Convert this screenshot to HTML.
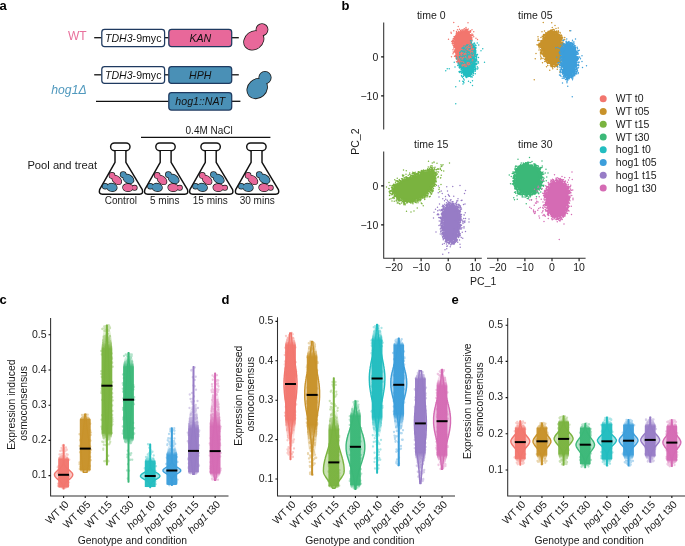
<!DOCTYPE html>
<html><head><meta charset="utf-8"><title>Figure</title>
<style>html,body{margin:0;padding:0;background:#fff;}svg{display:block;}stop{stop-color:currentColor;}text{font-family:"Liberation Sans",sans-serif;}</style>
</head><body>
<svg style="will-change:transform" width="685" height="546" viewBox="0 0 685 546" font-family='"Liberation Sans", sans-serif'>
<rect width="685" height="546" fill="#fff"/>
<text x="-0.60" y="9.60" font-size="13" font-weight="bold" fill="#000">a</text><text x="68.00" y="39.80" font-size="12" fill="#e8709c">WT</text><text x="51.30" y="93.70" font-size="12.2" font-style="italic" fill="#4f98bd">hog1Δ</text><line x1="94.2" y1="37.7" x2="101.5" y2="37.7" stroke="#111" stroke-width="1.3"/><line x1="164.5" y1="37.7" x2="168.6" y2="37.7" stroke="#111" stroke-width="1.3"/><line x1="231.8" y1="37.7" x2="238.8" y2="37.7" stroke="#111" stroke-width="1.3"/><line x1="94.2" y1="74.8" x2="101.5" y2="74.8" stroke="#111" stroke-width="1.3"/><line x1="164.5" y1="74.8" x2="168.6" y2="74.8" stroke="#111" stroke-width="1.3"/><line x1="231.8" y1="74.8" x2="238.8" y2="74.8" stroke="#111" stroke-width="1.3"/><line x1="96" y1="101.3" x2="168.6" y2="101.3" stroke="#111" stroke-width="1.3"/><line x1="231.8" y1="101.3" x2="240.4" y2="101.3" stroke="#111" stroke-width="1.3"/><rect x="101.8" y="29.4" width="62.8" height="17.200000000000003" rx="2.8" fill="#fff" stroke="#1f3a60" stroke-width="1.25"/><rect x="168.8" y="29.4" width="62.89999999999998" height="17.200000000000003" rx="2.8" fill="#e8689a" stroke="#1f3a60" stroke-width="1.25"/><rect x="101.8" y="66.5" width="62.8" height="16.900000000000006" rx="2.8" fill="#fff" stroke="#1f3a60" stroke-width="1.25"/><rect x="168.8" y="66.5" width="62.89999999999998" height="16.900000000000006" rx="2.8" fill="#4a90b6" stroke="#1f3a60" stroke-width="1.25"/><rect x="168.8" y="92.6" width="62.89999999999998" height="17.400000000000006" rx="2.8" fill="#4a90b6" stroke="#1f3a60" stroke-width="1.25"/><text x="133.2" y="41.8" font-size="10.6" text-anchor="middle" fill="#111"><tspan font-style="italic">TDH3</tspan>-9myc</text><text x="133.2" y="78.8" font-size="10.6" text-anchor="middle" fill="#111"><tspan font-style="italic">TDH3</tspan>-9myc</text><text x="200.3" y="41.8" font-size="10.6" text-anchor="middle" font-style="italic" fill="#111">KAN</text><text x="200.3" y="78.8" font-size="10.6" text-anchor="middle" font-style="italic" fill="#111">HPH</text><text x="200.3" y="104.9" font-size="10.6" text-anchor="middle" font-style="italic" fill="#111">hog1::NAT</text><ellipse cx="0" cy="0" rx="10.4" ry="8.6" transform="translate(253.8 40.4) rotate(-38)" fill="#e8689a" stroke="#1a1a1a" stroke-width="1.6"/><circle cx="262.0" cy="29.6" r="5.6" fill="#e8689a" stroke="#1a1a1a" stroke-width="1.6"/><ellipse cx="0" cy="0" rx="10.4" ry="8.6" transform="translate(253.8 40.4) rotate(-38)" fill="#e8689a"/><circle cx="262.0" cy="29.6" r="5.6" fill="#e8689a"/><ellipse cx="0" cy="0" rx="10.6" ry="9.0" transform="translate(257.2 88.6) rotate(-42)" fill="#4a90b6" stroke="#1a1a1a" stroke-width="1.6"/><circle cx="265.0" cy="77.6" r="5.8" fill="#4a90b6" stroke="#1a1a1a" stroke-width="1.6"/><ellipse cx="0" cy="0" rx="10.6" ry="9.0" transform="translate(257.2 88.6) rotate(-42)" fill="#4a90b6"/><circle cx="265.0" cy="77.6" r="5.8" fill="#4a90b6"/><line x1="141" y1="137.4" x2="270.4" y2="137.4" stroke="#111" stroke-width="1.1"/><text x="209.20" y="133.90" font-size="10" text-anchor="middle" fill="#1a1a1a">0.4M NaCl</text><text x="27.40" y="169.40" font-size="11.2" fill="#1a1a1a">Pool and treat</text><g id="flask"><rect x="110.6" y="142.9" width="19.4" height="7.8" rx="3.9" fill="#fff" stroke="#111" stroke-width="1.45"/><path d="M115.0 150.9 V162.3 L99.6 189.6 Q98.4 194.2 102.5 194.2 H139.5 Q143.6 194.2 142.3 189.6 L125.9 162.3 V150.9" fill="#fff" stroke="#111" stroke-width="1.45" stroke-linejoin="round"/><ellipse cx="0" cy="0" rx="5.3" ry="3.5" transform="translate(116.8 180.0) rotate(42)" fill="#e8689a" stroke="#1a1a1a" stroke-width="1.4"/><circle cx="112.0" cy="175.4" r="2.6" fill="#e8689a" stroke="#1a1a1a" stroke-width="1.4"/><ellipse cx="0" cy="0" rx="5.3" ry="3.5" transform="translate(116.8 180.0) rotate(42)" fill="#e8689a"/><circle cx="112.0" cy="175.4" r="2.6" fill="#e8689a"/><ellipse cx="0" cy="0" rx="5.6" ry="3.9" transform="translate(128.4 179.0) rotate(32)" fill="#4a90b6" stroke="#1a1a1a" stroke-width="1.4"/><circle cx="123.2" cy="174.6" r="2.7" fill="#4a90b6" stroke="#1a1a1a" stroke-width="1.4"/><ellipse cx="0" cy="0" rx="5.6" ry="3.9" transform="translate(128.4 179.0) rotate(32)" fill="#4a90b6"/><circle cx="123.2" cy="174.6" r="2.7" fill="#4a90b6"/><ellipse cx="0" cy="0" rx="5.0" ry="3.8" transform="translate(111.9 187.4) rotate(8)" fill="#4a90b6" stroke="#1a1a1a" stroke-width="1.4"/><circle cx="105.2" cy="186.2" r="2.5" fill="#4a90b6" stroke="#1a1a1a" stroke-width="1.4"/><ellipse cx="0" cy="0" rx="5.0" ry="3.8" transform="translate(111.9 187.4) rotate(8)" fill="#4a90b6"/><circle cx="105.2" cy="186.2" r="2.5" fill="#4a90b6"/><ellipse cx="0" cy="0" rx="5.0" ry="3.7" transform="translate(127.9 187.6) rotate(5)" fill="#e8689a" stroke="#1a1a1a" stroke-width="1.4"/><circle cx="134.6" cy="187.8" r="2.3" fill="#e8689a" stroke="#1a1a1a" stroke-width="1.4"/><ellipse cx="0" cy="0" rx="5.0" ry="3.7" transform="translate(127.9 187.6) rotate(5)" fill="#e8689a"/><circle cx="134.6" cy="187.8" r="2.3" fill="#e8689a"/></g><use href="#flask" transform="translate(45.2,0)"/><use href="#flask" transform="translate(90.3,0)"/><use href="#flask" transform="translate(136.1,0)"/><text x="120.90" y="204.40" font-size="10" text-anchor="middle" fill="#1a1a1a">Control</text><text x="164.70" y="204.40" font-size="10" text-anchor="middle" fill="#1a1a1a">5 mins</text><text x="210.30" y="204.40" font-size="10" text-anchor="middle" fill="#1a1a1a">15 mins</text><text x="257.20" y="204.40" font-size="10" text-anchor="middle" fill="#1a1a1a">30 mins</text><text x="341.40" y="9.60" font-size="13" font-weight="bold" fill="#000">b</text><text x="431.20" y="18.70" font-size="10.5" text-anchor="middle" fill="#1a1a1a">time 0</text><text x="535.30" y="18.70" font-size="10.5" text-anchor="middle" fill="#1a1a1a">time 05</text><text x="431.20" y="147.60" font-size="10.5" text-anchor="middle" fill="#1a1a1a">time 15</text><text x="535.30" y="147.60" font-size="10.5" text-anchor="middle" fill="#1a1a1a">time 30</text><path d="M383.7 22.6V129.6M383.7 151.4V258.3H481.8M487.0 258.3H585.6" fill="none" stroke="#303030" stroke-width="1.05"/><path d="M381.1 56.90H383.8M381.1 95.90H383.8M381.1 185.90H383.8M381.1 224.90H383.8M394.00 258.3V261.2M421.10 258.3V261.2M448.20 258.3V261.2M475.30 258.3V261.2M497.80 258.3V261.2M524.90 258.3V261.2M552.00 258.3V261.2M579.10 258.3V261.2" stroke="#111" stroke-width="1.1"/><text x="378.30" y="60.70" font-size="10.5" text-anchor="end" fill="#1a1a1a">0</text><text x="378.30" y="99.70" font-size="10.5" text-anchor="end" fill="#1a1a1a">−10</text><text x="378.30" y="189.70" font-size="10.5" text-anchor="end" fill="#1a1a1a">0</text><text x="378.30" y="228.70" font-size="10.5" text-anchor="end" fill="#1a1a1a">−10</text><text x="394.00" y="270.80" font-size="10.5" text-anchor="middle" fill="#1a1a1a">−20</text><text x="421.10" y="270.80" font-size="10.5" text-anchor="middle" fill="#1a1a1a">−10</text><text x="448.20" y="270.80" font-size="10.5" text-anchor="middle" fill="#1a1a1a">0</text><text x="475.30" y="270.80" font-size="10.5" text-anchor="middle" fill="#1a1a1a">10</text><text x="497.80" y="270.80" font-size="10.5" text-anchor="middle" fill="#1a1a1a">−20</text><text x="524.90" y="270.80" font-size="10.5" text-anchor="middle" fill="#1a1a1a">−10</text><text x="552.00" y="270.80" font-size="10.5" text-anchor="middle" fill="#1a1a1a">0</text><text x="579.10" y="270.80" font-size="10.5" text-anchor="middle" fill="#1a1a1a">10</text><text x="483.20" y="284.80" font-size="10.5" text-anchor="middle" fill="#1a1a1a">PC_1</text><text transform="translate(358.6 141.6) rotate(-90)" font-size="10.5" text-anchor="middle" fill="#1a1a1a">PC_2</text><circle cx="603.2" cy="98.70" r="3.5" fill="#f2766e"/><text x="615.80" y="102.40" font-size="10.5" fill="#1a1a1a">WT t0</text><circle cx="603.2" cy="111.47" r="3.5" fill="#c8922a"/><text x="615.80" y="115.17" font-size="10.5" fill="#1a1a1a">WT t05</text><circle cx="603.2" cy="124.24" r="3.5" fill="#7ab33f"/><text x="615.80" y="127.94" font-size="10.5" fill="#1a1a1a">WT t15</text><circle cx="603.2" cy="137.01" r="3.5" fill="#3bb878"/><text x="615.80" y="140.71" font-size="10.5" fill="#1a1a1a">WT t30</text><circle cx="603.2" cy="149.78" r="3.5" fill="#22bdc0"/><text x="615.80" y="153.48" font-size="10.5" fill="#1a1a1a">hog1 t0</text><circle cx="603.2" cy="162.55" r="3.5" fill="#3c9edb"/><text x="615.80" y="166.25" font-size="10.5" fill="#1a1a1a">hog1 t05</text><circle cx="603.2" cy="175.32" r="3.5" fill="#977cc6"/><text x="615.80" y="179.02" font-size="10.5" fill="#1a1a1a">hog1 t15</text><circle cx="603.2" cy="188.09" r="3.5" fill="#d56bb4"/><text x="615.80" y="191.79" font-size="10.5" fill="#1a1a1a">hog1 t30</text><path d="M461.5 31.6L459.6 32.4L458.1 33.5L456.9 34.8L456.1 36.4L455.5 38.2L455.2 40.0L454.9 42.0L454.9 44.1L455.0 46.3L455.2 48.4L455.4 50.4L455.8 52.4L456.2 54.3L456.7 56.0L457.2 57.3L457.8 58.4L458.6 59.1L459.3 59.2L460.1 58.7L460.9 57.6L461.7 55.8L462.7 54.0L463.9 52.2L465.2 50.3L466.7 48.4L468.0 46.5L469.0 44.6L469.7 42.8L470.1 41.1L470.4 39.4L470.4 37.7L470.2 36.1L469.7 34.5L469.1 33.2L468.3 32.2L467.3 31.5L466.1 31.0L464.7 30.9L463.2 31.1Z" fill="#f2766e"/><path transform="scale(.25)" d="M1815 90h0m57 1h0m-39 15h0m31 4h0m-6 5h0m15 1h0m-17 0h0m10 1h0m-28 0h0m27 0h0m-3 0h0m8 2h0m-22 0h0m0 0h0m40 0h0m-58 0h0m33 1h0m-8 0h0m-5 0h0m-1 1h0m19 0h0m-12 1h0m0 0h0m-7 0h0m-7 0h0m26 0h0m-53 1h0m67 0h0m-1 0h0m-14 0h0m-6 0h0m2 1h0m8 0h0m12 0h0m-24 0h0m-14 1h0m18 0h0m3 0h0m-15 0h0m24 0h0m-7 0h0m-17 0h0m7 0h0m2 0h0m9 1h0m-27 0h0m31 0h0m-47 0h0m8 0h0m40 0h0m-39 0h0m24 0h0m13 0h0m-4 0h0m9 1h0m18 0h0m-33 0h0m-5 0h0m25 0h0m-37 1h0m35 0h0m-34 0h0m-6 0h0m30 0h0m2 1h0m10 0h0m-48 0h0m18 0h0m23 0h0m-71 0h0m73 1h0m0 0h0m-39 0h0m18 0h0m-22 0h0m19 0h0m-25 0h0m9 1h0m8 0h0m31 1h0m-10 0h0m-37 0h0m13 0h0m-13 0h0m48 0h0m-39 1h0m-33 0h0m30 0h0m-10 0h0m52 0h0m-41 1h0m35 1h0m-34 0h0m-1 0h0m2 0h0m0 1h0m-12 0h0m50 0h0m-4 0h0m-41 0h0m57 0h0m-57 0h0m47 1h0m-53 1h0m51 0h0m-45 0h0m51 1h0m-57 0h0m58 0h0m-57 0h0m5 0h0m0 0h0m51 0h0m10 1h0m-13 1h0m13 0h0m-7 0h0m-58 1h0m-3 0h0m-1 0h0m55 1h0m7 0h0m-5 0h0m8 0h0m-65 0h0m5 1h0m-3 1h0m4 0h0m49 0h0m3 0h0m-1 0h0m0 1h0m-61 0h0m58 0h0m18 1h0m-13 0h0m-64 0h0m5 0h0m-7 0h0m9 0h0m-3 1h0m0 0h0m-3 1h0m64 0h0m1 1h0m-3 0h0m-54 0h0m60 0h0m-6 0h0m4 1h0m-66 0h0m63 0h0m-61 1h0m61 0h0m4 0h0m2 0h0m-66 0h0m1 1h0m-3 0h0m61 0h0m-1 0h0m-63 0h0m63 0h0m24 0h0m-23 0h0m-63 0h0m65 1h0m-61 1h0m-9 0h0m72 1h0m-66 0h0m-2 0h0m6 1h0m-29 0h0m86 1h0m30 0h0m-92 0h0m4 1h0m66 0h0m-71 0h0m63 0h0m8 2h0m-7 0h0m-70 0h0m71 0h0m-60 1h0m57 0h0m-63 0h0m61 0h0m-55 0h0m62 0h0m-3 1h0m-69 0h0m63 0h0m-66 1h0m71 0h0m4 1h0m-64 0h0m60 0h0m-63 1h0m5 0h0m-2 0h0m1 0h0m64 0h0m-73 0h0m3 0h0m69 0h0m-77 0h0m75 0h0m-2 0h0m2 0h0m-60 0h0m57 1h0m-61 1h0m-8 0h0m11 1h0m56 0h0m-67 0h0m74 1h0m-4 0h0m-1 0h0m-58 0h0m58 1h0m-59 0h0m-4 0h0m7 1h0m-3 0h0m60 0h0m-61 1h0m-1 0h0m0 0h0m59 1h0m-63 0h0m-5 0h0m71 1h0m-57 0h0m55 0h0m6 0h0m-64 0h0m58 1h0m-58 0h0m-9 0h0m65 1h0m5 0h0m2 0h0m-3 0h0m9 0h0m-71 1h0m58 0h0m-57 0h0m61 0h0m-9 0h0m-51 2h0m-3 1h0m61 0h0m-2 0h0m-56 1h0m-7 0h0m3 0h0m59 0h0m-52 0h0m-9 1h0m65 1h0m-7 1h0m-49 0h0m1 1h0m-8 0h0m6 0h0m-1 1h0m55 1h0m-55 0h0m-2 1h0m7 0h0m43 0h0m-2 0h0m5 0h0m5 0h0m-61 1h0m7 0h0m46 0h0m6 0h0m-11 0h0m2 1h0m-40 0h0m40 0h0m7 0h0m-51 1h0m43 0h0m8 0h0m-58 0h0m50 1h0m-1 0h0m3 1h0m-6 0h0m3 1h0m-2 0h0m16 1h0m12 1h0m-22 0h0m-1 1h0m-5 0h0m-42 0h0m43 0h0m-51 1h0m9 0h0m53 0h0m-54 0h0m3 0h0m45 0h0m-2 0h0m1 1h0m-4 0h0m-41 1h0m40 0h0m1 1h0m-43 0h0m7 0h0m-4 0h0m43 1h0m-47 0h0m53 0h0m21 0h0m-72 0h0m-3 1h0m36 0h0m9 0h0m1 0h0m-6 1h0m10 1h0m-50 0h0m39 0h0m-35 0h0m-1 0h0m0 0h0m56 1h0m-64 1h0m47 0h0m2 0h0m-40 0h0m31 0h0m-29 1h0m31 0h0m4 0h0m-3 0h0m-42 0h0m6 0h0m29 1h0m-28 0h0m32 0h0m-26 0h0m27 0h0m5 0h0m-1 2h0m-35 1h0m28 0h0m0 0h0m-1 1h0m1 0h0m6 0h0m-6 1h0m-39 0h0m38 0h0m-25 0h0m0 1h0m2 0h0m29 0h0m-4 1h0m1 0h0m-2 0h0m1 1h0m-1 0h0m0 0h0m-27 1h0m0 0h0m26 1h0m-5 0h0m14 0h0m-32 0h0m-2 0h0m0 0h0m30 0h0m-30 1h0m23 0h0m-25 0h0m1 0h0m-2 1h0m39 0h0m-10 0h0m-7 0h0m-21 0h0m23 1h0m-20 0h0m23 0h0m-26 1h0m4 0h0m0 1h0m-9 0h0m12 0h0m20 0h0m-4 0h0m2 0h0m-3 1h0m-16 0h0m-7 0h0m12 1h0m-7 0h0m-21 0h0m40 1h0m4 0h0m-1 0h0m-20 1h0m15 0h0m-17 0h0m-1 1h0m12 0h0m-6 0h0m-2 0h0m14 0h0m1 0h0m0 1h0m-5 0h0m3 0h0m-2 0h0m9 1h0m-3 0h0m-23 0h0m19 0h0m-5 1h0m-3 1h0m-2 1h0m-8 0h0m12 2h0m5 0h0m-3 0h0m-9 1h0m21 0h0m-16 0h0m0 0h0m5 3h0m-7 0h0m0 0h0m21 0h0m-14 1h0m22 2h0m-31 0h0m6 1h0m-9 1h0m-2 1h0m14 2h0m-9 0h0" stroke="#f2766e" stroke-width="5.8" stroke-linecap="round" fill="none"/><path d="M466.0 45.0L464.7 46.1L463.6 47.5L462.7 49.3L461.9 51.5L461.2 53.9L460.8 56.4L460.7 59.0L460.8 61.5L461.1 64.1L461.6 66.6L462.3 68.8L463.1 70.9L464.2 72.8L465.3 74.1L466.6 74.9L468.0 75.1L469.6 74.8L470.9 73.6L472.1 71.5L473.1 68.4L473.9 64.5L474.4 60.7L474.6 57.2L474.6 54.0L474.2 50.9L473.6 48.4L472.7 46.5L471.5 45.2L470.1 44.4L468.7 44.1L467.4 44.3Z" fill="#22bdc0"/><path transform="scale(.25)" d="M1882 163h0m6 1h0m-2 6h0m-1 2h0m0 0h0m24 0h0m-12 0h0m-12 1h0m-3 1h0m4 1h0m-5 1h0m1 0h0m5 0h0m6 0h0m6 0h0m-17 0h0m0 1h0m-1 1h0m1 0h0m1 0h0m-2 0h0m6 1h0m6 1h0m22 0h0m-23 0h0m9 0h0m-11 0h0m-5 1h0m4 0h0m5 0h0m-3 0h0m-1 0h0m1 1h0m-8 0h0m21 0h0m-18 0h0m4 0h0m-3 0h0m8 1h0m0 0h0m-2 1h0m1 0h0m-9 0h0m1 0h0m8 0h0m-5 0h0m9 1h0m-9 0h0m2 1h0m-5 1h0m2 2h0m6 0h0m9 0h0m-5 0h0m-5 1h0m5 0h0m-8 0h0m6 0h0m1 1h0m4 1h0m3 0h0m-14 0h0m5 0h0m-1 1h0m-1 1h0m3 0h0m-2 0h0m37 1h0m-40 0h0m9 1h0m2 0h0m-3 0h0m-3 1h0m-2 0h0m3 0h0m-2 0h0m0 1h0m5 0h0m-4 0h0m-2 0h0m-2 0h0m7 1h0m-3 0h0m6 2h0m-6 0h0m3 0h0m-4 1h0m5 0h0m24 1h0m-27 0h0m7 1h0m-9 0h0m6 0h0m-5 1h0m6 0h0m1 0h0m-9 0h0m9 0h0m-9 1h0m4 1h0m-2 0h0m2 0h0m-2 1h0m2 1h0m-2 0h0m5 0h0m-6 0h0m-2 0h0m1 1h0m9 0h0m-10 0h0m5 2h0m1 0h0m1 0h0m-1 2h0m-2 1h0m-2 1h0m8 0h0m-1 1h0m-4 0h0m12 1h0m-15 0h0m13 0h0m-12 1h0m5 0h0m-5 0h0m-1 2h0m3 1h0m9 0h0m-10 0h0m1 0h0m-1 1h0m2 1h0m3 0h0m-4 0h0m0 1h0m2 0h0m-57 1h0m-5 0h0m64 0h0m-4 0h0m0 0h0m-71 1h0m9 1h0m4 0h0m3 0h0m63 0h0m-68 0h0m0 0h0m68 0h0m1 0h0m-70 1h0m-4 0h0m10 1h0m71 0h0m-72 1h0m-1 0h0m58 0h0m7 1h0m-8 1h0m-53 0h0m53 0h0m-69 0h0m-2 1h0m1 0h0m7 0h0m61 0h0m5 1h0m-65 0h0m11 1h0m-5 0h0m53 0h0m4 0h0m-57 0h0m64 0h0m-9 1h0m-57 0h0m61 0h0m-61 0h0m-2 1h0m4 0h0m53 0h0m-52 0h0m-6 0h0m-9 0h0m11 0h0m2 1h0m61 0h0m-3 0h0m-53 0h0m-8 1h0m2 0h0m67 0h0m-71 0h0m62 0h0m-59 0h0m59 0h0m-3 1h0m-62 0h0m66 0h0m8 1h0m-9 0h0m7 0h0m-65 0h0m7 0h0m50 0h0m-59 1h0m59 0h0m-1 0h0m8 0h0m-68 0h0m58 0h0m-54 0h0m1 1h0m-6 1h0m61 0h0m-48 1h0m53 0h0m-57 0h0m-2 0h0m60 0h0m-59 1h0m-10 0h0m67 0h0m-56 0h0m69 0h0m-80 1h0m9 0h0m66 0h0m-68 0h0m2 1h0m1 0h0m55 0h0m40 0h0m-38 0h0m-83 0h0m19 1h0m58 0h0m5 0h0m-1 0h0m-58 1h0m54 0h0m-55 0h0m6 1h0m69 0h0m-76 1h0m-4 0h0m68 0h0m-67 0h0m63 0h0m-1 1h0m2 0h0m-6 0h0m7 0h0m3 1h0m5 0h0m-68 0h0m-7 0h0m72 0h0m1 0h0m-69 0h0m58 0h0m-63 0h0m68 1h0m-59 0h0m53 0h0m-51 0h0m-7 0h0m64 0h0m1 1h0m-8 0h0m-55 0h0m3 0h0m-4 1h0m2 0h0m67 0h0m-63 0h0m-1 0h0m61 0h0m-63 1h0m-4 0h0m4 0h0m56 0h0m-6 1h0m-54 0h0m64 0h0m-61 0h0m62 0h0m-6 1h0m5 0h0m-3 0h0m1 0h0m-2 0h0m-55 0h0m4 0h0m-6 1h0m55 0h0m-2 0h0m-61 0h0m10 1h0m50 0h0m-45 1h0m49 0h0m-49 0h0m-7 0h0m56 0h0m-50 0h0m-1 1h0m0 0h0m1 0h0m56 0h0m-4 1h0m-2 0h0m-51 0h0m55 1h0m10 0h0m-68 0h0m59 1h0m-80 0h0m16 0h0m55 0h0m-44 0h0m0 1h0m2 0h0m43 0h0m2 0h0m-52 0h0m54 1h0m-55 0h0m53 0h0m7 1h0m-54 0h0m-9 0h0m9 0h0m49 1h0m-47 0h0m43 0h0m20 0h0m-74 0h0m57 1h0m8 0h0m-9 0h0m-43 0h0m42 0h0m0 1h0m-48 0h0m56 1h0m-51 0h0m45 0h0m-1 0h0m-1 0h0m2 0h0m-98 0h0m107 1h0m-14 0h0m20 0h0m-19 1h0m5 0h0m-52 0h0m55 1h0m-51 0h0m46 1h0m2 0h0m-6 0h0m2 1h0m10 0h0m-12 0h0m2 0h0m-37 1h0m36 0h0m-42 0h0m45 0h0m-46 0h0m2 1h0m5 0h0m37 0h0m-36 1h0m32 0h0m-35 0h0m34 1h0m-36 0h0m42 0h0m-40 0h0m43 0h0m-41 1h0m-1 0h0m-14 0h0m55 0h0m-5 0h0m11 0h0m-11 0h0m-46 0h0m46 1h0m-34 0h0m-2 0h0m-18 1h0m10 0h0m44 0h0m1 0h0m-35 0h0m34 0h0m-39 0h0m-10 1h0m10 0h0m43 1h0m-2 0h0m-6 0h0m-1 1h0m-29 0h0m-4 0h0m-13 0h0m19 0h0m-8 0h0m34 1h0m-4 0h0m7 0h0m3 0h0m-32 0h0m0 0h0m31 0h0m-35 1h0m29 0h0m-25 1h0m-4 0h0m0 0h0m2 0h0m-10 0h0m47 0h0m-37 0h0m29 1h0m-26 0h0m24 0h0m11 0h0m-32 1h0m24 0h0m0 0h0m15 0h0m-42 0h0m-6 0h0m16 1h0m10 0h0m3 0h0m2 0h0m-16 1h0m-3 0h0m0 0h0m-11 1h0m22 0h0m9 0h0m-24 0h0m4 0h0m2 0h0m-7 0h0m8 0h0m20 1h0m-22 0h0m6 0h0m8 0h0m-24 0h0m17 0h0m-12 0h0m-5 0h0m2 0h0m14 0h0m6 1h0m-16 0h0m-1 0h0m-4 0h0m13 0h0m10 0h0m-17 1h0m7 0h0m8 0h0m-1 0h0m16 0h0m-21 0h0m1 0h0m-14 0h0m9 1h0m14 0h0m-5 0h0m-31 0h0m19 1h0m0 0h0m10 0h0m-2 1h0m-19 0h0m23 0h0m-4 0h0m-3 0h0m-6 0h0m0 1h0m-10 0h0m24 0h0m-2 0h0m-29 0h0m27 1h0m-9 0h0m21 1h0m-24 0h0m20 0h0m-14 1h0m21 0h0m-21 1h0m-18 0h0m16 1h0m-12 5h0m3 5h0m33 3h0m-16 2h0m-23 0h0m3 2h0m28 3h0m-26 1h0m34 11h0m-107-59h0m6-8h0m34 72h0m0 68h0m15-91h0m14 12h0" stroke="#22bdc0" stroke-width="5.8" stroke-linecap="round" fill="none"/><path transform="scale(.25)" d="M1858 166h0m7 0h0m-3 1h0m2 1h0m-15 2h0m13 1h0m5 1h0m4 0h0m-11 0h0m-13 1h0m18 1h0m-8 1h0m-2 0h0m17 0h0m-19 0h0m6 1h0m18 0h0m6 0h0m-18 1h0m18 0h0m-25 0h0m6 0h0m-5 0h0m26 0h0m-33 1h0m-10 1h0m9 0h0m6 0h0m-9 0h0m-5 1h0m38 0h0m-41 1h0m9 0h0m0 1h0m1 0h0m31 1h0m-44 0h0m4 0h0m33 0h0m-10 1h0m-13 0h0m-3 0h0m10 0h0m31 0h0m-4 1h0m-37 0h0m-6 1h0m16 0h0m-20 0h0m31 1h0m13 0h0m5 0h0m-34 1h0m27 0h0m-21 1h0m6 0h0m-14 1h0m24 0h0m1 0h0m-33 0h0m2 0h0m30 1h0m-24 0h0m-8 0h0m44 1h0m-24 0h0m-18 0h0m-10 0h0m37 1h0m14 0h0m-33 1h0m23 0h0m-13 0h0m-26 0h0m58 1h0m-33 0h0m27 0h0m-57 0h0m9 1h0m30 1h0m-22 1h0m36 0h0m-50 0h0m17 0h0m18 0h0m-35 0h0m48 1h0m9 0h0m-30 0h0m-28 0h0m41 0h0m-29 0h0m10 1h0m26 0h0m-15 0h0m14 0h0m-36 1h0m-12 1h0m44 0h0m-15 1h0m14 0h0m1 0h0m-30 0h0m20 1h0m8 0h0m8 0h0m-19 2h0m27 0h0m2 1h0m-4 0h0m-53 0h0m48 0h0m-29 1h0m-18 0h0m4 0h0m-13 0h0m65 0h0m-50 1h0m-16 0h0m56 1h0m-7 0h0m-30 1h0m40 0h0m-1 0h0m-23 1h0m-12 0h0m-14 0h0m34 1h0m4 1h0m-31 0h0m44 0h0m-37 0h0m20 0h0m22 1h0m-51 0h0m18 0h0m-26 0h0m-5 0h0m51 1h0m-12 0h0m-20 0h0m38 1h0m-59 0h0m70 0h0m-46 0h0m6 0h0m5 0h0m28 0h0m0 1h0m-6 0h0m1 0h0m-46 0h0m59 1h0m-11 0h0m-53 0h0m13 1h0m34 0h0m-20 0h0m34 0h0m-48 0h0m41 0h0m-39 0h0m5 1h0m-10 0h0m16 0h0m2 1h0m26 0h0m-36 0h0m11 1h0m31 0h0m-48 1h0m-2 0h0m0 0h0m-14 0h0m45 0h0m1 0h0m20 0h0m-29 1h0m-4 0h0m28 1h0m-22 0h0m23 0h0m-59 1h0m45 0h0m5 0h0m-50 0h0m30 1h0m14 1h0m8 0h0m2 0h0m-18 0h0m5 1h0m-30 0h0m10 0h0m-21 0h0m43 0h0m-20 0h0m24 1h0m-4 0h0m-30 0h0m29 1h0m-12 0h0m8 0h0m-7 0h0m-12 0h0m18 0h0m-34 1h0m14 0h0m22 1h0m14 0h0m-43 0h0m33 1h0m-45 2h0m22 1h0m36 1h0m-49 0h0m52 1h0m-22 0h0m-23 0h0m16 1h0m24 0h0m-53 0h0m45 1h0m-37 0h0m-6 1h0m0 1h0m49 0h0m1 0h0m-46 2h0m8 0h0m-14 0h0m7 1h0m29 0h0m15 1h0m-28 0h0m-5 0h0m-6 1h0m45 0h0m-18 0h0m-2 1h0m3 0h0m15 0h0m-33 2h0m-12 0h0m37 0h0m-43 0h0m42 0h0m4 0h0m-28 1h0m13 0h0m2 1h0m-3 0h0m-22 1h0m25 0h0m0 1h0m7 0h0m-9 0h0m-17 1h0m13 0h0m17 0h0m-2 0h0m-15 0h0m12 0h0m1 0h0m-35 0h0m14 0h0m-11 1h0m20 0h0m9 1h0m7 0h0m-22 0h0m-10 0h0m15 1h0m-15 1h0m6 1h0m-6 2h0m22 1h0m-5 0h0m-9 1h0m6 0h0" stroke="#f2766e" stroke-width="5.8" stroke-linecap="round" fill="none"/><path transform="scale(.25)" d="M1867 180h0m-11 4h0m24 1h0m-17 1h0m-11 4h0m8 2h0m0 0h0m-4 0h0m-8 1h0m30 2h0m-3 1h0m-22 0h0m10 3h0m1 1h0m-17 3h0m0 0h0m18 0h0m-17 0h0m-3 1h0m26 1h0m24 0h0m-40 1h0m-14 2h0m17 0h0m1 0h0m15 1h0m-35 1h0m38 0h0m10 1h0m-18 2h0m24 0h0m-7 2h0m-10 1h0m-37 1h0m59 0h0m-19 0h0m11 1h0m-20 1h0m-19 0h0m12 3h0m-7 0h0m42 0h0m-27 0h0m-28 2h0m44 1h0m5 1h0m-43 0h0m18 1h0m3 1h0m19 3h0m-17 2h0m-11 0h0m-3 2h0m26 0h0m-41 1h0m41 1h0m2 0h0m-30 1h0m4 1h0m22 0h0m-12 2h0m-25 1h0m37 0h0m-5 1h0m-13 0h0m22 1h0m-25 0h0m-3 0h0m22 0h0m-9 2h0m-8 1h0m-5 0h0m28 2h0m-37 1h0m33 0h0m8 1h0m-47 0h0m1 2h0m38 0h0m-28 1h0m-7 2h0m18 0h0m-22 1h0m39 3h0m-11 5h0m16 0h0m-32 2h0m21 4h0m-3 0h0m2 2h0" stroke="#22bdc0" stroke-width="5.8" stroke-linecap="round" fill="none"/><path d="M549.4 32.9L547.5 33.6L545.8 34.9L544.4 36.7L543.2 38.9L542.4 41.6L542.0 44.4L542.2 47.3L542.9 50.3L544.0 53.3L545.3 56.0L546.8 58.5L548.3 60.7L549.9 62.6L551.5 63.8L553.1 64.5L554.7 64.4L556.2 63.8L557.6 62.4L558.7 60.3L559.8 57.4L560.6 53.7L561.2 50.2L561.4 46.8L561.3 43.6L560.9 40.6L560.1 38.1L558.9 36.0L557.4 34.4L555.4 33.3L553.4 32.7L551.4 32.6Z" fill="#c8922a"/><path transform="scale(.25)" d="M2173 90h0m34 1h0m13 11h0m-11 8h0m24 2h0m-9 2h0m-8 4h0m-2 0h0m-5 1h0m-5 1h0m5 0h0m-2 0h0m2 1h0m8 0h0m-15 0h0m4 0h0m0 1h0m73 1h0m-46 0h0m-24 1h0m17 0h0m-21 0h0m-6 0h0m-21 0h0m47 1h0m-9 0h0m-11 0h0m-12 0h0m16 1h0m25 0h0m-16 0h0m8 0h0m-6 0h0m-22 0h0m7 0h0m19 0h0m-56 1h0m25 0h0m12 0h0m14 0h0m-7 0h0m-3 1h0m-18 0h0m38 0h0m-13 0h0m-2 0h0m15 0h0m-36 0h0m9 0h0m21 1h0m-10 0h0m-13 0h0m2 0h0m4 0h0m-15 0h0m28 1h0m-23 0h0m10 0h0m7 0h0m-21 0h0m32 0h0m-6 0h0m-10 0h0m32 0h0m-40 0h0m7 0h0m11 0h0m-26 0h0m30 0h0m11 0h0m-36 0h0m18 1h0m-30 0h0m16 0h0m31 0h0m-30 0h0m-19 0h0m34 0h0m0 1h0m-5 0h0m20 0h0m-46 0h0m39 0h0m-41 0h0m57 0h0m-51 0h0m18 1h0m24 1h0m-5 0h0m-39 0h0m28 0h0m-28 1h0m31 0h0m-33 0h0m5 0h0m34 0h0m0 0h0m-32 0h0m0 0h0m26 0h0m-33 0h0m30 0h0m15 0h0m-45 0h0m33 1h0m4 0h0m3 0h0m-44 0h0m47 0h0m-35 0h0m30 0h0m-39 0h0m-1 1h0m29 0h0m1 0h0m21 0h0m-47 0h0m-6 0h0m-3 1h0m-5 0h0m55 0h0m-10 0h0m18 0h0m-9 0h0m5 0h0m-49 1h0m-1 0h0m56 0h0m-4 0h0m-60 0h0m9 1h0m61 0h0m-61 0h0m49 0h0m-50 0h0m53 1h0m-62 0h0m13 0h0m-12 0h0m64 0h0m4 0h0m-11 1h0m-51 0h0m49 0h0m9 0h0m-59 0h0m53 0h0m14 1h0m-71 0h0m-2 1h0m66 0h0m-4 0h0m12 1h0m-11 0h0m-68 0h0m6 0h0m-3 0h0m67 1h0m-66 0h0m2 0h0m64 1h0m-3 0h0m-84 0h0m85 0h0m3 0h0m2 0h0m3 1h0m-73 0h0m1 0h0m6 1h0m61 0h0m-68 0h0m68 0h0m-3 1h0m-73 0h0m95 0h0m-79 0h0m-3 0h0m66 1h0m5 0h0m-72 0h0m-2 0h0m1 0h0m76 0h0m-11 0h0m0 0h0m-67 0h0m70 1h0m4 1h0m-71 0h0m69 0h0m-5 0h0m-62 2h0m-7 0h0m72 0h0m5 0h0m-70 1h0m-7 0h0m-18 0h0m89 0h0m-70 0h0m70 1h0m-2 1h0m19 0h0m-87 0h0m74 0h0m-73 0h0m66 1h0m7 0h0m-2 0h0m-3 1h0m-2 0h0m14 0h0m-80 0h0m71 1h0m-2 0h0m3 1h0m7 0h0m-96 0h0m-5 0h0m91 0h0m-72 0h0m-4 0h0m75 0h0m-73 1h0m8 0h0m-10 0h0m79 0h0m-78 0h0m-5 1h0m81 1h0m-74 0h0m3 0h0m-4 1h0m-1 0h0m85 0h0m-9 1h0m-4 1h0m-72 1h0m4 1h0m80 0h0m-87 0h0m82 0h0m-79 0h0m2 0h0m1 0h0m78 1h0m-78 0h0m-7 0h0m83 1h0m2 0h0m-77 0h0m75 1h0m-90 0h0m92 0h0m4 0h0m-92 0h0m9 0h0m-3 0h0m82 0h0m1 1h0m-4 0h0m7 1h0m-95 0h0m96 0h0m-5 0h0m-80 1h0m90 0h0m-15 0h0m12 0h0m-94 0h0m8 0h0m-3 1h0m-2 0h0m0 0h0m85 0h0m-4 0h0m-78 0h0m-12 1h0m4 0h0m3 0h0m84 0h0m-98 1h0m99 0h0m2 0h0m0 0h0m-6 0h0m11 0h0m-7 1h0m-95 0h0m94 0h0m12 1h0m-89 0h0m1 0h0m-12 0h0m91 0h0m-85 0h0m-3 1h0m84 0h0m3 1h0m-2 0h0m-91 0h0m16 1h0m75 0h0m-79 0h0m-1 1h0m-9 0h0m10 0h0m0 0h0m-3 1h0m82 0h0m-75 0h0m80 1h0m-7 0h0m4 0h0m-93 0h0m11 1h0m79 1h0m-76 0h0m-2 0h0m-4 0h0m81 0h0m-83 0h0m12 0h0m81 1h0m-8 0h0m-83 0h0m2 0h0m3 0h0m114 0h0m-32 1h0m-85 0h0m-8 1h0m0 0h0m110 0h0m-96 0h0m73 0h0m16 0h0m-92 0h0m-2 1h0m77 0h0m-70 0h0m83 0h0m2 0h0m-15 0h0m9 0h0m-9 1h0m-76 0h0m87 0h0m-8 0h0m-3 0h0m2 0h0m-73 1h0m75 0h0m-2 0h0m19 0h0m-20 0h0m14 1h0m-84 0h0m-4 0h0m4 0h0m67 2h0m10 0h0m1 0h0m-85 0h0m2 1h0m-7 0h0m81 0h0m0 0h0m-74 0h0m-13 1h0m11 0h0m80 0h0m6 1h0m-80 0h0m-6 0h0m80 0h0m-1 1h0m-76 0h0m80 0h0m0 1h0m-2 0h0m-1 0h0m-83 0h0m10 1h0m-1 0h0m69 0h0m-71 0h0m72 0h0m10 1h0m-85 0h0m6 0h0m80 0h0m-12 1h0m29 0h0m-105 0h0m2 0h0m76 0h0m12 0h0m-6 1h0m-1 1h0m5 0h0m-92 0h0m107 0h0m-94 0h0m-10 1h0m78 0h0m7 0h0m-10 0h0m11 0h0m-4 1h0m-67 0h0m74 0h0m-77 0h0m72 0h0m-87 0h0m74 0h0m4 0h0m-72 0h0m-4 1h0m10 0h0m4 0h0m64 0h0m2 0h0m18 0h0m-82 0h0m67 1h0m5 0h0m-78 0h0m70 0h0m5 0h0m-12 0h0m6 1h0m-67 0h0m-14 0h0m9 0h0m72 0h0m20 0h0m-93 1h0m5 0h0m-31 0h0m105 0h0m2 1h0m-79 0h0m-6 0h0m13 0h0m80 1h0m-85 0h0m67 0h0m12 0h0m-5 0h0m-5 0h0m-69 0h0m65 0h0m7 0h0m12 0h0m-7 1h0m-71 0h0m-10 0h0m8 1h0m62 0h0m-59 0h0m69 0h0m4 1h0m-77 0h0m67 0h0m0 1h0m1 0h0m-3 0h0m1 0h0m-2 0h0m-79 0h0m80 0h0m9 1h0m-12 1h0m-62 0h0m-4 0h0m71 0h0m0 0h0m-60 1h0m-10 0h0m68 1h0m-66 0h0m6 0h0m59 1h0m-2 0h0m0 0h0m-64 1h0m68 0h0m-59 0h0m57 0h0m33 0h0m-90 0h0m-7 0h0m3 1h0m62 0h0m-79 0h0m19 1h0m6 0h0m-4 0h0m80 1h0m-23 0h0m4 0h0m-8 0h0m20 0h0m-73 0h0m59 0h0m8 0h0m-12 1h0m2 0h0m2 0h0m-2 0h0m-56 1h0m52 0h0m-71 1h0m81 0h0m3 0h0m-9 0h0m-55 0h0m54 0h0m-57 1h0m52 0h0m3 0h0m-56 1h0m55 0h0m-50 0h0m-15 0h0m-31 1h0m97 0h0m-1 0h0m-49 0h0m1 0h0m45 1h0m-71 0h0m27 1h0m61 0h0m-13 0h0m2 0h0m-61 0h0m7 0h0m66 1h0m-73 0h0m54 0h0m5 0h0m3 0h0m-9 0h0m-3 0h0m9 0h0m-2 1h0m3 0h0m-4 0h0m-2 1h0m-44 0h0m1 0h0m-4 0h0m-3 0h0m6 0h0m48 1h0m-49 0h0m46 0h0m-43 0h0m-3 0h0m44 1h0m-43 0h0m-3 0h0m1 0h0m62 0h0m-55 0h0m36 0h0m5 1h0m-45 0h0m-1 0h0m56 0h0m-59 1h0m10 0h0m39 0h0m2 0h0m-2 0h0m9 0h0m-7 0h0m4 1h0m-4 0h0m-1 0h0m-5 0h0m-50 0h0m54 0h0m-41 1h0m-15 0h0m19 0h0m41 1h0m-5 0h0m1 0h0m-41 0h0m1 0h0m40 0h0m4 0h0m-42 0h0m34 1h0m-37 0h0m3 0h0m35 0h0m-28 0h0m-18 0h0m46 0h0m-4 0h0m9 0h0m-44 0h0m46 0h0m-42 1h0m38 0h0m-6 0h0m-30 0h0m30 1h0m9 0h0m4 0h0m-48 0h0m-5 0h0m5 1h0m6 0h0m-30 0h0m29 0h0m27 0h0m14 1h0m-18 0h0m-27 0h0m11 0h0m-4 1h0m-7 0h0m4 0h0m24 0h0m-16 0h0m6 0h0m-23 1h0m24 0h0m-13 0h0m1 0h0m32 1h0m-4 1h0m-18 0h0m7 0h0m-17 0h0m0 0h0m8 0h0m-7 0h0m31 0h0m-4 0h0m-2 1h0m-3 0h0m6 1h0m-7 0h0m-14 0h0m15 0h0m-19 0h0m2 0h0m-5 0h0m15 0h0m19 0h0m-24 0h0m9 0h0m3 1h0m3 0h0m-3 0h0m-6 0h0m0 0h0m-7 0h0m-1 0h0m13 1h0m-6 0h0m-6 0h0m-11 1h0m29 0h0m-8 0h0m-16 0h0m-15 1h0m37 0h0m17 0h0m-38 0h0m-1 0h0m24 1h0m-7 0h0m-11 1h0m11 0h0m-2 1h0m-8 0h0m16 0h0m-25 1h0m4 0h0m3 0h0m17 0h0m21 1h0m-32 0h0m3 0h0m-34 0h0m32 1h0m13 0h0m-21 1h0m1 6h0m18 2h0m-30 4h0m40 7h0m-102 31h0" stroke="#c8922a" stroke-width="5.8" stroke-linecap="round" fill="none"/><path d="M566.0 45.3L564.9 46.3L564.0 47.7L563.4 49.5L562.9 51.8L562.6 54.5L562.5 57.3L562.4 60.2L562.5 63.1L562.7 66.1L563.2 68.8L564.0 71.4L565.1 73.6L566.5 75.7L567.9 76.8L569.3 77.0L570.8 76.3L572.3 74.7L573.5 72.6L574.4 69.9L575.0 66.7L575.3 63.0L575.4 59.5L575.2 56.2L574.8 53.2L574.2 50.4L573.4 48.2L572.4 46.5L571.2 45.3L569.7 44.7L568.4 44.5L567.1 44.7Z" fill="#3c9edb"/><path transform="scale(.25)" d="M2283 123h0m19 33h0m-35 0h0m23 5h0m-35 0h0m-3 0h0m13 4h0m11 1h0m-11 1h0m11 0h0m-12 1h0m28 0h0m4 0h0m-24 0h0m4 1h0m9 1h0m-20 0h0m3 1h0m10 0h0m3 1h0m-9 0h0m12 0h0m-19 0h0m17 0h0m-1 1h0m-29 0h0m13 1h0m17 0h0m-3 0h0m8 0h0m3 0h0m-11 1h0m17 0h0m-7 0h0m-22 1h0m15 0h0m-19 0h0m-8 0h0m13 0h0m7 0h0m8 0h0m5 0h0m-6 0h0m2 0h0m12 1h0m-6 0h0m-16 0h0m-16 0h0m14 0h0m22 0h0m-12 0h0m-19 1h0m29 0h0m-33 0h0m-1 0h0m3 0h0m12 0h0m-29 0h0m38 0h0m-22 0h0m22 0h0m-20 0h0m14 1h0m-15 0h0m6 0h0m3 0h0m-12 0h0m20 1h0m-9 0h0m-4 0h0m12 0h0m13 0h0m-18 0h0m-4 0h0m11 0h0m3 0h0m-12 1h0m-18 0h0m3 0h0m-3 0h0m36 0h0m-12 0h0m12 0h0m-12 1h0m-21 0h0m-2 0h0m-3 0h0m14 0h0m34 1h0m-15 0h0m11 0h0m6 0h0m-8 0h0m-40 0h0m2 1h0m41 0h0m3 0h0m-32 0h0m36 0h0m-13 1h0m-4 0h0m-23 0h0m-2 0h0m-1 0h0m29 0h0m8 0h0m-5 1h0m-4 0h0m-29 0h0m33 0h0m-4 0h0m-32 1h0m36 0h0m-36 0h0m6 0h0m-14 0h0m46 2h0m-47 0h0m63 0h0m-50 0h0m38 0h0m-66 1h0m26 0h0m46 1h0m-52 0h0m-28 0h0m32 0h0m40 0h0m-3 0h0m10 0h0m-50 0h0m41 0h0m-35 1h0m-12 0h0m-2 0h0m53 0h0m-49 0h0m52 0h0m-51 0h0m51 1h0m-9 1h0m-30 0h0m-13 0h0m-11 0h0m9 0h0m12 1h0m39 0h0m-3 0h0m2 0h0m-46 0h0m46 0h0m14 0h0m-67 0h0m15 0h0m36 1h0m8 0h0m-52 0h0m41 0h0m-36 1h0m40 0h0m2 0h0m-49 0h0m6 0h0m41 1h0m1 0h0m-53 0h0m57 0h0m-45 0h0m-3 0h0m0 0h0m-4 1h0m-5 0h0m59 0h0m-1 1h0m-9 0h0m-37 0h0m-12 1h0m60 0h0m-50 0h0m64 0h0m-64 0h0m-8 0h0m58 0h0m-50 1h0m1 0h0m38 0h0m5 0h0m-50 0h0m-3 0h0m50 1h0m8 0h0m-4 0h0m-48 0h0m64 0h0m-72 0h0m61 0h0m-7 0h0m0 1h0m6 0h0m-49 0h0m43 0h0m6 0h0m8 0h0m-58 0h0m47 0h0m-52 0h0m51 0h0m10 1h0m-12 0h0m-47 0h0m51 1h0m-46 0h0m-6 1h0m3 0h0m1 0h0m-3 0h0m47 0h0m-58 1h0m12 0h0m-9 0h0m4 0h0m59 0h0m-1 0h0m-2 1h0m7 0h0m-8 0h0m-1 0h0m1 0h0m-49 0h0m48 1h0m4 0h0m-55 0h0m2 0h0m3 0h0m-16 1h0m61 0h0m13 0h0m-9 0h0m-55 0h0m2 1h0m53 0h0m3 0h0m-9 0h0m-42 1h0m-3 0h0m48 0h0m-46 0h0m-2 0h0m61 0h0m-9 1h0m-59 0h0m54 0h0m-44 0h0m-7 0h0m7 0h0m-6 0h0m51 1h0m0 0h0m12 0h0m-63 0h0m4 0h0m47 1h0m-52 0h0m57 0h0m3 0h0m-55 0h0m-12 0h0m5 0h0m68 0h0m-4 1h0m-10 0h0m9 0h0m-58 0h0m-9 1h0m62 0h0m-54 0h0m53 0h0m-4 0h0m2 0h0m-47 1h0m-1 0h0m-6 0h0m55 1h0m-49 0h0m0 0h0m52 0h0m-7 0h0m2 1h0m-48 0h0m3 0h0m49 0h0m-3 1h0m-1 1h0m-47 0h0m-4 0h0m80 0h0m-77 1h0m3 0h0m44 1h0m7 0h0m-3 0h0m-61 1h0m9 0h0m60 1h0m-63 0h0m-2 0h0m57 0h0m-50 0h0m-6 1h0m-2 0h0m13 0h0m45 0h0m-52 0h0m63 0h0m5 0h0m-69 0h0m57 1h0m-5 0h0m3 0h0m-55 0h0m-22 0h0m92 0h0m-70 0h0m4 0h0m43 1h0m-53 0h0m58 0h0m2 0h0m-3 0h0m-51 0h0m55 0h0m4 1h0m-6 0h0m4 0h0m-62 0h0m65 0h0m-7 1h0m3 0h0m-7 0h0m11 1h0m-59 0h0m-6 0h0m7 0h0m51 1h0m12 0h0m-6 0h0m-67 0h0m9 0h0m60 1h0m-10 0h0m4 0h0m-1 0h0m19 0h0m-83 0h0m9 1h0m4 0h0m50 1h0m-3 0h0m-49 0h0m49 0h0m1 0h0m-51 0h0m54 1h0m9 0h0m-67 1h0m62 0h0m-60 0h0m61 1h0m-7 0h0m-53 1h0m3 0h0m-10 0h0m9 0h0m49 1h0m-1 0h0m5 0h0m0 0h0m6 0h0m-58 1h0m-3 0h0m5 1h0m-11 0h0m62 1h0m0 0h0m-2 0h0m26 1h0m-24 0h0m3 1h0m-59 0h0m1 0h0m56 1h0m-4 0h0m15 0h0m-14 1h0m0 0h0m2 0h0m-60 0h0m70 0h0m-6 1h0m-60 0h0m-1 0h0m69 0h0m-71 0h0m9 0h0m-18 0h0m69 0h0m-1 1h0m-55 1h0m58 0h0m-7 0h0m1 0h0m-69 0h0m10 1h0m9 0h0m48 0h0m-54 2h0m57 1h0m-53 0h0m54 0h0m-3 0h0m2 0h0m3 1h0m8 0h0m-65 0h0m-8 1h0m57 0h0m6 0h0m4 1h0m-57 0h0m-2 0h0m50 0h0m-53 0h0m62 0h0m-11 1h0m-45 0h0m-13 0h0m71 0h0m-62 0h0m51 0h0m1 0h0m9 0h0m-7 0h0m-54 1h0m58 0h0m-61 0h0m0 0h0m67 0h0m-59 0h0m60 0h0m3 0h0m-10 1h0m-58 0h0m3 0h0m-6 0h0m55 0h0m47 1h0m-31 0h0m-16 0h0m-60 0h0m58 1h0m-52 0h0m61 0h0m-2 0h0m-53 0h0m-1 1h0m-5 0h0m57 0h0m2 0h0m-5 0h0m-52 0h0m59 0h0m-54 1h0m54 0h0m-4 1h0m-2 0h0m-70 0h0m69 0h0m-48 0h0m53 0h0m-6 0h0m-1 1h0m7 0h0m-7 0h0m5 1h0m5 0h0m-52 0h0m75 1h0m-90 0h0m60 0h0m14 1h0m-14 0h0m-54 0h0m62 0h0m-55 0h0m-6 1h0m60 1h0m-52 1h0m43 0h0m-53 1h0m51 0h0m13 0h0m-2 1h0m-4 0h0m-3 0h0m-56 0h0m55 0h0m-1 1h0m-52 0h0m51 0h0m-43 0h0m43 0h0m-42 0h0m46 1h0m-47 0h0m-7 0h0m59 0h0m-55 1h0m5 0h0m39 1h0m-43 0h0m43 0h0m-55 0h0m3 1h0m67 0h0m-11 0h0m10 1h0m-55 0h0m3 0h0m-4 0h0m2 0h0m-2 0h0m-2 0h0m48 1h0m1 0h0m-49 1h0m52 0h0m-53 0h0m44 0h0m-36 1h0m-5 0h0m56 0h0m-4 1h0m-44 0h0m-2 0h0m-17 0h0m10 0h0m7 1h0m38 0h0m-1 0h0m1 0h0m-1 0h0m-40 0h0m40 0h0m-39 0h0m37 0h0m-37 1h0m-3 0h0m43 0h0m-44 0h0m41 0h0m-38 1h0m3 0h0m-11 0h0m-1 0h0m10 0h0m43 0h0m-2 0h0m8 0h0m-51 1h0m-6 0h0m5 0h0m59 0h0m-56 0h0m1 1h0m-9 0h0m45 0h0m-53 0h0m19 0h0m32 0h0m-30 1h0m36 0h0m-48 0h0m46 0h0m-42 0h0m48 1h0m-49 0h0m4 0h0m4 0h0m-1 1h0m53 0h0m-9 0h0m0 0h0m-6 0h0m-37 1h0m4 0h0m28 0h0m-30 0h0m-4 1h0m48 0h0m-57 0h0m43 0h0m-28 0h0m31 1h0m-31 0h0m28 0h0m-30 0h0m37 1h0m-6 0h0m-33 0h0m1 1h0m8 0h0m25 0h0m-10 0h0m3 0h0m-26 0h0m36 0h0m-13 1h0m-30 0h0m9 0h0m-10 0h0m34 0h0m-50 0h0m28 1h0m-24 0h0m26 1h0m-10 0h0m-3 0h0m38 0h0m-34 0h0m25 0h0m15 1h0m-29 0h0m2 0h0m-11 0h0m32 0h0m-10 0h0m-14 0h0m15 1h0m-13 0h0m-7 1h0m-2 0h0m11 0h0m-29 0h0m45 0h0m-4 0h0m5 1h0m-16 0h0m4 0h0m-25 0h0m19 1h0m-16 0h0m37 0h0m-22 0h0m15 0h0m4 0h0m-5 0h0m-24 0h0m22 0h0m6 1h0m-27 0h0m20 0h0m3 1h0m-6 0h0m-3 0h0m-10 0h0m13 0h0m8 1h0m-8 0h0m-6 0h0m5 0h0m-9 0h0m7 0h0m11 1h0m-1 0h0m-1 0h0m-12 0h0m-8 0h0m-7 1h0m14 0h0m-3 0h0m18 0h0m-19 1h0m23 0h0m-42 0h0m6 0h0m13 0h0m2 1h0m3 0h0m4 1h0m-7 1h0m-4 0h0m-4 2h0m28 1h0m-22 1h0m4 0h0m-4 6h0m0 5h0m-18 1h0m21 13h0m18 42h0" stroke="#3c9edb" stroke-width="5.8" stroke-linecap="round" fill="none"/><path d="M394.4 187.0L395.7 185.4L397.4 184.0L399.3 182.7L401.5 181.6L403.9 180.5L406.4 179.5L408.7 178.6L411.1 177.6L413.4 176.7L415.7 175.7L418.1 174.7L420.5 173.7L422.9 172.7L425.1 171.8L427.1 171.2L428.9 170.7L430.5 170.4L431.8 170.6L432.9 171.2L433.8 172.2L434.4 173.7L434.6 175.4L434.5 177.5L433.9 179.8L433.0 182.5L432.0 185.0L430.7 187.4L429.3 189.6L427.8 191.8L426.0 193.7L424.0 195.4L421.9 196.9L419.5 198.2L417.1 199.3L414.6 200.0L412.0 200.4L409.4 200.6L406.9 200.5L404.5 200.1L402.3 199.4L400.3 198.5L398.4 197.3L396.8 195.9L395.3 194.2L394.1 192.2L393.5 190.4L393.6 188.7Z" fill="#7ab33f"/><path transform="scale(.25)" d="M1714 645h0m22 3h0m62 4h0m-30 12h0m-55 4h0m13 2h0m6 1h0m-4 1h0m10 1h0m-8 0h0m8 0h0m-20 1h0m-7 1h0m9 1h0m6 0h0m-15 0h0m51 1h0m-7 0h0m-37 0h0m20 0h0m11 0h0m-29 1h0m8 0h0m-12 0h0m0 0h0m3 0h0m0 0h0m11 0h0m-7 0h0m-1 0h0m3 0h0m-11 1h0m30 0h0m-32 0h0m34 0h0m-23 1h0m-12 0h0m23 0h0m-26 0h0m4 0h0m-18 0h0m-80 0h0m105 1h0m5 0h0m-23 0h0m16 0h0m-30 1h0m12 0h0m32 0h0m0 0h0m-21 1h0m3 0h0m-88 0h0m64 0h0m4 0h0m7 0h0m-15 0h0m16 0h0m-16 0h0m46 0h0m-25 0h0m2 0h0m-1 0h0m20 1h0m10 0h0m-25 0h0m17 0h0m-14 1h0m-8 0h0m0 0h0m29 0h0m-2 0h0m-47 0h0m48 0h0m-41 1h0m5 1h0m36 0h0m13 0h0m-17 0h0m-57 0h0m-1 0h0m27 0h0m-6 1h0m-3 0h0m10 0h0m53 0h0m-71 0h0m53 0h0m-52 0h0m7 0h0m38 1h0m8 0h0m-58 0h0m11 0h0m-12 0h0m16 0h0m-33 0h0m28 0h0m3 0h0m-12 0h0m61 0h0m-90 0h0m48 0h0m-6 0h0m-16 1h0m63 0h0m-53 0h0m-34 0h0m82 1h0m-55 0h0m54 0h0m-49 0h0m-29 0h0m34 0h0m20 0h0m35 1h0m-106 0h0m34 0h0m62 0h0m-40 0h0m-4 0h0m48 0h0m-1 1h0m-55 0h0m-30 0h0m16 0h0m14 1h0m59 0h0m-93 0h0m87 0h0m-82 0h0m36 0h0m-5 0h0m-4 0h0m-20 1h0m13 0h0m-19 0h0m5 0h0m6 0h0m75 0h0m-68 1h0m-7 0h0m21 0h0m63 0h0m-126 1h0m122 0h0m-4 0h0m-2 1h0m-66 0h0m-15 0h0m14 0h0m1 0h0m1 0h0m-36 0h0m101 1h0m-78 0h0m8 0h0m-30 0h0m25 0h0m0 1h0m-55 0h0m52 0h0m79 0h0m-2 0h0m-83 0h0m9 1h0m-21 0h0m4 0h0m2 0h0m-40 0h0m23 0h0m23 0h0m-41 0h0m49 0h0m12 0h0m-21 1h0m87 0h0m3 0h0m-89 0h0m82 0h0m-125 0h0m129 0h0m-1 0h0m-79 1h0m-11 0h0m91 1h0m-1 0h0m-84 0h0m-11 0h0m16 0h0m80 0h0m-6 1h0m1 0h0m-3 0h0m-91 0h0m8 0h0m12 0h0m-2 0h0m-49 1h0m38 0h0m-26 1h0m34 0h0m-4 0h0m84 0h0m3 0h0m-80 0h0m-3 0h0m-31 1h0m109 0h0m-80 0h0m85 1h0m11 0h0m-114 0h0m14 0h0m-3 0h0m-9 0h0m-17 1h0m3 0h0m25 0h0m101 0h0m-111 0h0m-24 0h0m146 1h0m-25 0h0m1 0h0m-3 0h0m-106 0h0m13 0h0m1 0h0m99 0h0m-9 0h0m-101 1h0m1 0h0m-1 1h0m2 0h0m-46 0h0m146 0h0m-101 0h0m-9 0h0m9 0h0m10 1h0m98 0h0m-103 0h0m-33 1h0m18 0h0m7 0h0m-3 0h0m14 0h0m-25 0h0m-7 0h0m17 1h0m112 0h0m-123 0h0m10 0h0m-9 0h0m10 1h0m16 0h0m100 0h0m-7 0h0m-118 0h0m3 1h0m11 0h0m-35 0h0m21 0h0m114 0h0m-109 1h0m113 0h0m-121 0h0m1 0h0m-37 0h0m158 0h0m-123 0h0m-4 1h0m10 0h0m116 0h0m-123 0h0m123 1h0m-118 0h0m-3 0h0m-17 0h0m146 0h0m-126 1h0m118 0h0m3 0h0m-1 0h0m-4 0h0m-147 1h0m17 0h0m133 0h0m-141 0h0m17 0h0m9 0h0m-21 0h0m-12 0h0m145 1h0m-146 0h0m23 0h0m2 0h0m-30 0h0m29 0h0m123 0h0m-130 0h0m135 1h0m-4 0h0m-1 0h0m-146 1h0m3 0h0m139 0h0m-122 0h0m136 0h0m-9 0h0m-128 0h0m1 0h0m131 1h0m5 0h0m-141 0h0m3 0h0m131 0h0m-136 0h0m136 0h0m-2 1h0m-141 0h0m144 0h0m5 0h0m-6 0h0m-7 1h0m3 0h0m-137 0h0m4 0h0m-45 1h0m47 0h0m130 0h0m-127 0h0m-24 1h0m156 1h0m-141 0h0m135 0h0m-133 0h0m-4 0h0m-4 1h0m11 0h0m126 0h0m-5 0h0m-134 1h0m0 0h0m144 1h0m-3 0h0m-1 0h0m-141 0h0m3 0h0m143 0h0m-144 0h0m142 0h0m-2 1h0m-143 0h0m153 0h0m-154 0h0m142 1h0m-137 0h0m-2 0h0m-14 0h0m1 0h0m166 0h0m-165 1h0m6 0h0m-7 0h0m188 0h0m-37 0h0m9 0h0m3 0h0m-9 0h0m8 1h0m-164 0h0m155 0h0m-143 0h0m-7 0h0m0 1h0m15 0h0m-17 0h0m8 0h0m161 1h0m-161 0h0m-8 0h0m158 0h0m1 1h0m-157 0h0m-9 0h0m9 0h0m-4 0h0m12 0h0m-13 0h0m-14 0h0m22 1h0m154 0h0m-162 0h0m163 0h0m-169 0h0m160 0h0m3 0h0m-4 0h0m1 1h0m7 0h0m-157 0h0m157 0h0m-12 1h0m17 0h0m-11 0h0m-5 0h0m10 0h0m-154 0h0m141 1h0m10 0h0m-148 0h0m-8 0h0m153 0h0m-151 1h0m149 0h0m-2 1h0m-178 0h0m38 0h0m-5 0h0m-10 0h0m158 1h0m4 0h0m-3 1h0m2 0h0m-10 0h0m-153 0h0m157 0h0m-158 0h0m4 1h0m2 0h0m155 0h0m30 0h0m-182 1h0m3 0h0m-4 1h0m-6 0h0m154 0h0m6 0h0m-158 1h0m-15 0h0m21 0h0m158 0h0m-161 0h0m144 1h0m-160 0h0m164 0h0m-3 0h0m5 1h0m-151 0h0m152 0h0m-150 0h0m147 1h0m35 1h0m-35 0h0m-147 0h0m0 1h0m153 0h0m-155 0h0m156 0h0m-154 0h0m0 0h0m154 0h0m-8 0h0m-150 0h0m155 0h0m-152 1h0m158 0h0m-20 0h0m4 0h0m12 0h0m-3 0h0m-157 0h0m0 0h0m166 1h0m-21 0h0m9 0h0m-149 0h0m142 0h0m-141 0h0m3 1h0m139 0h0m5 1h0m-158 0h0m4 1h0m8 0h0m-15 0h0m166 0h0m-150 0h0m-3 0h0m139 1h0m-143 0h0m5 0h0m145 0h0m-143 0h0m-12 0h0m165 0h0m-15 0h0m19 0h0m-13 1h0m-162 0h0m202 1h0m-41 0h0m-148 0h0m4 1h0m8 0h0m147 0h0m-26 1h0m-124 0h0m126 0h0m7 0h0m-132 0h0m143 1h0m-151 0h0m137 1h0m-128 0h0m-23 0h0m15 0h0m148 0h0m-14 0h0m-131 1h0m-1 0h0m-5 0h0m-11 0h0m151 0h0m-132 1h0m2 0h0m0 0h0m-18 1h0m8 0h0m137 0h0m-143 0h0m16 0h0m-9 0h0m2 0h0m7 1h0m147 0h0m-14 0h0m-128 0h0m120 0h0m-4 1h0m3 0h0m1 0h0m19 0h0m-146 1h0m147 0h0m-13 0h0m-11 1h0m-3 0h0m-127 0h0m125 1h0m-129 0h0m14 1h0m118 0h0m4 0h0m-119 0h0m-6 0h0m118 0h0m9 1h0m-127 0h0m116 0h0m-102 0h0m100 0h0m12 0h0m7 0h0m-15 0h0m-137 0h0m149 1h0m-120 0h0m119 0h0m-3 0h0m-118 0h0m-28 0h0m19 0h0m116 0h0m-107 1h0m9 0h0m-10 0h0m0 0h0m-3 1h0m-4 0h0m3 0h0m5 0h0m4 0h0m131 1h0m-12 0h0m-9 0h0m1 1h0m-15 0h0m6 0h0m-5 0h0m-107 0h0m-3 1h0m12 0h0m91 0h0m17 0h0m20 0h0m-26 0h0m28 0h0m-134 0h0m4 0h0m4 1h0m115 0h0m-120 0h0m111 1h0m-126 0h0m13 0h0m0 0h0m92 0h0m11 0h0m-11 0h0m5 0h0m4 0h0m1 1h0m-91 0h0m83 0h0m-86 0h0m-6 0h0m92 1h0m1 0h0m12 0h0m7 0h0m-102 0h0m97 0h0m-3 0h0m-105 0h0m103 0h0m-96 1h0m103 0h0m-23 0h0m17 0h0m6 0h0m-87 0h0m-11 0h0m-29 0h0m118 1h0m-111 0h0m16 0h0m76 1h0m-93 0h0m14 0h0m9 0h0m7 1h0m-11 0h0m87 0h0m-17 0h0m8 0h0m6 0h0m-115 0h0m45 0h0m63 0h0m-75 1h0m24 0h0m-15 0h0m-10 0h0m76 0h0m-79 0h0m-2 0h0m72 0h0m12 0h0m-64 0h0m13 0h0m-31 0h0m-6 0h0m11 0h0m7 0h0m74 1h0m-69 0h0m74 0h0m-126 0h0m119 1h0m-22 0h0m-38 0h0m35 0h0m4 0h0m-18 0h0m61 0h0m-76 1h0m27 0h0m-50 0h0m75 0h0m-40 0h0m41 0h0m8 0h0m-36 0h0m-28 0h0m49 0h0m-35 0h0m-39 0h0m62 0h0m-32 1h0m37 0h0m-70 0h0m12 0h0m20 0h0m-5 0h0m-7 0h0m15 0h0m-13 0h0m38 0h0m27 0h0m-10 0h0m-8 1h0m-76 0h0m48 0h0m20 0h0m8 0h0m0 0h0m13 0h0m-31 0h0m-39 1h0m43 0h0m34 0h0m-66 0h0m41 0h0m-42 0h0m39 0h0m-3 0h0m-27 0h0m21 1h0m-44 0h0m13 0h0m-6 0h0m-11 0h0m39 0h0m-14 0h0m46 0h0m-34 0h0m4 0h0m18 0h0m-16 0h0m-7 0h0m35 1h0m-75 0h0m79 0h0m-14 0h0m23 0h0m-112 0h0m17 0h0m60 0h0m-17 0h0m3 0h0m-33 0h0m21 0h0m51 0h0m-18 0h0m-43 1h0m54 0h0m-27 0h0m-12 0h0m-5 0h0m28 0h0m24 0h0m-94 0h0m57 0h0m0 1h0m-22 0h0m29 0h0m16 0h0m-37 0h0m23 0h0m14 0h0m-21 1h0m-20 0h0m56 0h0m-35 1h0m-11 0h0m5 0h0m20 0h0m2 0h0m-14 1h0m22 0h0m-44 1h0m32 0h0m-1 1h0m-18 0h0m13 0h0m-30 0h0m59 0h0m-7 0h0m-73 0h0m14 1h0m79 0h0m-42 0h0m-54 0h0m35 1h0m-6 1h0m-21 0h0m55 1h0m36 0h0m-88 1h0m15 0h0m6 3h0m-5 0h0m77 4h0m-24 9h0m-13 12h0m-30 1h0m18 3h0m128-189h0m-51 9h0m44-2h0m-4 7h0m-9 2h0m-23-11h0m2 29h0m41-34h0m-30 54h0m20-1h0m13-28h0m-42 17h0m-9-38h0m-2 6h0m22 44h0m22-31h0m-1 19h0m-12 5h0m-33-7h0m14-18h0m-6-6h0m1-23h0m-2 58h0m-5-12h0m26-45h0m-9 55h0m1-39h0m-5 40h0m29-50h0m-28-9h0" stroke="#7ab33f" stroke-width="5.8" stroke-linecap="round" fill="none"/><path d="M449.0 206.0L447.3 207.1L446.0 208.7L444.9 210.8L444.1 213.5L443.6 216.6L443.3 219.8L443.3 223.0L443.5 226.2L443.9 229.5L444.6 232.4L445.6 235.1L446.8 237.4L448.2 239.5L449.8 240.8L451.3 241.2L453.0 240.7L454.7 239.3L456.1 237.3L457.2 234.6L458.1 231.3L458.8 227.3L459.1 223.6L459.3 220.0L459.1 216.6L458.7 213.5L458.0 210.8L457.0 208.7L455.6 207.1L454.0 206.0L452.3 205.4L450.7 205.4Z" fill="#977cc6"/><path transform="scale(.25)" d="M1840 742h0m-53 5h0m8 35h0m3 3h0m-16 1h0m50 9h0m-28 4h0m-3 2h0m30 2h0m-4 1h0m-35 2h0m20 1h0m-2 0h0m-6 1h0m-7 1h0m29 1h0m-32 1h0m-8 0h0m23 2h0m-9 0h0m-8 0h0m24 1h0m-2 0h0m-6 0h0m15 0h0m-30 1h0m21 0h0m10 0h0m-17 1h0m5 0h0m-22 0h0m22 0h0m-5 1h0m-10 0h0m35 0h0m-17 1h0m-28 0h0m49 0h0m-10 0h0m-16 0h0m3 0h0m-4 1h0m-6 0h0m12 0h0m-17 0h0m-3 0h0m15 0h0m10 1h0m-31 0h0m1 0h0m7 0h0m6 0h0m9 0h0m-6 0h0m32 1h0m-18 0h0m-20 0h0m-1 0h0m9 0h0m-24 0h0m-9 1h0m12 0h0m-2 0h0m27 0h0m-27 0h0m17 1h0m-19 0h0m53 0h0m-44 0h0m-20 0h0m34 0h0m21 0h0m-19 0h0m-21 0h0m11 0h0m41 1h0m-55 0h0m42 0h0m16 0h0m-27 0h0m-19 1h0m10 0h0m18 0h0m-8 0h0m-31 0h0m48 0h0m-1 0h0m-4 0h0m-12 1h0m-4 0h0m-35 0h0m34 0h0m15 0h0m-57 0h0m52 1h0m-45 0h0m33 1h0m-23 0h0m4 0h0m25 0h0m26 0h0m-9 0h0m-58 1h0m9 1h0m50 0h0m-41 0h0m36 0h0m6 0h0m-51 0h0m45 0h0m-48 1h0m11 0h0m49 0h0m-17 0h0m18 0h0m-57 0h0m6 0h0m54 0h0m-19 1h0m-38 0h0m36 0h0m16 0h0m-49 1h0m35 0h0m-41 0h0m0 0h0m46 0h0m-43 0h0m-5 0h0m-8 1h0m-2 0h0m1 0h0m58 1h0m-59 0h0m57 0h0m-45 0h0m41 0h0m-40 0h0m-7 0h0m3 1h0m51 0h0m-51 0h0m65 0h0m-74 0h0m59 1h0m-1 0h0m-88 0h0m41 0h0m43 0h0m-46 0h0m-3 0h0m54 0h0m-50 0h0m47 0h0m-57 1h0m-6 0h0m11 0h0m67 0h0m-63 0h0m52 0h0m-48 1h0m1 0h0m43 0h0m5 1h0m3 0h0m-79 0h0m73 0h0m6 0h0m-3 0h0m-53 0h0m54 1h0m-66 0h0m10 0h0m52 0h0m8 0h0m-54 1h0m55 0h0m-1 0h0m-3 0h0m-5 0h0m2 0h0m7 1h0m-76 0h0m64 0h0m-51 0h0m-7 0h0m-18 0h0m81 0h0m-2 0h0m3 0h0m5 0h0m-6 1h0m-62 0h0m7 0h0m65 1h0m-7 0h0m-56 0h0m48 0h0m-54 0h0m64 2h0m-7 0h0m12 0h0m-1 1h0m-66 1h0m65 0h0m-66 0h0m62 1h0m3 0h0m-70 0h0m4 0h0m5 0h0m57 0h0m-53 0h0m-8 1h0m87 0h0m-23 0h0m-64 0h0m5 1h0m56 0h0m4 0h0m-8 0h0m7 1h0m-70 0h0m71 0h0m-1 0h0m-70 1h0m12 0h0m-4 0h0m-5 0h0m2 0h0m2 0h0m61 0h0m0 0h0m4 1h0m-88 0h0m20 0h0m-1 0h0m62 0h0m-58 0h0m2 1h0m-6 0h0m-3 0h0m-3 0h0m69 0h0m-62 0h0m64 0h0m-70 1h0m72 0h0m0 0h0m2 0h0m-65 1h0m65 0h0m2 0h0m4 0h0m-11 0h0m-61 0h0m3 0h0m-22 1h0m-6 0h0m25 0h0m1 0h0m82 1h0m-15 0h0m14 0h0m-75 0h0m53 0h0m-65 0h0m69 0h0m1 1h0m-65 0h0m60 0h0m5 1h0m-62 1h0m66 0h0m-10 0h0m-65 0h0m6 0h0m62 0h0m5 1h0m-68 0h0m69 0h0m-6 1h0m-64 0h0m63 0h0m-57 0h0m-9 1h0m67 0h0m-64 0h0m64 0h0m9 1h0m-7 0h0m-6 0h0m-55 0h0m-8 0h0m7 1h0m60 0h0m-61 0h0m-3 0h0m69 1h0m-78 0h0m9 1h0m-17 0h0m5 0h0m82 1h0m-63 0h0m-16 0h0m72 0h0m-60 0h0m-8 0h0m9 0h0m-8 1h0m68 0h0m3 0h0m-1 0h0m-104 0h0m100 0h0m-71 0h0m9 0h0m67 1h0m-6 0h0m10 0h0m1 0h0m-5 0h0m5 1h0m18 0h0m-92 0h0m-9 0h0m10 0h0m3 0h0m81 0h0m-14 1h0m-3 0h0m1 0h0m-71 0h0m10 0h0m-13 1h0m111 0h0m-34 1h0m-71 0h0m67 0h0m-69 1h0m72 0h0m-75 0h0m74 0h0m5 1h0m-4 0h0m-5 0h0m1 1h0m4 0h0m-71 0h0m78 0h0m-8 0h0m-73 1h0m7 0h0m62 1h0m7 1h0m17 1h0m-24 0h0m-67 0h0m-6 0h0m5 0h0m2 0h0m-13 0h0m99 1h0m-5 0h0m-11 0h0m-76 0h0m77 0h0m-77 2h0m1 0h0m5 1h0m71 0h0m35 0h0m-104 1h0m4 0h0m2 0h0m-7 0h0m0 0h0m-3 1h0m68 0h0m6 0h0m17 0h0m-92 1h0m4 0h0m81 0h0m-18 0h0m-63 0h0m67 0h0m-67 1h0m-5 0h0m2 0h0m1 1h0m-6 0h0m4 0h0m65 0h0m-58 0h0m61 0h0m-66 1h0m68 0h0m15 0h0m-16 1h0m-69 1h0m71 0h0m0 0h0m-71 0h0m7 1h0m66 0h0m-4 1h0m4 0h0m-79 1h0m8 0h0m74 0h0m-74 0h0m72 1h0m-4 1h0m-65 0h0m65 0h0m-68 0h0m77 0h0m-7 0h0m-67 1h0m72 0h0m-80 0h0m5 0h0m74 0h0m-76 0h0m-11 0h0m22 1h0m65 0h0m-3 0h0m-76 0h0m72 0h0m-66 1h0m66 0h0m-2 0h0m-62 1h0m66 0h0m-62 0h0m59 0h0m-1 1h0m-57 0h0m-8 0h0m67 1h0m3 0h0m-74 0h0m76 0h0m15 0h0m-19 1h0m-70 0h0m2 0h0m66 1h0m-60 0h0m-5 0h0m2 0h0m62 1h0m-62 0h0m1 0h0m75 1h0m-13 0h0m-61 1h0m-4 0h0m-4 0h0m70 0h0m-64 0h0m69 0h0m15 0h0m-21 0h0m11 0h0m-71 0h0m2 1h0m0 0h0m-6 0h0m-8 0h0m77 1h0m-2 0h0m-7 1h0m7 0h0m-77 1h0m15 0h0m62 0h0m6 1h0m-68 0h0m-8 0h0m4 0h0m5 0h0m1 1h0m-8 0h0m64 0h0m-57 1h0m-1 0h0m6 1h0m-13 0h0m66 0h0m-62 0h0m59 0h0m-56 1h0m4 0h0m55 1h0m-67 0h0m12 0h0m52 1h0m-55 0h0m-14 1h0m73 0h0m-63 0h0m10 0h0m54 1h0m-2 1h0m-71 0h0m98 0h0m-30 1h0m-69 0h0m70 0h0m2 0h0m1 1h0m-3 0h0m-70 0h0m67 1h0m3 0h0m-62 0h0m7 0h0m71 0h0m-21 0h0m7 1h0m-2 0h0m-57 0h0m56 0h0m-62 0h0m67 0h0m-63 0h0m6 1h0m54 0h0m0 0h0m-61 0h0m64 1h0m-68 0h0m11 0h0m-11 1h0m13 0h0m54 0h0m-9 0h0m7 0h0m-57 0h0m58 1h0m-62 0h0m2 0h0m62 1h0m-62 0h0m-8 0h0m67 0h0m7 0h0m-8 1h0m2 0h0m-74 0h0m18 0h0m-4 1h0m58 0h0m-54 0h0m52 0h0m8 1h0m-67 0h0m61 0h0m-52 0h0m-1 1h0m56 0h0m-59 0h0m2 0h0m-2 0h0m53 0h0m-62 1h0m7 1h0m59 0h0m-5 0h0m-48 0h0m47 0h0m12 0h0m-56 0h0m-7 1h0m47 0h0m7 0h0m1 0h0m-6 0h0m-45 0h0m54 0h0m-4 0h0m-46 1h0m56 0h0m-6 0h0m-51 0h0m44 0h0m4 0h0m-8 1h0m-42 0h0m-8 0h0m55 1h0m1 0h0m-51 0h0m2 0h0m-7 0h0m14 1h0m36 0h0m2 0h0m9 1h0m-51 0h0m52 0h0m-12 0h0m-50 0h0m-4 0h0m54 2h0m11 0h0m-51 0h0m-6 0h0m56 1h0m-63 0h0m74 0h0m-18 0h0m-46 0h0m44 0h0m1 0h0m-7 1h0m-31 0h0m-3 0h0m37 0h0m1 0h0m-40 1h0m4 0h0m-7 0h0m2 0h0m40 0h0m-35 1h0m64 0h0m-64 0h0m39 0h0m-48 0h0m3 1h0m43 0h0m-33 0h0m0 0h0m-14 0h0m15 0h0m-3 0h0m35 0h0m-47 0h0m9 0h0m-12 1h0m24 0h0m-25 0h0m46 1h0m5 0h0m-29 0h0m22 1h0m-27 0h0m-4 0h0m31 0h0m-4 1h0m-20 0h0m36 0h0m-12 0h0m-33 0h0m35 0h0m-3 0h0m-20 1h0m-23 0h0m42 0h0m-32 0h0m9 1h0m46 0h0m-15 0h0m-3 0h0m-11 1h0m-3 0h0m-15 0h0m25 0h0m8 0h0m5 0h0m-13 1h0m-30 0h0m38 0h0m-41 0h0m35 0h0m-21 1h0m-9 0h0m13 0h0m27 0h0m-11 0h0m-35 1h0m40 0h0m-38 0h0m35 0h0m-10 0h0m-9 0h0m6 1h0m-20 0h0m30 0h0m1 0h0m-13 0h0m13 1h0m-32 0h0m40 0h0m-14 0h0m5 0h0m-35 1h0m16 0h0m1 1h0m-13 0h0m4 0h0m-1 0h0m10 0h0m18 0h0m-21 1h0m36 0h0m-31 0h0m-8 0h0m14 0h0m-18 0h0m23 0h0m-21 1h0m9 0h0m22 0h0m-4 1h0m-21 0h0m4 0h0m7 0h0m3 0h0m-2 0h0m5 1h0m-7 0h0m8 1h0m-15 0h0m18 1h0m-40 0h0m31 0h0m-13 0h0m13 1h0m9 0h0m-21 0h0m16 1h0m-26 0h0m21 0h0m9 0h0m1 0h0m-21 0h0m-26 1h0m70 0h0m-37 3h0m-13 4h0m11 3h0m40 2h0m-46 22h0m-24 6h0m-6-253h0m-7 52h0m32-52h0m21-18h0m51 16h0m-91 33h0m-21 34h0m33-32h0m19 16h0m13-28h0m-28 40h0m67-7h0m-81 13h0m6-14h0m-1-14h0m82 13h0m-57 6h0m-14-21h0m-35-57h0m39 34h0m48 51h0m4-27h0m13-28h0m-87 47h0m-18-50h0m16 3h0m-13 14h0m92 13h0m-53 161h0m-51-34h0m80-46h0m-88-33h0m56 102h0m-7-78h0m2 112h0m16-6h0m25-120h0m-48 140h0m7-4h0m35-150h0m-6 73h0m6-37h0m-10 57h0m-16 35h0" stroke="#977cc6" stroke-width="5.8" stroke-linecap="round" fill="none"/><path d="M524.2 165.6L521.8 166.3L519.7 167.6L518.1 169.5L516.8 172.0L516.0 175.2L515.5 178.2L515.4 181.1L515.7 183.8L516.4 186.4L517.5 188.6L519.0 190.5L520.8 191.9L523.1 192.9L525.4 193.5L527.7 193.7L530.1 193.5L532.6 192.8L534.7 191.5L536.5 189.7L538.0 187.3L539.2 184.3L540.0 181.4L540.3 178.5L540.3 175.7L539.8 172.9L538.7 170.6L537.1 168.7L534.8 167.2L532.1 166.2L529.4 165.5L526.7 165.4Z" fill="#3bb878"/><path transform="scale(.25)" d="M2118 630h0m-46 7h0m96 7h0m-40 2h0m-14 3h0m-4 0h0m13 1h0m-6 0h0m-13 1h0m-2 0h0m6 0h0m-15 1h0m9 0h0m-17 0h0m20 2h0m7 0h0m1 0h0m-1 0h0m-12 1h0m-5 0h0m41 0h0m-39 0h0m-4 1h0m47 0h0m-30 0h0m-6 0h0m0 0h0m6 1h0m4 0h0m-14 1h0m-17 0h0m9 0h0m3 0h0m21 1h0m-25 0h0m33 0h0m-34 0h0m52 0h0m-26 0h0m-23 0h0m12 0h0m18 1h0m14 0h0m-42 0h0m7 0h0m27 0h0m7 0h0m-18 0h0m-14 1h0m-23 0h0m4 0h0m7 0h0m31 0h0m-30 0h0m7 0h0m-12 0h0m28 0h0m-33 1h0m22 0h0m-14 0h0m48 0h0m6 0h0m-55 0h0m19 0h0m37 0h0m-20 0h0m-10 0h0m9 0h0m-19 0h0m20 0h0m-13 1h0m-25 0h0m-6 0h0m13 0h0m56 0h0m-48 0h0m1 0h0m26 0h0m-10 0h0m7 1h0m-19 0h0m7 0h0m-37 0h0m45 0h0m20 0h0m-57 0h0m83 0h0m-39 0h0m-24 0h0m23 0h0m-66 0h0m22 0h0m8 0h0m-2 0h0m31 1h0m15 0h0m-52 0h0m69 0h0m-87 0h0m14 0h0m38 0h0m-46 0h0m17 0h0m-9 1h0m48 0h0m-33 0h0m1 0h0m29 0h0m-6 0h0m-32 0h0m18 0h0m-29 0h0m58 1h0m-60 0h0m70 0h0m-58 1h0m-1 0h0m55 0h0m-65 0h0m-15 0h0m25 0h0m54 0h0m-2 0h0m9 1h0m-75 0h0m26 0h0m34 0h0m15 0h0m21 1h0m-34 0h0m29 0h0m-11 0h0m-71 0h0m69 0h0m-14 0h0m4 0h0m-65 1h0m64 0h0m-2 0h0m6 0h0m3 0h0m-75 0h0m86 1h0m-25 0h0m-59 0h0m87 0h0m-16 0h0m0 1h0m-1 0h0m-63 0h0m2 0h0m80 1h0m-85 0h0m-9 0h0m95 0h0m-93 0h0m83 0h0m-89 0h0m84 1h0m8 0h0m-85 0h0m71 0h0m-60 0h0m72 1h0m-95 0h0m83 0h0m-71 0h0m79 0h0m7 0h0m-85 1h0m89 0h0m-92 0h0m80 0h0m-71 0h0m106 0h0m-111 0h0m86 1h0m2 0h0m-8 0h0m-89 1h0m95 0h0m-5 0h0m-82 0h0m86 0h0m-87 0h0m87 0h0m-8 1h0m-88 0h0m12 0h0m-4 0h0m81 0h0m-77 0h0m79 0h0m5 0h0m-95 1h0m97 0h0m-7 1h0m-86 0h0m5 0h0m80 0h0m5 0h0m-2 1h0m-7 0h0m-85 0h0m96 0h0m-96 1h0m8 0h0m-8 0h0m6 0h0m-3 1h0m3 0h0m94 1h0m-1 1h0m-4 0h0m1 0h0m-100 1h0m104 0h0m9 0h0m-108 0h0m94 0h0m3 0h0m-6 0h0m0 0h0m-103 0h0m105 1h0m1 0h0m-88 0h0m94 0h0m-109 0h0m4 0h0m0 0h0m105 0h0m-6 0h0m-4 1h0m-91 0h0m1 0h0m106 0h0m-5 0h0m-101 0h0m8 0h0m86 0h0m-99 0h0m10 0h0m-4 0h0m92 1h0m10 0h0m-101 0h0m91 0h0m3 0h0m3 0h0m7 1h0m-103 0h0m1 0h0m113 0h0m-18 0h0m-102 0h0m100 0h0m31 0h0m-125 1h0m93 0h0m-94 0h0m102 0h0m-6 0h0m3 0h0m-11 0h0m13 1h0m-118 0h0m5 0h0m103 1h0m1 0h0m-91 0h0m94 0h0m-93 0h0m99 0h0m8 1h0m-11 1h0m-2 0h0m-104 0h0m107 0h0m6 1h0m-6 0h0m0 0h0m-1 0h0m-2 1h0m5 0h0m-4 0h0m-1 0h0m-95 1h0m-30 0h0m26 0h0m-2 0h0m98 0h0m-95 0h0m-3 1h0m-3 0h0m102 1h0m-1 0h0m-99 0h0m-5 0h0m103 0h0m-95 1h0m95 0h0m-93 0h0m96 0h0m-106 1h0m8 0h0m101 0h0m-109 0h0m111 0h0m-109 1h0m100 0h0m-112 1h0m121 0h0m-103 1h0m98 0h0m2 0h0m24 1h0m-22 0h0m-2 0h0m2 0h0m-111 0h0m116 0h0m-111 0h0m5 0h0m-11 0h0m107 1h0m6 0h0m-6 0h0m12 0h0m-15 1h0m13 0h0m-8 0h0m-106 0h0m105 0h0m8 1h0m-1 0h0m-4 0h0m-106 0h0m106 1h0m-100 0h0m96 0h0m6 1h0m10 0h0m-124 0h0m105 0h0m4 1h0m6 0h0m-110 1h0m4 0h0m-1 0h0m2 0h0m100 0h0m-5 0h0m7 3h0m9 0h0m-8 0h0m-108 0h0m2 2h0m2 0h0m-6 2h0m1 0h0m9 0h0m120 1h0m-133 0h0m118 0h0m-115 0h0m106 0h0m4 1h0m-2 0h0m10 0h0m-107 1h0m94 0h0m10 0h0m-12 0h0m-5 0h0m-93 0h0m116 0h0m-20 1h0m-104 0h0m106 1h0m10 0h0m-3 1h0m-4 0h0m-99 0h0m102 0h0m-106 0h0m105 0h0m-1 0h0m-101 1h0m-6 1h0m115 0h0m-10 0h0m-3 1h0m-100 0h0m3 0h0m105 0h0m-2 1h0m-99 0h0m101 0h0m-6 0h0m-97 0h0m-7 0h0m104 1h0m-97 0h0m94 0h0m5 0h0m-106 0h0m8 1h0m-4 0h0m-5 1h0m105 0h0m-107 0h0m-10 0h0m120 0h0m-103 0h0m98 1h0m-108 0h0m10 0h0m108 0h0m-2 0h0m-3 0h0m-3 0h0m-93 1h0m-13 0h0m101 0h0m-89 1h0m96 0h0m-98 0h0m2 1h0m86 0h0m3 1h0m2 0h0m-97 0h0m107 0h0m-4 0h0m-6 1h0m7 0h0m0 0h0m12 0h0m-108 0h0m-11 0h0m110 0h0m-4 1h0m-105 0h0m99 0h0m1 0h0m5 0h0m8 0h0m-15 0h0m-91 1h0m-5 0h0m106 1h0m-8 0h0m1 1h0m-92 0h0m-5 0h0m113 0h0m-108 1h0m95 0h0m-96 0h0m2 0h0m-9 0h0m104 0h0m-10 0h0m-88 0h0m-4 0h0m92 1h0m6 0h0m-92 0h0m95 0h0m-9 2h0m-1 0h0m-92 0h0m8 1h0m84 0h0m10 0h0m-95 0h0m89 0h0m8 1h0m-99 0h0m13 0h0m86 1h0m-12 0h0m-86 0h0m87 0h0m-92 1h0m0 0h0m87 0h0m16 0h0m-97 1h0m94 0h0m-12 0h0m4 0h0m-3 0h0m1 1h0m6 0h0m-97 0h0m5 0h0m-3 1h0m88 0h0m4 0h0m-84 0h0m-5 0h0m10 1h0m73 0h0m-82 0h0m101 0h0m-100 0h0m88 0h0m-13 0h0m15 0h0m-90 0h0m82 1h0m-71 0h0m-5 0h0m2 0h0m68 1h0m-73 0h0m71 1h0m-73 0h0m91 0h0m-16 1h0m5 0h0m-76 0h0m71 1h0m4 0h0m-64 0h0m3 1h0m52 0h0m14 1h0m-80 0h0m13 0h0m56 0h0m-56 0h0m56 0h0m-5 0h0m-62 1h0m15 0h0m-16 0h0m16 0h0m-16 0h0m72 1h0m-74 0h0m67 0h0m-53 0h0m60 0h0m6 0h0m-9 0h0m-61 0h0m4 1h0m-3 0h0m-18 0h0m29 0h0m-8 0h0m-13 1h0m92 0h0m-84 0h0m7 0h0m53 0h0m-7 0h0m-48 0h0m-3 0h0m60 0h0m-6 1h0m-77 0h0m76 0h0m-53 0h0m64 0h0m-7 0h0m6 0h0m-36 1h0m-36 0h0m9 0h0m39 0h0m13 0h0m-63 0h0m32 0h0m36 0h0m-53 0h0m34 0h0m-40 0h0m7 1h0m9 0h0m2 0h0m54 0h0m-50 0h0m-15 0h0m1 0h0m24 0h0m27 0h0m-51 0h0m49 0h0m19 1h0m-46 0h0m15 0h0m-3 0h0m-29 0h0m-4 0h0m-9 0h0m37 0h0m-42 0h0m60 0h0m-3 0h0m4 0h0m10 0h0m-58 0h0m33 1h0m-4 0h0m4 0h0m12 0h0m-29 0h0m-21 0h0m-5 0h0m-14 0h0m12 0h0m68 0h0m-80 0h0m75 0h0m-64 0h0m14 1h0m34 0h0m-45 0h0m61 0h0m-47 0h0m11 0h0m11 0h0m-24 0h0m5 0h0m7 0h0m-31 0h0m85 1h0m-79 0h0m16 0h0m17 0h0m-33 0h0m59 0h0m-32 0h0m35 0h0m-59 1h0m-7 0h0m56 0h0m-9 0h0m-13 0h0m31 0h0m-15 0h0m10 0h0m4 0h0m-33 0h0m-16 1h0m24 0h0m-15 0h0m-4 0h0m17 0h0m-25 0h0m2 0h0m-9 0h0m12 0h0m10 0h0m25 0h0m-15 0h0m31 0h0m-53 1h0m29 0h0m9 0h0m-48 0h0m34 0h0m11 1h0m0 0h0m8 0h0m-3 0h0m-44 0h0m2 0h0m41 0h0m-6 1h0m-21 0h0m-9 1h0m13 0h0m20 0h0m-4 1h0m-13 0h0m-38 1h0m36 0h0m6 0h0m1 1h0m-22 2h0m18 0h0m39 1h0m-24 0h0m-6 1h0m-27 0h0m7 0h0m6 0h0m13 1h0m-60 2h0m54 3h0m5 1h0m-45 2h0m57 2h0m-68 0h0m47 16h0" stroke="#3bb878" stroke-width="5.8" stroke-linecap="round" fill="none"/><path d="M555.0 181.9L552.5 183.1L550.5 184.8L549.0 187.0L547.9 189.7L547.2 192.9L546.9 196.1L546.9 199.4L547.2 202.8L547.9 206.3L548.8 209.4L550.0 212.0L551.4 214.2L553.2 216.0L555.0 217.1L556.9 217.4L558.9 217.1L561.0 216.0L562.8 214.2L564.4 211.8L565.6 208.6L566.6 204.8L567.2 201.0L567.5 197.3L567.4 193.7L567.0 190.2L566.1 187.3L564.9 184.9L563.4 183.1L561.5 181.9L559.5 181.2L557.3 181.2Z" fill="#d56bb4"/><path transform="scale(.25)" d="M2288 688h0m-70 11h0m30 7h0m11 4h0m-30 1h0m49 0h0m-54 2h0m17 1h0m-6 0h0m-1 0h0m-24 3h0m33 0h0m-7 0h0m-11 0h0m64 1h0m-50 0h0m9 0h0m-1 1h0m7 0h0m-14 0h0m-26 0h0m27 0h0m-17 0h0m25 0h0m-23 0h0m0 1h0m48 0h0m-34 0h0m-36 0h0m36 0h0m-10 0h0m-1 1h0m-6 0h0m18 0h0m-27 0h0m24 0h0m-13 0h0m-54 0h0m71 1h0m7 0h0m-13 0h0m-15 0h0m-14 1h0m19 0h0m0 0h0m15 0h0m-21 0h0m-6 0h0m21 1h0m15 0h0m1 0h0m-19 0h0m17 0h0m-18 0h0m18 0h0m2 0h0m-40 0h0m51 0h0m-35 1h0m-24 0h0m40 0h0m-15 0h0m-15 0h0m19 0h0m11 0h0m-4 0h0m-12 1h0m4 0h0m9 0h0m2 0h0m-12 0h0m11 0h0m17 0h0m-18 0h0m12 0h0m-48 0h0m42 0h0m-30 0h0m32 1h0m5 0h0m-49 0h0m7 0h0m34 0h0m-2 0h0m-15 0h0m11 0h0m21 0h0m-10 0h0m-20 1h0m30 0h0m-15 0h0m-4 0h0m-15 1h0m23 0h0m-32 0h0m42 0h0m-48 0h0m59 0h0m-36 0h0m-15 0h0m-26 1h0m35 0h0m16 0h0m-21 0h0m17 0h0m-22 0h0m-4 0h0m-5 1h0m3 0h0m2 0h0m-9 0h0m5 0h0m20 0h0m-18 1h0m-3 0h0m-9 1h0m50 0h0m11 0h0m-5 0h0m-5 1h0m-40 1h0m41 0h0m-42 0h0m-3 0h0m7 0h0m39 0h0m-43 0h0m-4 0h0m52 0h0m0 1h0m6 0h0m-70 0h0m8 0h0m59 0h0m5 1h0m-3 0h0m-55 1h0m-5 0h0m-3 0h0m-5 0h0m78 0h0m-68 0h0m-8 0h0m-2 0h0m7 1h0m63 0h0m-66 0h0m3 0h0m0 0h0m-2 0h0m63 1h0m0 0h0m-59 0h0m57 0h0m-2 1h0m5 0h0m-2 0h0m-2 0h0m23 0h0m-21 0h0m-66 2h0m69 0h0m-82 0h0m76 1h0m13 0h0m-77 0h0m73 1h0m-7 0h0m-66 0h0m69 0h0m-1 1h0m2 0h0m-62 0h0m62 0h0m-70 0h0m71 1h0m-3 0h0m0 0h0m-1 0h0m-76 0h0m5 0h0m-3 0h0m89 0h0m-3 0h0m8 0h0m-87 0h0m-2 1h0m73 0h0m-77 0h0m14 1h0m63 0h0m3 0h0m-77 0h0m81 1h0m-79 0h0m-7 0h0m7 0h0m80 0h0m-4 1h0m6 0h0m-81 0h0m77 1h0m-77 0h0m75 0h0m-74 0h0m74 0h0m-1 1h0m-83 0h0m80 1h0m-2 0h0m-66 0h0m74 0h0m-1 0h0m-77 0h0m-10 1h0m12 0h0m78 0h0m1 0h0m-6 1h0m13 0h0m-89 0h0m-3 1h0m3 0h0m-4 1h0m80 0h0m-83 1h0m6 0h0m-2 0h0m76 1h0m25 0h0m-100 0h0m79 0h0m16 1h0m-6 0h0m-100 0h0m94 0h0m-9 0h0m-71 0h0m82 1h0m-87 0h0m-10 0h0m97 0h0m-94 0h0m-4 1h0m94 0h0m-79 0h0m79 0h0m-88 1h0m84 0h0m-1 0h0m-86 1h0m82 0h0m17 0h0m-100 1h0m89 0h0m5 1h0m3 0h0m-6 1h0m-82 0h0m-12 0h0m94 0h0m-1 0h0m-82 1h0m84 0h0m-82 0h0m79 0h0m-84 0h0m89 0h0m8 1h0m-7 0h0m-7 0h0m-80 1h0m96 0h0m-13 0h0m-83 0h0m81 0h0m3 1h0m-91 0h0m4 0h0m94 1h0m-13 1h0m-81 0h0m89 0h0m-95 0h0m92 0h0m-94 0h0m-1 1h0m3 0h0m8 0h0m87 0h0m-94 0h0m4 1h0m6 0h0m81 1h0m-1 0h0m-80 0h0m80 1h0m-2 0h0m1 1h0m-84 1h0m1 0h0m-3 0h0m86 0h0m-80 1h0m2 0h0m-14 0h0m96 0h0m7 0h0m-15 0h0m7 0h0m-98 1h0m113 0h0m-18 0h0m-77 0h0m-3 0h0m-9 0h0m86 1h0m6 0h0m-83 0h0m-10 0h0m8 0h0m84 1h0m0 0h0m-84 0h0m-4 0h0m4 1h0m83 0h0m-93 0h0m12 0h0m-8 1h0m7 0h0m0 0h0m1 0h0m91 1h0m-5 0h0m-85 0h0m89 0h0m-88 1h0m-7 0h0m94 1h0m-93 0h0m2 0h0m82 0h0m-90 1h0m101 0h0m-102 0h0m95 0h0m-87 2h0m-2 0h0m4 0h0m85 1h0m4 0h0m15 0h0m-14 0h0m-88 1h0m81 1h0m-1 0h0m-83 0h0m91 0h0m-88 0h0m79 1h0m-93 0h0m16 0h0m73 0h0m-100 1h0m103 1h0m5 0h0m-83 0h0m102 1h0m-109 0h0m95 0h0m-4 0h0m-96 1h0m92 0h0m3 0h0m1 0h0m-6 0h0m-81 1h0m8 0h0m76 0h0m-80 1h0m-4 0h0m-1 0h0m4 0h0m90 1h0m-12 0h0m-78 1h0m77 0h0m7 1h0m-86 0h0m3 0h0m79 1h0m-85 0h0m0 0h0m83 0h0m-1 1h0m-75 0h0m79 0h0m-84 0h0m-4 1h0m2 0h0m4 0h0m-17 0h0m12 1h0m-3 0h0m87 0h0m-87 0h0m5 0h0m3 1h0m86 0h0m-92 0h0m2 1h0m-4 0h0m13 1h0m70 0h0m-75 0h0m76 0h0m3 0h0m3 1h0m7 0h0m-12 1h0m-73 0h0m-6 0h0m83 0h0m-81 0h0m3 1h0m80 0h0m-82 1h0m-7 0h0m87 0h0m-79 1h0m4 0h0m-7 0h0m78 0h0m6 0h0m-78 0h0m-14 1h0m9 0h0m2 0h0m80 1h0m0 0h0m-3 0h0m-84 0h0m-8 0h0m90 0h0m-87 0h0m4 1h0m10 0h0m73 0h0m-81 1h0m9 0h0m-14 0h0m2 0h0m87 0h0m4 1h0m-85 0h0m76 1h0m6 0h0m3 1h0m-79 0h0m83 1h0m8 0h0m-16 1h0m-73 0h0m-5 1h0m-13 1h0m11 0h0m73 0h0m2 1h0m-81 0h0m81 1h0m6 0h0m-79 0h0m-30 0h0m113 0h0m-16 1h0m6 0h0m-71 0h0m-1 0h0m78 1h0m-10 0h0m-73 1h0m7 1h0m73 0h0m-6 0h0m-69 0h0m0 0h0m71 1h0m3 0h0m-73 0h0m67 0h0m3 1h0m8 0h0m-79 1h0m69 0h0m-65 0h0m71 0h0m0 0h0m4 1h0m-6 0h0m-84 0h0m2 0h0m84 1h0m-71 0h0m-3 0h0m-1 0h0m5 1h0m-1 0h0m68 0h0m-71 0h0m62 0h0m10 0h0m-73 1h0m70 0h0m-79 0h0m-32 0h0m107 1h0m9 0h0m-77 0h0m0 0h0m83 0h0m-82 0h0m2 0h0m69 1h0m-79 0h0m83 0h0m-63 0h0m-10 0h0m9 0h0m-4 1h0m-11 0h0m89 0h0m-93 0h0m6 0h0m10 0h0m61 1h0m-4 0h0m10 0h0m-64 0h0m56 0h0m0 1h0m10 0h0m-9 0h0m0 0h0m-62 2h0m-6 0h0m12 0h0m3 0h0m49 1h0m6 0h0m-59 0h0m56 1h0m-2 0h0m2 0h0m-64 0h0m68 0h0m-5 1h0m-65 0h0m4 0h0m67 0h0m-56 0h0m59 1h0m-66 0h0m64 0h0m-65 0h0m53 0h0m-57 0h0m3 0h0m6 1h0m-9 0h0m65 0h0m-5 0h0m-2 1h0m-59 0h0m10 0h0m-1 0h0m67 0h0m-20 1h0m10 0h0m-8 0h0m-4 0h0m-46 1h0m43 0h0m5 1h0m1 0h0m10 0h0m-3 0h0m-47 1h0m47 0h0m-56 0h0m55 0h0m29 0h0m-41 0h0m-39 0h0m-1 0h0m5 0h0m-1 0h0m-19 1h0m14 0h0m49 0h0m-59 0h0m54 0h0m-40 1h0m45 0h0m-46 1h0m1 0h0m46 0h0m-7 1h0m-52 0h0m-23 0h0m79 0h0m9 0h0m-8 0h0m-39 0h0m41 0h0m-39 1h0m-8 0h0m27 0h0m-18 0h0m0 0h0m36 0h0m-46 0h0m47 0h0m-7 0h0m3 0h0m-29 0h0m9 0h0m25 0h0m-49 0h0m1 0h0m47 1h0m-46 0h0m2 0h0m3 0h0m29 0h0m19 0h0m-16 0h0m6 1h0m-7 0h0m-30 0h0m43 0h0m-39 0h0m-2 0h0m25 0h0m-14 0h0m24 0h0m-33 0h0m39 0h0m-51 1h0m36 0h0m-3 0h0m-13 1h0m13 0h0m-16 1h0m19 0h0m-2 0h0m-29 1h0m43 0h0m-38 0h0m15 0h0m9 0h0m-19 1h0m1 0h0m21 0h0m-14 0h0m18 1h0m-7 0h0m-21 0h0m13 1h0m-3 0h0m19 0h0m-14 0h0m-2 1h0m-2 0h0m-36 1h0m42 0h0m3 0h0m-19 1h0m-12 0h0m21 0h0m16 0h0m-12 0h0m-19 1h0m13 0h0m5 0h0m-1 1h0m-6 1h0m9 0h0m16 0h0m-22 0h0m-18 1h0m34 0h0m0 0h0m-3 2h0m-3 1h0m3 2h0m-64 2h0m53 1h0m27 9h0m-19 62h0m-85-208h0m19 80h0m-3 21h0m-15-106h0m3 119h0m27-64h0m-58 34h0m47 9h0m19 0h0m-49-31h0m34 46h0m-35-6h0m-15-52h0m56-36h0m8-17h0m-19 26h0m-37 71h0m13-39h0m1-41h0m33 101h0m-12-110h0m-28 91h0m32-23h0m-39 17h0m-15-40h0m38-13h0m1 85h0m-20-115h0m-3 91h0m52-38h0m-68 19h0m19 25h0m53 1h0m-1-38h0m-19 28h0m-19-37h0m-6 4h0m9 22h0m24 28h0m-6-28h0m-36-13h0m8-26h0" stroke="#d56bb4" stroke-width="5.8" stroke-linecap="round" fill="none"/><text x="-0.40" y="303.80" font-size="13" font-weight="bold" fill="#000">c</text><defs><linearGradient id="gc0" x1="0" y1="0" x2="0" y2="1" color="#f2766e"><stop offset="0" stop-opacity="0.12"/><stop offset="0.073" stop-opacity="0.4"/><stop offset="0.122" stop-opacity="0.97"/><stop offset="0.961" stop-opacity="0.97"/><stop offset="0.977" stop-opacity="0.4"/><stop offset="1" stop-opacity="0.12"/></linearGradient><linearGradient id="gc1" x1="0" y1="0" x2="0" y2="1" color="#c8922a"><stop offset="0" stop-opacity="0.12"/><stop offset="0.037" stop-opacity="0.4"/><stop offset="0.062" stop-opacity="0.97"/><stop offset="0.964" stop-opacity="0.97"/><stop offset="0.979" stop-opacity="0.4"/><stop offset="1" stop-opacity="0.12"/></linearGradient><linearGradient id="gc2" x1="0" y1="0" x2="0" y2="1" color="#7ab33f"><stop offset="0" stop-opacity="0.12"/><stop offset="0.106" stop-opacity="0.4"/><stop offset="0.177" stop-opacity="0.97"/><stop offset="0.931" stop-opacity="0.97"/><stop offset="0.959" stop-opacity="0.4"/><stop offset="1" stop-opacity="0.12"/></linearGradient><linearGradient id="gc3" x1="0" y1="0" x2="0" y2="1" color="#3bb878"><stop offset="0" stop-opacity="0.12"/><stop offset="0.073" stop-opacity="0.4"/><stop offset="0.122" stop-opacity="0.97"/><stop offset="0.933" stop-opacity="0.97"/><stop offset="0.960" stop-opacity="0.4"/><stop offset="1" stop-opacity="0.12"/></linearGradient><linearGradient id="gc4" x1="0" y1="0" x2="0" y2="1" color="#22bdc0"><stop offset="0" stop-opacity="0.12"/><stop offset="0.083" stop-opacity="0.4"/><stop offset="0.138" stop-opacity="0.97"/><stop offset="0.984" stop-opacity="0.97"/><stop offset="0.990" stop-opacity="0.4"/><stop offset="1" stop-opacity="0.12"/></linearGradient><linearGradient id="gc5" x1="0" y1="0" x2="0" y2="1" color="#3c9edb"><stop offset="0" stop-opacity="0.12"/><stop offset="0.149" stop-opacity="0.4"/><stop offset="0.248" stop-opacity="0.97"/><stop offset="0.980" stop-opacity="0.97"/><stop offset="0.988" stop-opacity="0.4"/><stop offset="1" stop-opacity="0.12"/></linearGradient><linearGradient id="gc6" x1="0" y1="0" x2="0" y2="1" color="#977cc6"><stop offset="0" stop-opacity="0.12"/><stop offset="0.190" stop-opacity="0.4"/><stop offset="0.316" stop-opacity="0.97"/><stop offset="0.964" stop-opacity="0.97"/><stop offset="0.978" stop-opacity="0.4"/><stop offset="1" stop-opacity="0.12"/></linearGradient><linearGradient id="gc7" x1="0" y1="0" x2="0" y2="1" color="#d56bb4"><stop offset="0" stop-opacity="0.12"/><stop offset="0.242" stop-opacity="0.4"/><stop offset="0.403" stop-opacity="0.97"/><stop offset="0.942" stop-opacity="0.97"/><stop offset="0.965" stop-opacity="0.4"/><stop offset="1" stop-opacity="0.12"/></linearGradient></defs><path d="M63.9 444.9L63.9 445.9L63.9 446.9L63.9 447.9L63.9 448.9L63.9 449.9L63.9 450.9L63.9 451.9L63.9 452.9L63.9 453.9L63.9 454.9L63.9 455.9L63.9 456.9L63.9 457.9L63.9 458.9L63.9 459.9L63.9 460.9L63.9 461.9L64.0 462.9L64.2 463.9L64.6 464.9L65.1 465.9L65.8 466.9L66.7 467.9L67.7 468.9L68.9 469.9L70.1 470.9L71.2 471.9L72.1 472.9L72.6 473.9L72.8 474.9L72.5 475.9L71.9 476.9L71.0 477.9L69.9 478.9L68.7 479.9L67.5 480.9L66.5 481.9L65.6 482.9L65.0 483.9L64.5 484.9L64.1 485.9L63.9 486.9L63.9 487.9L63.9 488.9L63.3 488.9L63.3 487.9L63.3 486.9L63.1 485.9L62.7 484.9L62.2 483.9L61.6 482.9L60.7 481.9L59.7 480.9L58.5 479.9L57.3 478.9L56.2 477.9L55.3 476.9L54.7 475.9L54.4 474.9L54.6 473.9L55.1 472.9L56.0 471.9L57.1 470.9L58.3 469.9L59.5 468.9L60.5 467.9L61.4 466.9L62.1 465.9L62.6 464.9L63.0 463.9L63.2 462.9L63.3 461.9L63.3 460.9L63.3 459.9L63.3 458.9L63.3 457.9L63.3 456.9L63.3 455.9L63.3 454.9L63.3 453.9L63.3 452.9L63.3 451.9L63.3 450.9L63.3 449.9L63.3 448.9L63.3 447.9L63.3 446.9L63.3 445.9L63.3 444.9Z" fill="#f2766e" fill-opacity="0.4" stroke="#f2766e" stroke-width="1.4" stroke-linejoin="round"/><path d="M66.0 455.0L67.2 455.6L67.6 456.2L68.0 456.8L68.3 457.3L68.5 457.9L68.8 458.5L69.0 459.1L69.0 487.2L68.8 487.4L68.5 487.6L68.3 487.8L68.0 487.9L67.6 488.1L67.2 488.3L66.0 488.5L61.2 488.5L60.0 488.3L59.6 488.1L59.2 487.9L58.9 487.8L58.7 487.6L58.4 487.4L58.2 487.2L58.2 459.1L58.4 458.5L58.7 457.9L58.9 457.3L59.2 456.8L59.6 456.2L60.0 455.6L61.2 455.0Z" fill="url(#gc0)"/><path transform="scale(.25)" d="M255 1780h0m-4 2h0m13 8h0m-18 2h0m11 2h0m-2 1h0m12 3h0m0 2h0m-16 1h0m11 1h0m-16 0h0m-5 2h0m20 1h0m-3 0h0m-2 10h0m-9 1h0m19 1h0m-21 1h0m-7 0h0m33 1h0m-22 5h0m9 0h0m-6 1h0m2 1h0m4 1h0m-15 0h0m-1 1h0m5 0h0m-8 4h0m29 0h0m-31 0h0m11 2h0m-5 0h0m34 5h0m-2 1h0m-41 25h0m-1 2h0m-2 2h0m4 10h0m-3 14h0m44 13h0m-40 10h0m40 14h0m-44 5h0m42 6h0m-42 3h0m2 0h0m19 6h0m-3 1h0m12 0h0m-7 1h0" stroke="#f2766e" stroke-width="9.2" stroke-linecap="round" stroke-opacity="0.38" fill="none"/><line x1="58.10" y1="474.80" x2="69.10" y2="474.80" stroke="#000" stroke-width="2"/><path d="M85.8 414.3L85.8 415.3L85.9 416.3L86.0 417.3L86.1 418.3L86.1 419.3L86.2 420.3L86.3 421.3L86.4 422.3L86.5 423.3L86.6 424.3L86.8 425.3L86.9 426.3L87.0 427.3L87.1 428.3L87.3 429.3L87.4 430.3L87.5 431.3L87.7 432.3L87.8 433.3L87.9 434.3L88.1 435.3L88.2 436.3L88.3 437.3L88.5 438.3L88.6 439.3L88.7 440.3L88.8 441.3L88.9 442.3L89.0 443.3L89.0 444.3L89.1 445.3L89.2 446.3L89.2 447.3L89.2 448.3L89.2 449.3L89.2 450.3L89.2 451.3L89.2 452.3L89.2 453.3L89.1 454.3L89.1 455.3L89.0 456.3L88.9 457.3L88.8 458.3L88.7 459.3L88.6 460.3L88.5 461.3L88.4 462.3L88.3 463.3L88.1 464.3L88.0 465.3L87.9 466.3L87.7 467.3L87.6 468.3L87.5 469.3L87.3 470.3L87.2 471.3L87.1 472.3L87.0 472.4L83.5 472.4L83.4 472.3L83.3 471.3L83.2 470.3L83.0 469.3L82.9 468.3L82.8 467.3L82.6 466.3L82.5 465.3L82.4 464.3L82.2 463.3L82.1 462.3L82.0 461.3L81.9 460.3L81.8 459.3L81.7 458.3L81.6 457.3L81.5 456.3L81.4 455.3L81.4 454.3L81.3 453.3L81.3 452.3L81.3 451.3L81.3 450.3L81.3 449.3L81.3 448.3L81.3 447.3L81.3 446.3L81.4 445.3L81.5 444.3L81.5 443.3L81.6 442.3L81.7 441.3L81.8 440.3L81.9 439.3L82.0 438.3L82.2 437.3L82.3 436.3L82.4 435.3L82.6 434.3L82.7 433.3L82.8 432.3L83.0 431.3L83.1 430.3L83.2 429.3L83.4 428.3L83.5 427.3L83.6 426.3L83.7 425.3L83.9 424.3L84.0 423.3L84.1 422.3L84.2 421.3L84.3 420.3L84.4 419.3L84.4 418.3L84.5 417.3L84.6 416.3L84.7 415.3L84.7 414.3Z" fill="#c8922a" fill-opacity="0.4" stroke="#c8922a" stroke-width="1.4" stroke-linejoin="round"/><path d="M87.7 416.0L88.8 416.5L89.3 417.0L89.6 417.5L89.9 418.0L90.2 418.5L90.4 419.0L90.7 419.5L90.7 470.0L90.4 470.3L90.2 470.6L89.9 470.9L89.6 471.1L89.3 471.4L88.8 471.7L87.7 472.0L82.8 472.0L81.7 471.7L81.2 471.4L80.9 471.1L80.6 470.9L80.3 470.6L80.1 470.3L79.8 470.0L79.8 419.5L80.1 419.0L80.3 418.5L80.6 418.0L80.9 417.5L81.2 417.0L81.7 416.5L82.8 416.0Z" fill="url(#gc1)"/><path transform="scale(.25)" d="M343 1657h0m-3 1h0m11 1h0m-17 1h0m7 0h0m-13 0h0m10 1h0m-5 2h0m6 0h0m-5 1h0m-1 3h0m-5 4h0m23 0h0m0 2h0m-22 0h0m8 1h0m-13 2h0m31 0h0m-13 1h0m-1 0h0m-5 1h0m25 17h0m0 27h0m3 8h0m-46 7h0m45 3h0m-42 20h0m39 1h0m-39 1h0m41 1h0m-43 21h0m42 2h0m0 1h0m-1 5h0m4 7h0m-44 10h0m41 1h0m0 18h0m1 13h0m1 0h0m-45 9h0m0 7h0m42 7h0m-39 4h0m1 7h0m-3 1h0m39 4h0m-22 1h0m20 1h0m-32 0h0m26 1h0m-18 3h0" stroke="#c8922a" stroke-width="9.2" stroke-linecap="round" stroke-opacity="0.38" fill="none"/><line x1="79.75" y1="448.60" x2="90.75" y2="448.60" stroke="#000" stroke-width="2"/><path d="M107.2 325.1L107.2 326.1L107.2 327.1L107.2 328.1L107.3 329.1L107.3 330.1L107.3 331.1L107.3 332.1L107.4 333.1L107.4 334.1L107.4 335.1L107.5 336.1L107.5 337.1L107.5 338.1L107.6 339.1L107.6 340.1L107.6 341.1L107.7 342.1L107.7 343.1L107.8 344.1L107.8 345.1L107.9 346.1L107.9 347.1L108.0 348.1L108.0 349.1L108.1 350.1L108.1 351.1L108.2 352.1L108.2 353.1L108.3 354.1L108.3 355.1L108.4 356.1L108.4 357.1L108.5 358.1L108.5 359.1L108.6 360.1L108.6 361.1L108.7 362.1L108.8 363.1L108.8 364.1L108.9 365.1L108.9 366.1L108.9 367.1L109.0 368.1L109.0 369.1L109.1 370.1L109.1 371.1L109.2 372.1L109.2 373.1L109.2 374.1L109.3 375.1L109.3 376.1L109.3 377.1L109.3 378.1L109.3 379.1L109.4 380.1L109.4 381.1L109.4 382.1L109.4 383.1L109.4 384.1L109.4 385.1L109.4 386.1L109.4 387.1L109.4 388.1L109.4 389.1L109.4 390.1L109.3 391.1L109.3 392.1L109.3 393.1L109.3 394.1L109.2 395.1L109.2 396.1L109.2 397.1L109.1 398.1L109.1 399.1L109.1 400.1L109.0 401.1L109.0 402.1L108.9 403.1L108.9 404.1L108.8 405.1L108.8 406.1L108.7 407.1L108.7 408.1L108.6 409.1L108.6 410.1L108.5 411.1L108.5 412.1L108.4 413.1L108.4 414.1L108.3 415.1L108.3 416.1L108.2 417.1L108.2 418.1L108.1 419.1L108.1 420.1L108.0 421.1L108.0 422.1L107.9 423.1L107.9 424.1L107.8 425.1L107.8 426.1L107.7 427.1L107.7 428.1L107.6 429.1L107.6 430.1L107.6 431.1L107.5 432.1L107.5 433.1L107.5 434.1L107.4 435.1L107.4 436.1L107.4 437.1L107.3 438.1L107.3 439.1L107.3 440.1L107.2 441.1L107.2 442.1L107.2 443.1L107.2 444.1L107.2 445.1L107.2 446.1L107.2 447.1L107.2 448.1L107.2 449.1L107.2 450.1L107.2 451.1L107.2 452.1L107.2 453.1L107.2 454.1L107.2 455.1L107.2 456.1L107.2 457.1L107.2 458.1L107.2 459.1L107.2 460.1L107.2 461.1L107.2 462.1L107.2 463.1L107.2 464.1L107.2 464.7L106.6 464.7L106.6 464.1L106.6 463.1L106.6 462.1L106.6 461.1L106.6 460.1L106.6 459.1L106.6 458.1L106.6 457.1L106.6 456.1L106.6 455.1L106.6 454.1L106.6 453.1L106.6 452.1L106.6 451.1L106.6 450.1L106.6 449.1L106.6 448.1L106.6 447.1L106.6 446.1L106.6 445.1L106.6 444.1L106.6 443.1L106.6 442.1L106.6 441.1L106.5 440.1L106.5 439.1L106.5 438.1L106.4 437.1L106.4 436.1L106.4 435.1L106.3 434.1L106.3 433.1L106.3 432.1L106.2 431.1L106.2 430.1L106.2 429.1L106.1 428.1L106.1 427.1L106.0 426.1L106.0 425.1L105.9 424.1L105.9 423.1L105.8 422.1L105.8 421.1L105.7 420.1L105.7 419.1L105.6 418.1L105.6 417.1L105.5 416.1L105.5 415.1L105.4 414.1L105.4 413.1L105.3 412.1L105.3 411.1L105.2 410.1L105.2 409.1L105.1 408.1L105.1 407.1L105.0 406.1L105.0 405.1L104.9 404.1L104.9 403.1L104.8 402.1L104.8 401.1L104.7 400.1L104.7 399.1L104.7 398.1L104.6 397.1L104.6 396.1L104.6 395.1L104.5 394.1L104.5 393.1L104.5 392.1L104.5 391.1L104.4 390.1L104.4 389.1L104.4 388.1L104.4 387.1L104.4 386.1L104.4 385.1L104.4 384.1L104.4 383.1L104.4 382.1L104.4 381.1L104.4 380.1L104.5 379.1L104.5 378.1L104.5 377.1L104.5 376.1L104.5 375.1L104.6 374.1L104.6 373.1L104.6 372.1L104.7 371.1L104.7 370.1L104.8 369.1L104.8 368.1L104.9 367.1L104.9 366.1L104.9 365.1L105.0 364.1L105.0 363.1L105.1 362.1L105.2 361.1L105.2 360.1L105.3 359.1L105.3 358.1L105.4 357.1L105.4 356.1L105.5 355.1L105.5 354.1L105.6 353.1L105.6 352.1L105.7 351.1L105.7 350.1L105.8 349.1L105.8 348.1L105.9 347.1L105.9 346.1L106.0 345.1L106.0 344.1L106.1 343.1L106.1 342.1L106.2 341.1L106.2 340.1L106.2 339.1L106.3 338.1L106.3 337.1L106.3 336.1L106.4 335.1L106.4 334.1L106.4 333.1L106.5 332.1L106.5 331.1L106.5 330.1L106.5 329.1L106.6 328.1L106.6 327.1L106.6 326.1L106.6 325.1Z" fill="#7ab33f" fill-opacity="0.4" stroke="#7ab33f" stroke-width="1.4" stroke-linejoin="round"/><path d="M109.3 329.0L110.5 331.8L110.9 334.7L111.3 337.5L111.6 340.3L111.8 343.1L112.1 346.0L112.3 348.8L112.3 433.3L112.1 434.4L111.8 435.5L111.6 436.6L111.3 437.7L110.9 438.8L110.5 439.9L109.3 441.0L104.5 441.0L103.3 439.9L102.9 438.8L102.5 437.7L102.2 436.6L102.0 435.5L101.7 434.4L101.5 433.3L101.5 348.8L101.7 346.0L102.0 343.1L102.2 340.3L102.5 337.5L102.9 334.7L103.3 331.8L104.5 329.0Z" fill="url(#gc2)"/><path transform="scale(.25)" d="M435 1301h0m-5 2h0m2 1h0m-7 0h0m-3 1h0m15 0h0m-20 1h0m2 2h0m21 2h0m-6 1h0m-11 0h0m6 2h0m11 0h0m-22 0h0m3 1h0m16 0h0m-7 0h0m4 1h0m-23 0h0m-2 1h0m14 7h0m12 0h0m-18 0h0m6 1h0m5 3h0m3 8h0m-4 5h0m-2 2h0m15 3h0m-22 0h0m21 0h0m-19 1h0m-3 1h0m-2 0h0m4 0h0m6 2h0m0 1h0m10 1h0m-3 1h0m3 0h0m-8 0h0m-5 1h0m15 0h0m-20 1h0m13 0h0m6 1h0m-2 1h0m2 1h0m-10 0h0m8 2h0m-13 1h0m-8 1h0m19 1h0m8 1h0m-23 0h0m4 0h0m0 1h0m14 1h0m-10 2h0m10 0h0m-20 1h0m22 1h0m5 1h0m-29 0h0m15 2h0m15 2h0m-16 3h0m-10 0h0m25 1h0m-24 1h0m-5 0h0m5 1h0m23 0h0m-15 1h0m11 1h0m-2 1h0m6 1h0m-22 1h0m24 2h0m-1 0h0m-13 2h0m-15 5h0m23 1h0m-32 9h0m42 10h0m-40 4h0m40 12h0m1 5h0m-1 14h0m2 2h0m-2 1h0m4 15h0m-46 18h0m0 11h0m2 12h0m42 21h0m-41 8h0m40 8h0m-39 3h0m-2 7h0m41 1h0m-40 0h0m0 4h0m-2 5h0m-1 7h0m44 1h0m0 16h0m-40 11h0m42 2h0m-2 20h0m1 22h0m-1 16h0m-41 1h0m41 10h0m-3 2h0m4 5h0m-44 1h0m0 0h0m44 7h0m-2 2h0m2 10h0m-3 4h0m-41 5h0m2 9h0m39 17h0m-11 1h0m8 1h0m0 2h0m-13 2h0m11 1h0m-4 0h0m-14 0h0m-3 1h0m5 1h0m5 0h0m9 2h0m3 1h0m-30 0h0m23 2h0m-15 0h0m-4 1h0m14 1h0m5 1h0m-2 1h0m-18 0h0m-2 1h0m15 4h0m4 1h0m5 0h0m-13 10h0m-16 0h0m32 0h0m-27 1h0m26 3h0m-3 6h0m-6 1h0m-16 1h0m7 1h0m-9 15h0m0 4h0m20 24h0m-6 15h0m2 1h0m-6 5h0m11 1h0m-17 0h0m14 1h0" stroke="#7ab33f" stroke-width="9.2" stroke-linecap="round" stroke-opacity="0.38" fill="none"/><line x1="101.40" y1="385.70" x2="112.40" y2="385.70" stroke="#000" stroke-width="2"/><path d="M128.8 352.7L128.9 353.7L128.9 354.7L128.9 355.7L129.0 356.7L129.0 357.7L129.0 358.7L129.1 359.7L129.1 360.7L129.2 361.7L129.2 362.7L129.3 363.7L129.4 364.7L129.4 365.7L129.5 366.7L129.6 367.7L129.6 368.7L129.7 369.7L129.8 370.7L129.9 371.7L129.9 372.7L130.0 373.7L130.1 374.7L130.2 375.7L130.3 376.7L130.4 377.7L130.4 378.7L130.5 379.7L130.6 380.7L130.7 381.7L130.8 382.7L130.9 383.7L130.9 384.7L131.0 385.7L131.1 386.7L131.2 387.7L131.2 388.7L131.3 389.7L131.3 390.7L131.4 391.7L131.4 392.7L131.5 393.7L131.5 394.7L131.5 395.7L131.5 396.7L131.5 397.7L131.5 398.7L131.5 399.7L131.5 400.7L131.5 401.7L131.5 402.7L131.5 403.7L131.4 404.7L131.4 405.7L131.4 406.7L131.3 407.7L131.3 408.7L131.2 409.7L131.1 410.7L131.1 411.7L131.0 412.7L130.9 413.7L130.8 414.7L130.8 415.7L130.7 416.7L130.6 417.7L130.5 418.7L130.4 419.7L130.3 420.7L130.2 421.7L130.2 422.7L130.1 423.7L130.0 424.7L129.9 425.7L129.8 426.7L129.8 427.7L129.7 428.7L129.6 429.7L129.5 430.7L129.5 431.7L129.4 432.7L129.3 433.7L129.3 434.7L129.2 435.7L129.2 436.7L129.1 437.7L129.1 438.7L129.0 439.7L129.0 440.7L128.9 441.7L128.9 442.7L128.9 443.7L128.8 444.7L128.8 445.7L128.8 446.7L128.8 447.7L128.8 448.7L128.8 449.7L128.8 450.7L128.8 451.7L128.8 452.7L128.8 453.7L128.8 454.7L128.8 455.7L128.8 456.7L128.8 457.7L128.8 458.7L128.8 459.7L128.8 460.7L128.8 461.7L128.8 462.7L128.8 463.7L128.8 464.7L128.8 465.7L128.8 466.7L128.8 467.7L128.8 468.7L128.8 469.7L128.8 470.7L128.8 471.7L128.8 472.7L128.8 473.7L128.8 474.7L128.8 475.7L128.8 476.7L128.8 477.7L128.8 478.7L128.8 479.7L128.8 480.7L128.8 481.7L128.8 482.0L128.2 482.0L128.2 481.7L128.2 480.7L128.2 479.7L128.2 478.7L128.2 477.7L128.2 476.7L128.2 475.7L128.2 474.7L128.2 473.7L128.2 472.7L128.2 471.7L128.2 470.7L128.2 469.7L128.2 468.7L128.2 467.7L128.2 466.7L128.2 465.7L128.2 464.7L128.2 463.7L128.2 462.7L128.2 461.7L128.2 460.7L128.2 459.7L128.2 458.7L128.2 457.7L128.2 456.7L128.2 455.7L128.2 454.7L128.2 453.7L128.2 452.7L128.2 451.7L128.2 450.7L128.2 449.7L128.2 448.7L128.2 447.7L128.2 446.7L128.2 445.7L128.2 444.7L128.2 443.7L128.2 442.7L128.2 441.7L128.1 440.7L128.1 439.7L128.0 438.7L128.0 437.7L127.9 436.7L127.9 435.7L127.8 434.7L127.8 433.7L127.7 432.7L127.6 431.7L127.6 430.7L127.5 429.7L127.4 428.7L127.3 427.7L127.3 426.7L127.2 425.7L127.1 424.7L127.0 423.7L126.9 422.7L126.9 421.7L126.8 420.7L126.7 419.7L126.6 418.7L126.5 417.7L126.4 416.7L126.3 415.7L126.3 414.7L126.2 413.7L126.1 412.7L126.0 411.7L126.0 410.7L125.9 409.7L125.8 408.7L125.8 407.7L125.7 406.7L125.7 405.7L125.7 404.7L125.6 403.7L125.6 402.7L125.6 401.7L125.6 400.7L125.6 399.7L125.6 398.7L125.6 397.7L125.6 396.7L125.6 395.7L125.6 394.7L125.6 393.7L125.7 392.7L125.7 391.7L125.8 390.7L125.8 389.7L125.9 388.7L125.9 387.7L126.0 386.7L126.1 385.7L126.2 384.7L126.2 383.7L126.3 382.7L126.4 381.7L126.5 380.7L126.6 379.7L126.7 378.7L126.7 377.7L126.8 376.7L126.9 375.7L127.0 374.7L127.1 373.7L127.2 372.7L127.2 371.7L127.3 370.7L127.4 369.7L127.5 368.7L127.5 367.7L127.6 366.7L127.7 365.7L127.7 364.7L127.8 363.7L127.9 362.7L127.9 361.7L128.0 360.7L128.0 359.7L128.1 358.7L128.1 357.7L128.1 356.7L128.2 355.7L128.2 354.7L128.2 353.7L128.2 352.7Z" fill="#3bb878" fill-opacity="0.4" stroke="#3bb878" stroke-width="1.4" stroke-linejoin="round"/><path d="M131.0 356.0L132.1 357.5L132.6 359.1L132.9 360.6L133.2 362.1L133.5 363.6L133.7 365.2L133.9 366.7L133.9 438.1L133.7 438.9L133.5 439.8L133.2 440.6L132.9 441.5L132.6 442.3L132.1 443.2L131.0 444.0L126.1 444.0L125.0 443.2L124.5 442.3L124.2 441.5L123.9 440.6L123.6 439.8L123.4 438.9L123.1 438.1L123.1 366.7L123.4 365.2L123.6 363.6L123.9 362.1L124.2 360.6L124.5 359.1L125.0 357.5L126.1 356.0Z" fill="url(#gc3)"/><path transform="scale(.25)" d="M516 1414h0m-2 2h0m-3 2h0m11 0h0m-19 0h0m24 0h0m-3 5h0m-2 0h0m3 0h0m-6 0h0m-10 0h0m-13 1h0m31 0h0m-13 5h0m10 2h0m-3 3h0m-9 3h0m7 1h0m-8 1h0m9 2h0m2 1h0m-3 0h0m-12 3h0m14 0h0m0 1h0m8 0h0m-8 2h0m6 1h0m-19 0h0m0 1h0m-8 0h0m4 1h0m-5 2h0m6 2h0m20 0h0m-1 2h0m3 1h0m2 0h0m0 0h0m-8 1h0m-23 1h0m25 2h0m-13 1h0m0 1h0m12 0h0m-14 2h0m1 1h0m-14 30h0m-3 1h0m3 15h0m-4 20h0m2 4h0m-1 3h0m42 1h0m2 7h0m-45 7h0m43 3h0m-40 6h0m-2 3h0m45 22h0m-44 5h0m44 5h0m-42 7h0m38 4h0m3 7h0m-44 15h0m0 7h0m3 29h0m-1 3h0m-1 1h0m2 1h0m-2 5h0m40 14h0m-42 14h0m46 7h0m-4 1h0m-40 8h0m0 4h0m-2 8h0m43 0h0m3 0h0m-2 3h0m-6 16h0m-13 2h0m12 0h0m-24 1h0m14 1h0m-7 1h0m20 0h0m-4 1h0m4 0h0m-17 1h0m10 2h0m-2 2h0m-19 1h0m-3 1h0m7 0h0m11 0h0m-16 2h0m21 5h0m-12 30h0m14 10h0m-8 2h0m-8 4h0m13 1h0m-13 9h0m20 10h0m-7 0h0m-4 1h0m-6 17h0m-4 25h0m8 1h0m-1 0h0m-4 31h0m1 2h0" stroke="#3bb878" stroke-width="9.2" stroke-linecap="round" stroke-opacity="0.38" fill="none"/><line x1="123.05" y1="399.70" x2="134.05" y2="399.70" stroke="#000" stroke-width="2"/><path d="M150.5 444.2L150.5 445.2L150.5 446.2L150.5 447.2L150.5 448.2L150.5 449.2L150.5 450.2L150.5 451.2L150.5 452.2L150.5 453.2L150.5 454.2L150.5 455.2L150.5 456.2L150.5 457.2L150.5 458.2L150.5 459.2L150.5 460.2L150.5 461.2L150.5 462.2L150.5 463.2L150.5 464.2L150.5 465.2L150.5 466.2L150.5 467.2L150.9 468.2L151.5 469.2L152.5 470.2L153.8 471.2L155.4 472.2L157.2 473.2L158.7 474.2L159.7 475.2L160.0 476.2L159.4 477.2L158.1 478.2L156.5 479.2L154.8 480.2L153.2 481.2L152.0 482.2L151.2 483.2L150.7 484.2L150.5 485.2L150.5 486.2L150.5 487.2L150.5 487.5L149.9 487.5L149.9 487.2L149.9 486.2L149.9 485.2L149.7 484.2L149.2 483.2L148.4 482.2L147.2 481.2L145.6 480.2L143.9 479.2L142.3 478.2L141.0 477.2L140.4 476.2L140.7 475.2L141.7 474.2L143.2 473.2L145.0 472.2L146.6 471.2L147.9 470.2L148.9 469.2L149.5 468.2L149.9 467.2L149.9 466.2L149.9 465.2L149.9 464.2L149.9 463.2L149.9 462.2L149.9 461.2L149.9 460.2L149.9 459.2L149.9 458.2L149.9 457.2L149.9 456.2L149.9 455.2L149.9 454.2L149.9 453.2L149.9 452.2L149.9 451.2L149.9 450.2L149.9 449.2L149.9 448.2L149.9 447.2L149.9 446.2L149.9 445.2L149.9 444.2Z" fill="#22bdc0" fill-opacity="0.4" stroke="#22bdc0" stroke-width="1.4" stroke-linejoin="round"/><path d="M152.6 457.0L153.8 457.6L154.2 458.2L154.6 458.8L154.9 459.4L155.1 460.0L155.4 460.6L155.6 461.2L155.6 487.0L155.4 487.1L155.1 487.1L154.9 487.2L154.6 487.3L154.2 487.4L153.8 487.4L152.6 487.5L147.8 487.5L146.6 487.4L146.2 487.4L145.8 487.3L145.5 487.2L145.3 487.1L145.0 487.1L144.8 487.0L144.8 461.2L145.0 460.6L145.3 460.0L145.5 459.4L145.8 458.8L146.2 458.2L146.6 457.6L147.8 457.0Z" fill="url(#gc4)"/><path transform="scale(.25)" d="M592 1777h0m7 2h0m-2 12h0m5 10h0m-2 6h0m10 0h0m-5 3h0m-9 3h0m7 3h0m-12 2h0m8 2h0m16 2h0m-18 1h0m-5 5h0m-8 0h0m7 6h0m22 1h0m-27 2h0m10 1h0m-11 1h0m17 0h0m-4 1h0m-14 0h0m12 1h0m-1 0h0m9 0h0m0 2h0m-7 2h0m23 9h0m4 11h0m-45 8h0m0 1h0m43 10h0m-40 2h0m38 6h0m-38 0h0m39 26h0m-1 6h0m2 3h0m1 10h0" stroke="#22bdc0" stroke-width="9.2" stroke-linecap="round" stroke-opacity="0.38" fill="none"/><line x1="144.70" y1="476.00" x2="155.70" y2="476.00" stroke="#000" stroke-width="2"/><path d="M172.2 428.0L172.2 429.0L172.2 430.0L172.2 431.0L172.2 432.0L172.2 433.0L172.2 434.0L172.2 435.0L172.2 436.0L172.2 437.0L172.2 438.0L172.2 439.0L172.2 440.0L172.2 441.0L172.2 442.0L172.2 443.0L172.2 444.0L172.2 445.0L172.2 446.0L172.2 447.0L172.2 448.0L172.2 449.0L172.2 450.0L172.2 451.0L172.2 452.0L172.2 453.0L172.2 454.0L172.2 455.0L172.2 456.0L172.2 457.0L172.2 458.0L172.2 459.0L172.2 460.0L172.2 461.0L172.2 462.0L172.5 463.0L173.1 464.0L174.0 465.0L175.3 466.0L176.9 467.0L178.5 468.0L179.9 469.0L180.7 470.0L180.7 471.0L179.9 472.0L178.5 473.0L176.9 474.0L175.3 475.0L174.0 476.0L173.1 477.0L172.5 478.0L172.2 479.0L172.2 480.0L172.2 481.0L172.2 482.0L172.2 483.0L172.2 484.0L172.2 485.0L172.2 485.3L171.5 485.3L171.5 485.0L171.5 484.0L171.5 483.0L171.5 482.0L171.5 481.0L171.5 480.0L171.5 479.0L171.2 478.0L170.6 477.0L169.7 476.0L168.4 475.0L166.8 474.0L165.2 473.0L163.8 472.0L163.0 471.0L163.0 470.0L163.8 469.0L165.2 468.0L166.8 467.0L168.4 466.0L169.7 465.0L170.6 464.0L171.2 463.0L171.5 462.0L171.5 461.0L171.5 460.0L171.5 459.0L171.5 458.0L171.5 457.0L171.5 456.0L171.5 455.0L171.5 454.0L171.5 453.0L171.5 452.0L171.5 451.0L171.5 450.0L171.5 449.0L171.5 448.0L171.5 447.0L171.5 446.0L171.5 445.0L171.5 444.0L171.5 443.0L171.5 442.0L171.5 441.0L171.5 440.0L171.5 439.0L171.5 438.0L171.5 437.0L171.5 436.0L171.5 435.0L171.5 434.0L171.5 433.0L171.5 432.0L171.5 431.0L171.5 430.0L171.5 429.0L171.5 428.0Z" fill="#3c9edb" fill-opacity="0.4" stroke="#3c9edb" stroke-width="1.4" stroke-linejoin="round"/><path d="M174.3 445.0L175.4 446.4L175.9 447.9L176.2 449.3L176.5 450.7L176.8 452.1L177.0 453.6L177.2 455.0L177.2 484.5L177.0 484.6L176.8 484.7L176.5 484.8L176.2 485.0L175.9 485.1L175.4 485.2L174.3 485.3L169.4 485.3L168.3 485.2L167.8 485.1L167.5 485.0L167.2 484.8L166.9 484.7L166.7 484.6L166.4 484.5L166.4 455.0L166.7 453.6L166.9 452.1L167.2 450.7L167.5 449.3L167.8 447.9L168.3 446.4L169.4 445.0Z" fill="url(#gc5)"/><path transform="scale(.25)" d="M697 1713h0m-15 2h0m-1 2h0m1 1h0m14 2h0m-6 3h0m8 0h0m-10 2h0m-7 0h0m16 10h0m-21 1h0m-3 17h0m25 1h0m-18 0h0m-9 7h0m15 1h0m10 2h0m-2 1h0m-19 1h0m10 1h0m-5 1h0m5 0h0m-2 0h0m14 1h0m-19 1h0m12 1h0m7 4h0m4 1h0m-4 1h0m-27 0h0m10 0h0m13 3h0m-24 0h0m24 3h0m-10 0h0m10 0h0m-13 14h0m18 1h0m-1 1h0m-18 0h0m1 1h0m6 0h0m3 0h0m-11 0h0m16 1h0m-17 0h0m6 0h0m15 1h0m-21 5h0m26 5h0m-16 0h0m-10 1h0m1 0h0m-5 0h0m15 0h0m12 1h0m-19 0h0m23 1h0m-25 0h0m27 2h0m-37 0h0m1 1h0m29 1h0m4 1h0m-27 0h0m32 8h0m-41 3h0m2 2h0m37 14h0m4 1h0m-43 8h0m-2 0h0m42 22h0m-39 3h0m-3 9h0m2 3h0m43 26h0m-3 9h0m-1 4h0m-17 7h0m-12 2h0" stroke="#3c9edb" stroke-width="9.2" stroke-linecap="round" stroke-opacity="0.38" fill="none"/><line x1="166.35" y1="470.50" x2="177.35" y2="470.50" stroke="#000" stroke-width="2"/><path d="M193.8 366.7L193.8 367.7L193.8 368.7L193.8 369.7L193.8 370.7L193.8 371.7L193.8 372.7L193.8 373.7L193.8 374.7L193.8 375.7L193.8 376.7L193.8 377.7L193.8 378.7L193.8 379.7L193.8 380.7L193.8 381.7L193.8 382.7L193.8 383.7L193.8 384.7L193.8 385.7L193.8 386.7L193.8 387.7L193.8 388.7L193.8 389.7L193.8 390.7L193.8 391.7L193.8 392.7L193.8 393.7L193.8 394.7L193.8 395.7L193.8 396.7L193.8 397.7L193.8 398.7L193.8 399.7L193.8 400.7L193.8 401.7L193.8 402.7L193.8 403.7L193.8 404.7L193.8 405.7L193.8 406.7L193.8 407.7L193.8 408.7L193.8 409.7L193.8 410.7L193.8 411.7L193.8 412.7L193.8 413.7L193.8 414.7L193.8 415.7L193.8 416.7L193.8 417.7L193.8 418.7L193.8 419.7L193.9 420.7L193.9 421.7L194.0 422.7L194.0 423.7L194.1 424.7L194.2 425.7L194.3 426.7L194.4 427.7L194.5 428.7L194.6 429.7L194.7 430.7L194.8 431.7L194.9 432.7L195.0 433.7L195.2 434.7L195.3 435.7L195.4 436.7L195.6 437.7L195.7 438.7L195.8 439.7L195.9 440.7L196.0 441.7L196.1 442.7L196.2 443.7L196.3 444.7L196.4 445.7L196.4 446.7L196.5 447.7L196.5 448.7L196.5 449.7L196.5 450.7L196.5 451.7L196.4 452.7L196.4 453.7L196.3 454.7L196.3 455.7L196.2 456.7L196.1 457.7L196.0 458.7L195.9 459.7L195.8 460.7L195.6 461.7L195.5 462.7L195.4 463.7L195.2 464.7L195.1 465.7L195.0 466.7L194.9 467.7L194.8 468.7L194.6 469.7L194.5 470.7L194.4 471.7L194.3 472.7L194.2 473.7L194.2 474.4L192.8 474.4L192.8 473.7L192.7 472.7L192.6 471.7L192.5 470.7L192.4 469.7L192.2 468.7L192.1 467.7L192.0 466.7L191.9 465.7L191.8 464.7L191.6 463.7L191.5 462.7L191.4 461.7L191.2 460.7L191.1 459.7L191.0 458.7L190.9 457.7L190.8 456.7L190.7 455.7L190.7 454.7L190.6 453.7L190.6 452.7L190.5 451.7L190.5 450.7L190.5 449.7L190.5 448.7L190.5 447.7L190.6 446.7L190.6 445.7L190.7 444.7L190.8 443.7L190.9 442.7L191.0 441.7L191.1 440.7L191.2 439.7L191.3 438.7L191.4 437.7L191.6 436.7L191.7 435.7L191.8 434.7L192.0 433.7L192.1 432.7L192.2 431.7L192.3 430.7L192.4 429.7L192.5 428.7L192.6 427.7L192.7 426.7L192.8 425.7L192.9 424.7L193.0 423.7L193.0 422.7L193.1 421.7L193.1 420.7L193.2 419.7L193.2 418.7L193.2 417.7L193.2 416.7L193.2 415.7L193.2 414.7L193.2 413.7L193.2 412.7L193.2 411.7L193.2 410.7L193.2 409.7L193.2 408.7L193.2 407.7L193.2 406.7L193.2 405.7L193.2 404.7L193.2 403.7L193.2 402.7L193.2 401.7L193.2 400.7L193.2 399.7L193.2 398.7L193.2 397.7L193.2 396.7L193.2 395.7L193.2 394.7L193.2 393.7L193.2 392.7L193.2 391.7L193.2 390.7L193.2 389.7L193.2 388.7L193.2 387.7L193.2 386.7L193.2 385.7L193.2 384.7L193.2 383.7L193.2 382.7L193.2 381.7L193.2 380.7L193.2 379.7L193.2 378.7L193.2 377.7L193.2 376.7L193.2 375.7L193.2 374.7L193.2 373.7L193.2 372.7L193.2 371.7L193.2 370.7L193.2 369.7L193.2 368.7L193.2 367.7L193.2 366.7Z" fill="#977cc6" fill-opacity="0.4" stroke="#977cc6" stroke-width="1.4" stroke-linejoin="round"/><path d="M195.9 408.0L197.1 411.0L197.5 414.0L197.9 417.0L198.2 420.0L198.4 423.0L198.7 426.0L198.9 429.0L198.9 472.0L198.7 472.3L198.4 472.7L198.2 473.0L197.9 473.4L197.5 473.7L197.1 474.1L195.9 474.4L191.1 474.4L189.9 474.1L189.5 473.7L189.1 473.4L188.8 473.0L188.6 472.7L188.3 472.3L188.1 472.0L188.1 429.0L188.3 426.0L188.6 423.0L188.8 420.0L189.1 417.0L189.5 414.0L189.9 411.0L191.1 408.0Z" fill="url(#gc6)"/><path transform="scale(.25)" d="M779 1470h0m-13 10h0m-1 2h0m18 25h0m-12 2h0m8 11h0m-5 22h0m5 3h0m5 14h0m-16 13h0m-9 6h0m17 8h0m-5 9h0m-9 1h0m28 8h0m-14 1h0m-7 2h0m-3 0h0m4 4h0m0 5h0m13 4h0m-4 3h0m3 5h0m-12 2h0m4 1h0m-16 1h0m17 0h0m17 0h0m-8 3h0m-14 3h0m13 3h0m-9 1h0m0 0h0m4 1h0m1 3h0m2 0h0m-2 2h0m-9 0h0m-6 7h0m18 4h0m-7 0h0m-12 0h0m23 0h0m0 4h0m-10 2h0m1 3h0m3 3h0m7 0h0m-15 1h0m16 0h0m-6 1h0m-17 0h0m1 2h0m-5 0h0m6 0h0m-8 0h0m16 0h0m-8 2h0m15 0h0m-22 5h0m6 1h0m-6 0h0m9 0h0m-10 3h0m9 0h0m20 2h0m-2 2h0m4 0h0m-26 0h0m9 1h0m6 1h0m-23 4h0m26 4h0m-9 0h0m2 1h0m-10 2h0m23 0h0m-24 0h0m-7 1h0m34 0h0m-33 1h0m22 1h0m4 0h0m-17 0h0m5 0h0m6 1h0m-10 0h0m22 1h0m-15 1h0m13 1h0m-24 0h0m28 1h0m-7 3h0m-2 1h0m-20 0h0m34 7h0m-1 5h0m-45 4h0m44 8h0m-41 1h0m41 5h0m-44 20h0m4 7h0m41 9h0m-2 4h0m0 8h0m1 19h0m-1 11h0m-41 11h0m0 4h0m2 16h0m39 5h0m2 4h0m-2 2h0m-39 3h0m-1 4h0m5 19h0m-2 0h0m6 1h0m-1 1h0m21 1h0m-8 1h0m8 0h0" stroke="#977cc6" stroke-width="9.2" stroke-linecap="round" stroke-opacity="0.38" fill="none"/><line x1="188.00" y1="450.90" x2="199.00" y2="450.90" stroke="#000" stroke-width="2"/><path d="M215.4 373.1L215.4 374.1L215.4 375.1L215.4 376.1L215.4 377.1L215.4 378.1L215.4 379.1L215.4 380.1L215.4 381.1L215.4 382.1L215.4 383.1L215.4 384.1L215.4 385.1L215.4 386.1L215.4 387.1L215.4 388.1L215.4 389.1L215.4 390.1L215.4 391.1L215.4 392.1L215.4 393.1L215.4 394.1L215.4 395.1L215.4 396.1L215.4 397.1L215.4 398.1L215.4 399.1L215.4 400.1L215.4 401.1L215.4 402.1L215.4 403.1L215.4 404.1L215.4 405.1L215.4 406.1L215.4 407.1L215.4 408.1L215.4 409.1L215.4 410.1L215.4 411.1L215.5 412.1L215.5 413.1L215.5 414.1L215.6 415.1L215.6 416.1L215.7 417.1L215.7 418.1L215.8 419.1L215.9 420.1L215.9 421.1L216.0 422.1L216.1 423.1L216.2 424.1L216.3 425.1L216.4 426.1L216.4 427.1L216.5 428.1L216.6 429.1L216.7 430.1L216.8 431.1L216.9 432.1L217.0 433.1L217.2 434.1L217.3 435.1L217.4 436.1L217.4 437.1L217.5 438.1L217.6 439.1L217.7 440.1L217.8 441.1L217.9 442.1L217.9 443.1L218.0 444.1L218.0 445.1L218.1 446.1L218.1 447.1L218.1 448.1L218.1 449.1L218.1 450.1L218.1 451.1L218.1 452.1L218.1 453.1L218.1 454.1L218.0 455.1L218.0 456.1L217.9 457.1L217.9 458.1L217.8 459.1L217.7 460.1L217.6 461.1L217.5 462.1L217.4 463.1L217.3 464.1L217.2 465.1L217.1 466.1L217.0 467.1L216.9 468.1L216.8 469.1L216.7 470.1L216.6 471.1L216.5 472.1L216.4 473.1L216.3 474.1L216.2 475.1L216.2 476.1L216.1 477.1L216.0 478.1L215.9 479.1L215.9 480.1L215.8 480.4L214.5 480.4L214.4 480.1L214.4 479.1L214.3 478.1L214.2 477.1L214.1 476.1L214.1 475.1L214.0 474.1L213.9 473.1L213.8 472.1L213.7 471.1L213.6 470.1L213.5 469.1L213.4 468.1L213.3 467.1L213.2 466.1L213.1 465.1L213.0 464.1L212.9 463.1L212.8 462.1L212.7 461.1L212.6 460.1L212.5 459.1L212.4 458.1L212.4 457.1L212.3 456.1L212.3 455.1L212.2 454.1L212.2 453.1L212.2 452.1L212.2 451.1L212.2 450.1L212.2 449.1L212.2 448.1L212.2 447.1L212.2 446.1L212.3 445.1L212.3 444.1L212.4 443.1L212.4 442.1L212.5 441.1L212.6 440.1L212.7 439.1L212.8 438.1L212.9 437.1L212.9 436.1L213.0 435.1L213.1 434.1L213.3 433.1L213.4 432.1L213.5 431.1L213.6 430.1L213.7 429.1L213.8 428.1L213.9 427.1L213.9 426.1L214.0 425.1L214.1 424.1L214.2 423.1L214.3 422.1L214.4 421.1L214.4 420.1L214.5 419.1L214.6 418.1L214.6 417.1L214.7 416.1L214.7 415.1L214.8 414.1L214.8 413.1L214.8 412.1L214.8 411.1L214.8 410.1L214.8 409.1L214.8 408.1L214.8 407.1L214.8 406.1L214.8 405.1L214.8 404.1L214.8 403.1L214.8 402.1L214.8 401.1L214.8 400.1L214.8 399.1L214.8 398.1L214.8 397.1L214.8 396.1L214.8 395.1L214.8 394.1L214.8 393.1L214.8 392.1L214.8 391.1L214.8 390.1L214.8 389.1L214.8 388.1L214.8 387.1L214.8 386.1L214.8 385.1L214.8 384.1L214.8 383.1L214.8 382.1L214.8 381.1L214.8 380.1L214.8 379.1L214.8 378.1L214.8 377.1L214.8 376.1L214.8 375.1L214.8 374.1L214.8 373.1Z" fill="#d56bb4" fill-opacity="0.4" stroke="#d56bb4" stroke-width="1.4" stroke-linejoin="round"/><path d="M217.6 392.0L218.7 397.0L219.2 401.9L219.5 406.9L219.8 411.8L220.1 416.8L220.3 421.7L220.5 426.7L220.5 473.0L220.3 473.7L220.1 474.4L219.8 475.1L219.5 475.9L219.2 476.6L218.7 477.3L217.6 478.0L212.7 478.0L211.6 477.3L211.1 476.6L210.8 475.9L210.5 475.1L210.2 474.4L210.0 473.7L209.7 473.0L209.7 426.7L210.0 421.7L210.2 416.8L210.5 411.8L210.8 406.9L211.1 401.9L211.6 397.0L212.7 392.0Z" fill="url(#gc7)"/><path transform="scale(.25)" d="M868 1501h0m-18 1h0m7 6h0m-6 11h0m18 2h0m4 1h0m-10 0h0m3 3h0m-6 1h0m-1 8h0m13 0h0m-24 3h0m18 0h0m7 6h0m-24 3h0m25 0h0m-14 5h0m8 6h0m-18 0h0m24 2h0m-28 2h0m9 0h0m7 0h0m3 3h0m4 2h0m-16 2h0m-6 0h0m24 0h0m-8 9h0m4 2h0m-15 3h0m7 6h0m-7 1h0m0 2h0m5 1h0m0 7h0m2 0h0m10 1h0m-20 0h0m19 7h0m-15 1h0m13 1h0m5 0h0m-14 2h0m2 5h0m-5 1h0m11 0h0m9 0h0m-1 1h0m-6 0h0m2 1h0m-7 3h0m-5 2h0m-8 2h0m20 1h0m-21 2h0m26 0h0m-20 6h0m-7 1h0m8 1h0m2 0h0m16 2h0m-27 5h0m11 1h0m7 2h0m6 4h0m-11 1h0m7 2h0m9 1h0m-9 2h0m9 0h0m-23 0h0m8 2h0m-15 1h0m23 1h0m4 0h0m-8 0h0m-7 1h0m-13 0h0m21 5h0m-3 1h0m-15 1h0m30 1h0m-31 0h0m20 0h0m11 1h0m-25 0h0m23 1h0m-13 0h0m6 1h0m-10 0h0m-8 3h0m25 0h0m-10 1h0m4 0h0m-22 1h0m27 0h0m-28 1h0m27 0h0m-17 2h0m4 0h0m-3 0h0m22 1h0m-35 1h0m29 0h0m-5 2h0m5 1h0m-12 0h0m10 0h0m-10 1h0m-3 1h0m17 2h0m-32 1h0m6 0h0m13 1h0m1 1h0m-17 0h0m20 0h0m6 1h0m-30 1h0m9 0h0m4 1h0m19 0h0m-31 1h0m9 0h0m8 1h0m1 1h0m-16 1h0m0 0h0m24 0h0m3 2h0m-25 0h0m28 2h0m0 1h0m-23 0h0m16 0h0m-11 0h0m3 0h0m20 1h0m3 1h0m-2 8h0m-2 10h0m0 22h0m-37 6h0m38 5h0m-41 16h0m41 0h0m-38 6h0m39 1h0m-40 30h0m39 0h0m-39 1h0m42 0h0m-44 10h0m42 4h0m-39 23h0m0 17h0m-1 8h0m42 1h0m-1 7h0m-2 0h0m-39 5h0m21 5h0m-13 1h0m8 0h0m-12 0h0m22 1h0m-7 1h0m-1 1h0m-2 1h0m1 0h0m-6 0h0m18 1h0m-14 2h0m13 1h0m-16 1h0m4 2h0m10 4h0m-5 4h0m-14 3h0m12 2h0m-11 1h0m10 1h0m13 0h0" stroke="#d56bb4" stroke-width="9.2" stroke-linecap="round" stroke-opacity="0.38" fill="none"/><line x1="209.65" y1="451.10" x2="220.65" y2="451.10" stroke="#000" stroke-width="2"/><path d="M50.6 317.9V496.0H228.5" fill="none" stroke="#303030" stroke-width="1.05"/><path d="M48.50 475.60H50.6M48.50 440.40H50.6M48.50 405.20H50.6M48.50 370.00H50.6M48.50 334.80H50.6M63.60 496.0V498.1M85.25 496.0V498.1M106.90 496.0V498.1M128.55 496.0V498.1M150.20 496.0V498.1M171.85 496.0V498.1M193.50 496.0V498.1M215.15 496.0V498.1" stroke="#111" stroke-width="1.1"/><text x="46.60" y="478.30" font-size="10.5" text-anchor="end" fill="#1a1a1a">0.1</text><text x="46.60" y="443.10" font-size="10.5" text-anchor="end" fill="#1a1a1a">0.2</text><text x="46.60" y="407.90" font-size="10.5" text-anchor="end" fill="#1a1a1a">0.3</text><text x="46.60" y="372.70" font-size="10.5" text-anchor="end" fill="#1a1a1a">0.4</text><text x="46.60" y="337.50" font-size="10.5" text-anchor="end" fill="#1a1a1a">0.5</text><text transform="translate(69.40 505.20) rotate(-45)" font-size="10.5" text-anchor="end" fill="#1a1a1a">WT t0</text><text transform="translate(91.05 505.20) rotate(-45)" font-size="10.5" text-anchor="end" fill="#1a1a1a">WT t05</text><text transform="translate(112.70 505.20) rotate(-45)" font-size="10.5" text-anchor="end" fill="#1a1a1a">WT t15</text><text transform="translate(134.35 505.20) rotate(-45)" font-size="10.5" text-anchor="end" fill="#1a1a1a">WT t30</text><text transform="translate(156.00 505.20) rotate(-45)" font-size="10.5" text-anchor="end" fill="#1a1a1a"><tspan font-style="italic">hog1</tspan> t0</text><text transform="translate(177.65 505.20) rotate(-45)" font-size="10.5" text-anchor="end" fill="#1a1a1a"><tspan font-style="italic">hog1</tspan> t05</text><text transform="translate(199.30 505.20) rotate(-45)" font-size="10.5" text-anchor="end" fill="#1a1a1a"><tspan font-style="italic">hog1</tspan> t15</text><text transform="translate(220.95 505.20) rotate(-45)" font-size="10.5" text-anchor="end" fill="#1a1a1a"><tspan font-style="italic">hog1</tspan> t30</text><text x="132.40" y="543.80" font-size="10.35" text-anchor="middle" fill="#1a1a1a">Genotype and condition</text><text transform="translate(14.5 404.65) rotate(-90)" font-size="10.35" text-anchor="middle" fill="#1a1a1a">Expression induced</text><text transform="translate(27.0 403.35) rotate(-90)" font-size="10.35" text-anchor="middle" fill="#1a1a1a">osmoconsensus</text><text x="221.60" y="303.80" font-size="13" font-weight="bold" fill="#000">d</text><defs><linearGradient id="gd0" x1="0" y1="0" x2="0" y2="1" color="#f2766e"><stop offset="0" stop-opacity="0.12"/><stop offset="0.052" stop-opacity="0.4"/><stop offset="0.087" stop-opacity="0.97"/><stop offset="0.809" stop-opacity="0.97"/><stop offset="0.885" stop-opacity="0.4"/><stop offset="1" stop-opacity="0.12"/></linearGradient><linearGradient id="gd1" x1="0" y1="0" x2="0" y2="1" color="#c8922a"><stop offset="0" stop-opacity="0.12"/><stop offset="0.067" stop-opacity="0.4"/><stop offset="0.111" stop-opacity="0.97"/><stop offset="0.740" stop-opacity="0.97"/><stop offset="0.844" stop-opacity="0.4"/><stop offset="1" stop-opacity="0.12"/></linearGradient><linearGradient id="gd2" x1="0" y1="0" x2="0" y2="1" color="#7ab33f"><stop offset="0" stop-opacity="0.12"/><stop offset="0.148" stop-opacity="0.4"/><stop offset="0.246" stop-opacity="0.97"/><stop offset="0.972" stop-opacity="0.97"/><stop offset="0.983" stop-opacity="0.4"/><stop offset="1" stop-opacity="0.12"/></linearGradient><linearGradient id="gd3" x1="0" y1="0" x2="0" y2="1" color="#3bb878"><stop offset="0" stop-opacity="0.12"/><stop offset="0.078" stop-opacity="0.4"/><stop offset="0.130" stop-opacity="0.97"/><stop offset="0.949" stop-opacity="0.97"/><stop offset="0.969" stop-opacity="0.4"/><stop offset="1" stop-opacity="0.12"/></linearGradient><linearGradient id="gd4" x1="0" y1="0" x2="0" y2="1" color="#22bdc0"><stop offset="0" stop-opacity="0.12"/><stop offset="0.067" stop-opacity="0.4"/><stop offset="0.112" stop-opacity="0.97"/><stop offset="0.832" stop-opacity="0.97"/><stop offset="0.899" stop-opacity="0.4"/><stop offset="1" stop-opacity="0.12"/></linearGradient><linearGradient id="gd5" x1="0" y1="0" x2="0" y2="1" color="#3c9edb"><stop offset="0" stop-opacity="0.12"/><stop offset="0.027" stop-opacity="0.4"/><stop offset="0.045" stop-opacity="0.97"/><stop offset="0.820" stop-opacity="0.97"/><stop offset="0.892" stop-opacity="0.4"/><stop offset="1" stop-opacity="0.12"/></linearGradient><linearGradient id="gd6" x1="0" y1="0" x2="0" y2="1" color="#977cc6"><stop offset="0" stop-opacity="0.12"/><stop offset="0.039" stop-opacity="0.4"/><stop offset="0.065" stop-opacity="0.97"/><stop offset="0.866" stop-opacity="0.97"/><stop offset="0.920" stop-opacity="0.4"/><stop offset="1" stop-opacity="0.12"/></linearGradient><linearGradient id="gd7" x1="0" y1="0" x2="0" y2="1" color="#d56bb4"><stop offset="0" stop-opacity="0.12"/><stop offset="0.076" stop-opacity="0.4"/><stop offset="0.126" stop-opacity="0.97"/><stop offset="0.920" stop-opacity="0.97"/><stop offset="0.952" stop-opacity="0.4"/><stop offset="1" stop-opacity="0.12"/></linearGradient></defs><path d="M291.3 333.0L291.3 334.0L291.4 335.0L291.5 336.0L291.6 337.0L291.7 338.0L291.7 339.0L291.8 340.0L291.9 341.0L292.0 342.0L292.1 343.0L292.3 344.0L292.4 345.0L292.5 346.0L292.6 347.0L292.8 348.0L292.9 349.0L293.0 350.0L293.2 351.0L293.3 352.0L293.5 353.0L293.6 354.0L293.8 355.0L293.9 356.0L294.1 357.0L294.2 358.0L294.4 359.0L294.6 360.0L294.7 361.0L294.9 362.0L295.0 363.0L295.2 364.0L295.3 365.0L295.5 366.0L295.6 367.0L295.8 368.0L295.9 369.0L296.0 370.0L296.2 371.0L296.3 372.0L296.4 373.0L296.5 374.0L296.6 375.0L296.7 376.0L296.7 377.0L296.8 378.0L296.9 379.0L296.9 380.0L297.0 381.0L297.0 382.0L297.0 383.0L297.0 384.0L297.0 385.0L297.0 386.0L297.0 387.0L296.9 388.0L296.9 389.0L296.8 390.0L296.7 391.0L296.7 392.0L296.6 393.0L296.5 394.0L296.4 395.0L296.3 396.0L296.2 397.0L296.0 398.0L295.9 399.0L295.8 400.0L295.6 401.0L295.5 402.0L295.3 403.0L295.2 404.0L295.0 405.0L294.9 406.0L294.7 407.0L294.6 408.0L294.4 409.0L294.2 410.0L294.1 411.0L293.9 412.0L293.8 413.0L293.6 414.0L293.5 415.0L293.3 416.0L293.2 417.0L293.0 418.0L292.9 419.0L292.8 420.0L292.6 421.0L292.5 422.0L292.4 423.0L292.3 424.0L292.1 425.0L292.0 426.0L291.9 427.0L291.8 428.0L291.7 429.0L291.7 430.0L291.6 431.0L291.5 432.0L291.4 433.0L291.3 434.0L291.3 435.0L291.2 436.0L291.2 437.0L291.1 438.0L291.1 439.0L291.0 440.0L291.0 441.0L290.9 442.0L290.9 443.0L290.8 444.0L290.8 445.0L290.8 446.0L290.8 447.0L290.8 448.0L290.8 449.0L290.8 450.0L290.8 451.0L290.8 452.0L290.8 453.0L290.8 454.0L290.8 455.0L290.8 456.0L290.8 457.0L290.8 458.0L290.8 459.0L290.8 459.5L290.2 459.5L290.2 459.0L290.2 458.0L290.2 457.0L290.2 456.0L290.2 455.0L290.2 454.0L290.2 453.0L290.2 452.0L290.2 451.0L290.2 450.0L290.2 449.0L290.2 448.0L290.2 447.0L290.2 446.0L290.2 445.0L290.2 444.0L290.1 443.0L290.1 442.0L290.0 441.0L290.0 440.0L289.9 439.0L289.9 438.0L289.8 437.0L289.8 436.0L289.7 435.0L289.7 434.0L289.6 433.0L289.5 432.0L289.4 431.0L289.3 430.0L289.3 429.0L289.2 428.0L289.1 427.0L289.0 426.0L288.9 425.0L288.7 424.0L288.6 423.0L288.5 422.0L288.4 421.0L288.2 420.0L288.1 419.0L288.0 418.0L287.8 417.0L287.7 416.0L287.5 415.0L287.4 414.0L287.2 413.0L287.1 412.0L286.9 411.0L286.8 410.0L286.6 409.0L286.4 408.0L286.3 407.0L286.1 406.0L286.0 405.0L285.8 404.0L285.7 403.0L285.5 402.0L285.4 401.0L285.2 400.0L285.1 399.0L285.0 398.0L284.8 397.0L284.7 396.0L284.6 395.0L284.5 394.0L284.4 393.0L284.3 392.0L284.3 391.0L284.2 390.0L284.1 389.0L284.1 388.0L284.0 387.0L284.0 386.0L284.0 385.0L284.0 384.0L284.0 383.0L284.0 382.0L284.0 381.0L284.1 380.0L284.1 379.0L284.2 378.0L284.3 377.0L284.3 376.0L284.4 375.0L284.5 374.0L284.6 373.0L284.7 372.0L284.8 371.0L285.0 370.0L285.1 369.0L285.2 368.0L285.4 367.0L285.5 366.0L285.7 365.0L285.8 364.0L286.0 363.0L286.1 362.0L286.3 361.0L286.4 360.0L286.6 359.0L286.8 358.0L286.9 357.0L287.1 356.0L287.2 355.0L287.4 354.0L287.5 353.0L287.7 352.0L287.8 351.0L288.0 350.0L288.1 349.0L288.2 348.0L288.4 347.0L288.5 346.0L288.6 345.0L288.7 344.0L288.9 343.0L289.0 342.0L289.1 341.0L289.2 340.0L289.3 339.0L289.3 338.0L289.4 337.0L289.5 336.0L289.6 335.0L289.7 334.0L289.7 333.0Z" fill="#f2766e" fill-opacity="0.4" stroke="#f2766e" stroke-width="1.4" stroke-linejoin="round"/><path d="M292.9 336.0L294.1 337.3L294.5 338.6L294.9 339.9L295.2 341.1L295.4 342.4L295.7 343.7L295.9 345.0L295.9 419.7L295.7 422.5L295.4 425.4L295.2 428.2L294.9 431.0L294.5 433.8L294.1 436.7L292.9 439.5L288.1 439.5L286.9 436.7L286.5 433.8L286.1 431.0L285.8 428.2L285.6 425.4L285.3 422.5L285.1 419.7L285.1 345.0L285.3 343.7L285.6 342.4L285.8 341.1L286.1 339.9L286.5 338.6L286.9 337.3L288.1 336.0Z" fill="url(#gd0)"/><path transform="scale(.25)" d="M1167 1332h0m-1 4h0m5 1h0m-6 3h0m-7 1h0m-2 0h0m-12 3h0m18 3h0m-5 2h0m-6 3h0m22 1h0m-19 0h0m18 0h0m-10 1h0m-3 1h0m7 4h0m-17 1h0m17 3h0m-6 2h0m15 0h0m-16 4h0m-12 1h0m30 1h0m-23 1h0m0 0h0m14 0h0m-19 0h0m15 2h0m-14 1h0m-5 1h0m20 0h0m-12 1h0m13 1h0m-9 1h0m-2 0h0m27 11h0m-41 1h0m2 19h0m-4 10h0m1 26h0m43 3h0m-42 2h0m-2 7h0m3 13h0m-2 3h0m45 13h0m-43 8h0m1 0h0m39 3h0m-42 3h0m45 2h0m-1 1h0m-45 10h0m0 8h0m44 14h0m-2 4h0m3 0h0m-44 11h0m0 10h0m42 30h0m2 2h0m-43 2h0m42 21h0m2 2h0m-4 3h0m-38 7h0m38 17h0m0 4h0m-41 2h0m41 10h0m-41 2h0m41 10h0m-22 6h0m-6 1h0m5 3h0m2 1h0m7 0h0m7 1h0m-2 1h0m-21 1h0m5 4h0m-9 0h0m16 0h0m15 0h0m-19 0h0m10 1h0m-11 0h0m3 1h0m-14 1h0m32 0h0m-8 3h0m-5 2h0m11 0h0m-14 0h0m-13 0h0m-5 1h0m26 0h0m-2 0h0m-15 1h0m8 0h0m11 2h0m0 2h0m-9 1h0m1 0h0m1 1h0m2 1h0m-16 1h0m21 0h0m-18 1h0m-4 0h0m2 1h0m18 3h0m-1 0h0m-22 3h0m17 0h0m-14 1h0m22 2h0m-6 1h0m-19 0h0m4 1h0m5 0h0m11 0h0m-13 2h0m12 4h0m2 0h0m-15 4h0m5 1h0m9 0h0m-10 3h0m5 3h0m-4 2h0m5 0h0m-12 1h0m0 8h0m5 3h0m19 5h0m-2 1h0m-24 2h0m16 3h0m7 1h0m-3 0h0m-5 0h0m8 4h0m-4 1h0m-9 3h0m5 4h0m0 5h0m-11 7h0m2 4h0m20 1h0m-26 4h0m2 2h0m0 3h0m20 6h0m-16 0h0m-1 3h0m-5 0h0m18 4h0m-14 2h0m17 9h0m1 1h0" stroke="#f2766e" stroke-width="9.2" stroke-linecap="round" stroke-opacity="0.38" fill="none"/><line x1="285.00" y1="384.00" x2="296.00" y2="384.00" stroke="#000" stroke-width="2"/><path d="M312.8 341.4L312.9 342.4L313.0 343.4L313.0 344.4L313.1 345.4L313.2 346.4L313.3 347.4L313.4 348.4L313.5 349.4L313.6 350.4L313.7 351.4L313.8 352.4L314.0 353.4L314.1 354.4L314.2 355.4L314.4 356.4L314.5 357.4L314.7 358.4L314.8 359.4L315.0 360.4L315.1 361.4L315.3 362.4L315.5 363.4L315.7 364.4L315.8 365.4L316.0 366.4L316.2 367.4L316.4 368.4L316.6 369.4L316.8 370.4L317.0 371.4L317.2 372.4L317.3 373.4L317.5 374.4L317.7 375.4L317.9 376.4L318.1 377.4L318.2 378.4L318.4 379.4L318.5 380.4L318.7 381.4L318.8 382.4L319.0 383.4L319.1 384.4L319.2 385.4L319.3 386.4L319.4 387.4L319.4 388.4L319.5 389.4L319.6 390.4L319.6 391.4L319.6 392.4L319.6 393.4L319.6 394.4L319.6 395.4L319.6 396.4L319.6 397.4L319.5 398.4L319.5 399.4L319.4 400.4L319.3 401.4L319.2 402.4L319.1 403.4L319.0 404.4L318.9 405.4L318.7 406.4L318.6 407.4L318.4 408.4L318.3 409.4L318.1 410.4L317.9 411.4L317.7 412.4L317.6 413.4L317.4 414.4L317.2 415.4L317.0 416.4L316.8 417.4L316.6 418.4L316.4 419.4L316.3 420.4L316.1 421.4L315.9 422.4L315.7 423.4L315.5 424.4L315.3 425.4L315.2 426.4L315.0 427.4L314.8 428.4L314.7 429.4L314.5 430.4L314.4 431.4L314.2 432.4L314.1 433.4L314.0 434.4L313.9 435.4L313.7 436.4L313.6 437.4L313.5 438.4L313.4 439.4L313.3 440.4L313.2 441.4L313.1 442.4L313.1 443.4L313.0 444.4L312.9 445.4L312.8 446.4L312.8 447.4L312.7 448.4L312.7 449.4L312.6 450.4L312.6 451.4L312.5 452.4L312.5 453.4L312.5 454.4L312.4 455.4L312.4 456.4L312.4 457.4L312.4 458.4L312.4 459.4L312.4 460.4L312.4 461.4L312.4 462.4L312.4 463.4L312.4 464.4L312.4 465.4L312.4 466.4L312.4 467.4L312.4 468.4L312.4 469.4L312.4 470.4L312.4 471.4L312.4 472.4L312.4 473.4L312.4 474.4L312.4 474.9L311.8 474.9L311.8 474.4L311.8 473.4L311.8 472.4L311.8 471.4L311.8 470.4L311.8 469.4L311.8 468.4L311.8 467.4L311.8 466.4L311.8 465.4L311.8 464.4L311.8 463.4L311.8 462.4L311.8 461.4L311.8 460.4L311.8 459.4L311.8 458.4L311.8 457.4L311.8 456.4L311.8 455.4L311.8 454.4L311.8 453.4L311.8 452.4L311.7 451.4L311.7 450.4L311.6 449.4L311.6 448.4L311.5 447.4L311.5 446.4L311.4 445.4L311.3 444.4L311.2 443.4L311.2 442.4L311.1 441.4L311.0 440.4L310.9 439.4L310.8 438.4L310.7 437.4L310.6 436.4L310.4 435.4L310.3 434.4L310.2 433.4L310.1 432.4L309.9 431.4L309.8 430.4L309.6 429.4L309.5 428.4L309.3 427.4L309.1 426.4L309.0 425.4L308.8 424.4L308.6 423.4L308.4 422.4L308.2 421.4L308.0 420.4L307.9 419.4L307.7 418.4L307.5 417.4L307.3 416.4L307.1 415.4L306.9 414.4L306.7 413.4L306.6 412.4L306.4 411.4L306.2 410.4L306.0 409.4L305.9 408.4L305.7 407.4L305.6 406.4L305.4 405.4L305.3 404.4L305.2 403.4L305.1 402.4L305.0 401.4L304.9 400.4L304.8 399.4L304.8 398.4L304.7 397.4L304.7 396.4L304.7 395.4L304.7 394.4L304.7 393.4L304.7 392.4L304.7 391.4L304.7 390.4L304.8 389.4L304.9 388.4L304.9 387.4L305.0 386.4L305.1 385.4L305.2 384.4L305.3 383.4L305.5 382.4L305.6 381.4L305.8 380.4L305.9 379.4L306.1 378.4L306.2 377.4L306.4 376.4L306.6 375.4L306.8 374.4L307.0 373.4L307.1 372.4L307.3 371.4L307.5 370.4L307.7 369.4L307.9 368.4L308.1 367.4L308.3 366.4L308.5 365.4L308.6 364.4L308.8 363.4L309.0 362.4L309.2 361.4L309.3 360.4L309.5 359.4L309.6 358.4L309.8 357.4L309.9 356.4L310.1 355.4L310.2 354.4L310.3 353.4L310.5 352.4L310.6 351.4L310.7 350.4L310.8 349.4L310.9 348.4L311.0 347.4L311.1 346.4L311.2 345.4L311.3 344.4L311.3 343.4L311.4 342.4L311.5 341.4Z" fill="#c8922a" fill-opacity="0.4" stroke="#c8922a" stroke-width="1.4" stroke-linejoin="round"/><path d="M314.6 345.0L315.7 346.7L316.2 348.4L316.5 350.1L316.8 351.9L317.1 353.6L317.3 355.3L317.5 357.0L317.5 424.7L317.3 428.7L317.1 432.7L316.8 436.7L316.5 440.7L316.2 444.7L315.7 448.7L314.6 452.7L309.7 452.7L308.6 448.7L308.1 444.7L307.8 440.7L307.5 436.7L307.2 432.7L307.0 428.7L306.8 424.7L306.8 357.0L307.0 355.3L307.2 353.6L307.5 351.9L307.8 350.1L308.1 348.4L308.6 346.7L309.7 345.0Z" fill="url(#gd1)"/><path transform="scale(.25)" d="M1242 1366h0m14 6h0m-21 1h0m2 1h0m21 1h0m-6 1h0m4 1h0m4 2h0m0 1h0m-11 0h0m11 6h0m-23 2h0m2 5h0m5 0h0m12 1h0m-20 0h0m8 1h0m8 0h0m4 3h0m-13 0h0m1 2h0m-1 1h0m-5 7h0m25 0h0m-5 2h0m4 1h0m-5 1h0m-24 2h0m16 0h0m-8 2h0m8 0h0m-5 1h0m-7 2h0m12 1h0m6 1h0m1 0h0m-1 1h0m-12 1h0m20 0h0m-25 1h0m25 0h0m-33 0h0m25 1h0m-15 0h0m21 0h0m-17 1h0m-6 1h0m19 1h0m-28 1h0m41 19h0m1 4h0m-42 10h0m-2 7h0m2 9h0m40 4h0m-1 14h0m3 19h0m-41 36h0m39 3h0m-43 24h0m1 2h0m44 1h0m-3 8h0m-1 14h0m-39 2h0m40 5h0m-39 2h0m-1 2h0m2 1h0m0 19h0m39 9h0m0 10h0m-1 6h0m3 2h0m-4 4h0m-40 10h0m41 5h0m-41 11h0m1 1h0m41 1h0m0 4h0m-35 3h0m20 0h0m-11 0h0m4 0h0m20 1h0m-21 1h0m-16 0h0m10 0h0m22 0h0m-32 3h0m0 0h0m2 1h0m3 1h0m10 0h0m-2 0h0m-9 0h0m22 0h0m-17 1h0m8 0h0m-12 0h0m4 0h0m8 1h0m5 0h0m-20 0h0m15 0h0m4 1h0m-17 0h0m5 1h0m16 0h0m-18 2h0m23 1h0m-25 1h0m29 1h0m-30 0h0m7 0h0m15 1h0m-4 1h0m-15 5h0m9 1h0m-8 1h0m6 0h0m8 1h0m1 1h0m12 0h0m-28 1h0m-5 1h0m6 1h0m24 0h0m-24 1h0m25 0h0m-19 0h0m-5 4h0m-2 1h0m2 0h0m26 0h0m-18 1h0m-13 0h0m31 0h0m-18 1h0m-7 1h0m24 2h0m-2 4h0m-26 0h0m1 1h0m-1 6h0m0 1h0m17 4h0m2 2h0m3 0h0m-13 1h0m3 4h0m5 3h0m-5 1h0m-8 1h0m0 2h0m-2 0h0m21 1h0m-8 2h0m-1 2h0m8 2h0m1 2h0m-9 4h0m2 4h0m-10 1h0m-1 4h0m12 6h0m1 3h0m-10 2h0m13 5h0m-1 4h0m-24 0h0m25 2h0m-25 1h0m21 0h0m4 1h0m3 2h0m-7 3h0m-13 0h0m8 0h0m-3 4h0m1 0h0m-4 3h0m23 2h0m-4 0h0m-25 3h0m21 2h0m-5 6h0m-13 6h0m10 1h0m4 4h0m6 1h0m-6 6h0m-14 4h0m3 1h0m-2 3h0m2 22h0m0 0h0m-2 1h0m2 5h0m-2 0h0m11 3h0" stroke="#c8922a" stroke-width="9.2" stroke-linecap="round" stroke-opacity="0.38" fill="none"/><line x1="306.65" y1="394.90" x2="317.65" y2="394.90" stroke="#000" stroke-width="2"/><path d="M334.1 378.0L334.1 379.0L334.1 380.0L334.1 381.0L334.1 382.0L334.1 383.0L334.1 384.0L334.1 385.0L334.1 386.0L334.1 387.0L334.1 388.0L334.1 389.0L334.1 390.0L334.1 391.0L334.1 392.0L334.1 393.0L334.1 394.0L334.1 395.0L334.1 396.0L334.1 397.0L334.1 398.0L334.1 399.0L334.1 400.0L334.1 401.0L334.1 402.0L334.1 403.0L334.1 404.0L334.1 405.0L334.1 406.0L334.1 407.0L334.1 408.0L334.1 409.0L334.1 410.0L334.1 411.0L334.1 412.0L334.1 413.0L334.1 414.0L334.1 415.0L334.1 416.0L334.1 417.0L334.2 418.0L334.2 419.0L334.3 420.0L334.3 421.0L334.4 422.0L334.4 423.0L334.5 424.0L334.6 425.0L334.7 426.0L334.8 427.0L334.9 428.0L335.0 429.0L335.2 430.0L335.3 431.0L335.5 432.0L335.6 433.0L335.8 434.0L336.0 435.0L336.2 436.0L336.4 437.0L336.6 438.0L336.8 439.0L337.1 440.0L337.3 441.0L337.6 442.0L337.8 443.0L338.1 444.0L338.4 445.0L338.7 446.0L339.0 447.0L339.3 448.0L339.6 449.0L339.9 450.0L340.2 451.0L340.5 452.0L340.8 453.0L341.1 454.0L341.4 455.0L341.7 456.0L342.0 457.0L342.3 458.0L342.5 459.0L342.8 460.0L343.0 461.0L343.2 462.0L343.4 463.0L343.6 464.0L343.8 465.0L343.9 466.0L344.0 467.0L344.1 468.0L344.1 469.0L344.2 470.0L344.2 471.0L344.1 472.0L343.9 473.0L343.6 474.0L343.1 475.0L342.5 476.0L341.9 477.0L341.2 478.0L340.5 479.0L339.7 480.0L339.0 481.0L338.3 482.0L337.6 483.0L337.0 484.0L336.5 485.0L336.0 486.0L335.6 487.0L335.2 488.0L335.1 488.2L332.5 488.2L332.4 488.0L332.0 487.0L331.6 486.0L331.1 485.0L330.6 484.0L330.0 483.0L329.3 482.0L328.6 481.0L327.9 480.0L327.1 479.0L326.4 478.0L325.7 477.0L325.1 476.0L324.5 475.0L324.0 474.0L323.7 473.0L323.5 472.0L323.4 471.0L323.4 470.0L323.5 469.0L323.5 468.0L323.6 467.0L323.7 466.0L323.8 465.0L324.0 464.0L324.2 463.0L324.4 462.0L324.6 461.0L324.8 460.0L325.1 459.0L325.3 458.0L325.6 457.0L325.9 456.0L326.2 455.0L326.5 454.0L326.8 453.0L327.1 452.0L327.4 451.0L327.7 450.0L328.0 449.0L328.3 448.0L328.6 447.0L328.9 446.0L329.2 445.0L329.5 444.0L329.8 443.0L330.0 442.0L330.3 441.0L330.5 440.0L330.8 439.0L331.0 438.0L331.2 437.0L331.4 436.0L331.6 435.0L331.8 434.0L332.0 433.0L332.1 432.0L332.3 431.0L332.4 430.0L332.6 429.0L332.7 428.0L332.8 427.0L332.9 426.0L333.0 425.0L333.1 424.0L333.2 423.0L333.2 422.0L333.3 421.0L333.3 420.0L333.4 419.0L333.4 418.0L333.5 417.0L333.5 416.0L333.5 415.0L333.5 414.0L333.5 413.0L333.5 412.0L333.5 411.0L333.5 410.0L333.5 409.0L333.5 408.0L333.5 407.0L333.5 406.0L333.5 405.0L333.5 404.0L333.5 403.0L333.5 402.0L333.5 401.0L333.5 400.0L333.5 399.0L333.5 398.0L333.5 397.0L333.5 396.0L333.5 395.0L333.5 394.0L333.5 393.0L333.5 392.0L333.5 391.0L333.5 390.0L333.5 389.0L333.5 388.0L333.5 387.0L333.5 386.0L333.5 385.0L333.5 384.0L333.5 383.0L333.5 382.0L333.5 381.0L333.5 380.0L333.5 379.0L333.5 378.0Z" fill="#7ab33f" fill-opacity="0.4" stroke="#7ab33f" stroke-width="1.4" stroke-linejoin="round"/><path d="M336.2 411.0L337.4 413.7L337.8 416.4L338.2 419.1L338.5 421.9L338.7 424.6L339.0 427.3L339.2 430.0L339.2 486.0L339.0 486.3L338.7 486.6L338.5 486.9L338.2 487.3L337.8 487.6L337.4 487.9L336.2 488.2L331.4 488.2L330.2 487.9L329.8 487.6L329.4 487.3L329.1 486.9L328.9 486.6L328.6 486.3L328.4 486.0L328.4 430.0L328.6 427.3L328.9 424.6L329.1 421.9L329.4 419.1L329.8 416.4L330.2 413.7L331.4 411.0Z" fill="url(#gd2)"/><path transform="scale(.25)" d="M1342 1528h0m-7 0h0m-5 0h0m8 10h0m-8 1h0m13 1h0m-11 3h0m2 4h0m3 5h0m-12 11h0m20 4h0m-22 0h0m11 5h0m12 6h0m-4 8h0m-3 1h0m-20 17h0m6 9h0m3 2h0m11 3h0m-1 4h0m5 2h0m-20 4h0m4 2h0m0 2h0m24 0h0m-30 6h0m14 1h0m-5 2h0m20 2h0m-16 0h0m2 1h0m0 4h0m-3 3h0m-6 6h0m3 2h0m-6 0h0m11 0h0m3 3h0m2 5h0m6 4h0m-16 2h0m-4 3h0m-4 1h0m13 1h0m7 1h0m-9 0h0m-2 2h0m3 1h0m-12 0h0m15 1h0m-1 1h0m-16 0h0m19 1h0m-8 0h0m9 0h0m-11 1h0m17 0h0m-2 2h0m-2 1h0m0 1h0m-15 1h0m20 3h0m-19 2h0m21 2h0m-15 1h0m-5 3h0m-11 0h0m16 0h0m-10 0h0m28 2h0m-4 1h0m-11 0h0m-1 0h0m-3 0h0m12 2h0m-26 0h0m7 1h0m21 2h0m-15 1h0m6 0h0m-18 0h0m16 0h0m-1 2h0m1 2h0m1 1h0m-17 0h0m21 1h0m4 0h0m9 1h0m-24 0h0m9 2h0m18 24h0m-2 1h0m2 3h0m-2 14h0m-39 14h0m-2 26h0m0 1h0m44 5h0m-46 4h0m2 0h0m40 10h0m2 21h0m2 2h0m-43 13h0m0 6h0m43 17h0m-44 5h0m0 1h0m40 2h0m4 4h0m-1 10h0m0 6h0m-1 0h0m-2 3h0m2 1h0m-41 11h0m-2 0h0m44 19h0m-40 1h0m31 2h0m-5 0h0m4 1h0m4 0h0m-24 0h0m7 1h0" stroke="#7ab33f" stroke-width="9.2" stroke-linecap="round" stroke-opacity="0.38" fill="none"/><line x1="328.30" y1="462.40" x2="339.30" y2="462.40" stroke="#000" stroke-width="2"/><path d="M355.8 401.0L355.8 402.0L355.8 403.0L355.9 404.0L355.9 405.0L356.0 406.0L356.1 407.0L356.2 408.0L356.3 409.0L356.4 410.0L356.5 411.0L356.6 412.0L356.8 413.0L356.9 414.0L357.1 415.0L357.3 416.0L357.5 417.0L357.7 418.0L358.0 419.0L358.2 420.0L358.5 421.0L358.7 422.0L359.0 423.0L359.3 424.0L359.6 425.0L359.9 426.0L360.3 427.0L360.6 428.0L360.9 429.0L361.3 430.0L361.6 431.0L361.9 432.0L362.2 433.0L362.6 434.0L362.9 435.0L363.2 436.0L363.4 437.0L363.7 438.0L363.9 439.0L364.1 440.0L364.3 441.0L364.5 442.0L364.6 443.0L364.7 444.0L364.8 445.0L364.8 446.0L364.8 447.0L364.8 448.0L364.8 449.0L364.7 450.0L364.6 451.0L364.4 452.0L364.3 453.0L364.1 454.0L363.8 455.0L363.6 456.0L363.3 457.0L363.0 458.0L362.7 459.0L362.4 460.0L362.1 461.0L361.8 462.0L361.5 463.0L361.1 464.0L360.8 465.0L360.5 466.0L360.1 467.0L359.8 468.0L359.5 469.0L359.2 470.0L358.9 471.0L358.6 472.0L358.4 473.0L358.1 474.0L357.9 475.0L357.6 476.0L357.4 477.0L357.2 478.0L357.1 479.0L356.9 480.0L356.7 481.0L356.6 482.0L356.5 483.0L356.3 484.0L356.2 485.0L356.1 486.0L356.0 487.0L356.0 488.0L355.9 489.0L355.9 489.3L355.0 489.3L355.0 489.0L354.9 488.0L354.9 487.0L354.8 486.0L354.7 485.0L354.6 484.0L354.4 483.0L354.3 482.0L354.2 481.0L354.0 480.0L353.8 479.0L353.7 478.0L353.5 477.0L353.3 476.0L353.0 475.0L352.8 474.0L352.5 473.0L352.3 472.0L352.0 471.0L351.7 470.0L351.4 469.0L351.1 468.0L350.8 467.0L350.4 466.0L350.1 465.0L349.8 464.0L349.4 463.0L349.1 462.0L348.8 461.0L348.5 460.0L348.2 459.0L347.9 458.0L347.6 457.0L347.3 456.0L347.1 455.0L346.8 454.0L346.6 453.0L346.5 452.0L346.3 451.0L346.2 450.0L346.1 449.0L346.1 448.0L346.1 447.0L346.1 446.0L346.1 445.0L346.2 444.0L346.3 443.0L346.4 442.0L346.6 441.0L346.8 440.0L347.0 439.0L347.2 438.0L347.5 437.0L347.7 436.0L348.0 435.0L348.3 434.0L348.7 433.0L349.0 432.0L349.3 431.0L349.6 430.0L350.0 429.0L350.3 428.0L350.6 427.0L351.0 426.0L351.3 425.0L351.6 424.0L351.9 423.0L352.2 422.0L352.4 421.0L352.7 420.0L352.9 419.0L353.2 418.0L353.4 417.0L353.6 416.0L353.8 415.0L354.0 414.0L354.1 413.0L354.3 412.0L354.4 411.0L354.5 410.0L354.6 409.0L354.7 408.0L354.8 407.0L354.9 406.0L355.0 405.0L355.0 404.0L355.1 403.0L355.1 402.0L355.1 401.0Z" fill="#3bb878" fill-opacity="0.4" stroke="#3bb878" stroke-width="1.4" stroke-linejoin="round"/><path d="M357.9 405.0L359.0 406.6L359.5 408.1L359.8 409.7L360.1 411.2L360.4 412.8L360.6 414.3L360.8 415.9L360.8 484.7L360.6 485.3L360.4 485.9L360.1 486.5L359.8 487.2L359.5 487.8L359.0 488.4L357.9 489.0L353.0 489.0L351.9 488.4L351.4 487.8L351.1 487.2L350.8 486.5L350.5 485.9L350.3 485.3L350.1 484.7L350.1 415.9L350.3 414.3L350.5 412.8L350.8 411.2L351.1 409.7L351.4 408.1L351.9 406.6L353.0 405.0Z" fill="url(#gd3)"/><path transform="scale(.25)" d="M1420 1604h0m4 2h0m7 0h0m-17 3h0m11 4h0m-2 2h0m1 1h0m-8 0h0m6 2h0m-5 1h0m13 0h0m4 0h0m-4 0h0m2 5h0m1 3h0m-13 2h0m12 1h0m-3 4h0m-4 1h0m-16 2h0m1 0h0m0 4h0m26 2h0m-25 1h0m4 2h0m9 1h0m-5 2h0m10 0h0m5 0h0m-8 0h0m6 1h0m-2 2h0m8 2h0m-28 1h0m-2 0h0m20 2h0m4 1h0m6 0h0m-29 1h0m5 1h0m-6 0h0m29 0h0m-32 1h0m26 2h0m-1 0h0m8 0h0m-9 0h0m-27 2h0m-3 0h0m4 2h0m-4 12h0m3 6h0m-3 15h0m46 13h0m-45 1h0m40 35h0m3 17h0m-40 13h0m0 4h0m-3 2h0m3 8h0m-3 3h0m43 1h0m-41 4h0m42 19h0m-45 0h0m45 14h0m-44 29h0m42 13h0m1 1h0m-41 7h0m-2 2h0m3 6h0m-3 1h0m45 2h0m-4 8h0m-40 14h0m0 1h0m41 5h0m-43 1h0m45 11h0m-37 4h0m25 1h0m-7 1h0m-5 0h0m16 2h0m-13 0h0m-1 2h0m-16 1h0m11 0h0m-2 1h0m11 4h0m-6 0h0m-3 3h0" stroke="#3bb878" stroke-width="9.2" stroke-linecap="round" stroke-opacity="0.38" fill="none"/><line x1="349.95" y1="446.80" x2="360.95" y2="446.80" stroke="#000" stroke-width="2"/><path d="M377.5 324.4L377.6 325.4L377.6 326.4L377.7 327.4L377.8 328.4L377.8 329.4L377.9 330.4L378.0 331.4L378.1 332.4L378.1 333.4L378.2 334.4L378.3 335.4L378.4 336.4L378.6 337.4L378.7 338.4L378.8 339.4L378.9 340.4L379.1 341.4L379.2 342.4L379.4 343.4L379.6 344.4L379.7 345.4L379.9 346.4L380.1 347.4L380.3 348.4L380.5 349.4L380.6 350.4L380.8 351.4L381.0 352.4L381.3 353.4L381.5 354.4L381.7 355.4L381.9 356.4L382.1 357.4L382.3 358.4L382.5 359.4L382.7 360.4L382.9 361.4L383.1 362.4L383.3 363.4L383.5 364.4L383.6 365.4L383.8 366.4L384.0 367.4L384.1 368.4L384.3 369.4L384.4 370.4L384.5 371.4L384.6 372.4L384.7 373.4L384.8 374.4L384.8 375.4L384.9 376.4L384.9 377.4L384.9 378.4L384.9 379.4L384.9 380.4L384.8 381.4L384.8 382.4L384.7 383.4L384.7 384.4L384.6 385.4L384.5 386.4L384.4 387.4L384.2 388.4L384.1 389.4L383.9 390.4L383.8 391.4L383.6 392.4L383.4 393.4L383.3 394.4L383.1 395.4L382.9 396.4L382.7 397.4L382.5 398.4L382.3 399.4L382.0 400.4L381.8 401.4L381.6 402.4L381.4 403.4L381.2 404.4L381.0 405.4L380.8 406.4L380.6 407.4L380.4 408.4L380.2 409.4L380.0 410.4L379.9 411.4L379.7 412.4L379.5 413.4L379.4 414.4L379.2 415.4L379.1 416.4L378.9 417.4L378.8 418.4L378.7 419.4L378.5 420.4L378.4 421.4L378.3 422.4L378.2 423.4L378.1 424.4L378.0 425.4L378.0 426.4L377.9 427.4L377.8 428.4L377.7 429.4L377.7 430.4L377.6 431.4L377.6 432.4L377.5 433.4L377.5 434.4L377.4 435.4L377.4 436.4L377.4 437.4L377.4 438.4L377.4 439.4L377.4 440.4L377.4 441.4L377.4 442.4L377.4 443.4L377.4 444.4L377.4 445.4L377.4 446.4L377.4 447.4L377.4 448.4L377.4 449.4L377.4 450.4L377.4 451.4L377.4 452.4L377.4 453.4L377.4 454.4L377.4 455.4L377.4 456.4L377.4 457.4L377.4 458.4L377.4 459.4L377.4 460.4L377.4 461.4L377.4 462.4L377.4 463.4L377.4 464.4L377.4 465.4L377.4 466.4L377.4 467.4L377.4 468.4L377.4 469.4L377.4 470.4L377.4 471.4L377.4 472.4L377.4 473.0L376.8 473.0L376.8 472.4L376.8 471.4L376.8 470.4L376.8 469.4L376.8 468.4L376.8 467.4L376.8 466.4L376.8 465.4L376.8 464.4L376.8 463.4L376.8 462.4L376.8 461.4L376.8 460.4L376.8 459.4L376.8 458.4L376.8 457.4L376.8 456.4L376.8 455.4L376.8 454.4L376.8 453.4L376.8 452.4L376.8 451.4L376.8 450.4L376.8 449.4L376.8 448.4L376.8 447.4L376.8 446.4L376.8 445.4L376.8 444.4L376.8 443.4L376.8 442.4L376.8 441.4L376.8 440.4L376.8 439.4L376.8 438.4L376.8 437.4L376.8 436.4L376.8 435.4L376.7 434.4L376.7 433.4L376.6 432.4L376.6 431.4L376.5 430.4L376.5 429.4L376.4 428.4L376.3 427.4L376.2 426.4L376.2 425.4L376.1 424.4L376.0 423.4L375.9 422.4L375.8 421.4L375.7 420.4L375.5 419.4L375.4 418.4L375.3 417.4L375.1 416.4L375.0 415.4L374.8 414.4L374.7 413.4L374.5 412.4L374.3 411.4L374.2 410.4L374.0 409.4L373.8 408.4L373.6 407.4L373.4 406.4L373.2 405.4L373.0 404.4L372.8 403.4L372.6 402.4L372.4 401.4L372.2 400.4L371.9 399.4L371.7 398.4L371.5 397.4L371.3 396.4L371.1 395.4L370.9 394.4L370.8 393.4L370.6 392.4L370.4 391.4L370.3 390.4L370.1 389.4L370.0 388.4L369.8 387.4L369.7 386.4L369.6 385.4L369.5 384.4L369.5 383.4L369.4 382.4L369.4 381.4L369.3 380.4L369.3 379.4L369.3 378.4L369.3 377.4L369.3 376.4L369.4 375.4L369.4 374.4L369.5 373.4L369.6 372.4L369.7 371.4L369.8 370.4L369.9 369.4L370.1 368.4L370.2 367.4L370.4 366.4L370.6 365.4L370.7 364.4L370.9 363.4L371.1 362.4L371.3 361.4L371.5 360.4L371.7 359.4L371.9 358.4L372.1 357.4L372.3 356.4L372.5 355.4L372.7 354.4L372.9 353.4L373.2 352.4L373.4 351.4L373.6 350.4L373.7 349.4L373.9 348.4L374.1 347.4L374.3 346.4L374.5 345.4L374.6 344.4L374.8 343.4L375.0 342.4L375.1 341.4L375.3 340.4L375.4 339.4L375.5 338.4L375.6 337.4L375.8 336.4L375.9 335.4L376.0 334.4L376.1 333.4L376.1 332.4L376.2 331.4L376.3 330.4L376.4 329.4L376.4 328.4L376.5 327.4L376.6 326.4L376.6 325.4L376.7 324.4Z" fill="#22bdc0" fill-opacity="0.4" stroke="#22bdc0" stroke-width="1.4" stroke-linejoin="round"/><path d="M379.5 328.0L380.7 329.7L381.1 331.4L381.5 333.1L381.8 334.9L382.0 336.6L382.3 338.3L382.5 340.0L382.5 417.0L382.3 419.6L382.0 422.1L381.8 424.7L381.5 427.3L381.1 429.9L380.7 432.4L379.5 435.0L374.7 435.0L373.5 432.4L373.1 429.9L372.7 427.3L372.4 424.7L372.2 422.1L371.9 419.6L371.7 417.0L371.7 340.0L371.9 338.3L372.2 336.6L372.4 334.9L372.7 333.1L373.1 331.4L373.5 329.7L374.7 328.0Z" fill="url(#gd4)"/><path transform="scale(.25)" d="M1515 1304h0m-15 1h0m-5 4h0m15 3h0m16 0h0m-23 0h0m11 0h0m-11 9h0m15 3h0m-5 0h0m8 2h0m-24 0h0m22 1h0m-20 6h0m-1 1h0m13 0h0m-6 2h0m-2 2h0m15 1h0m-3 0h0m-16 1h0m6 0h0m-9 1h0m0 0h0m-2 4h0m29 0h0m2 1h0m-27 1h0m13 1h0m14 1h0m-1 0h0m-11 1h0m-8 0h0m18 0h0m1 0h0m-25 0h0m5 0h0m18 1h0m-5 3h0m-6 1h0m2 0h0m7 1h0m-5 0h0m-24 1h0m22 2h0m-27 3h0m42 3h0m3 6h0m-44 2h0m0 10h0m41 2h0m-38 18h0m0 8h0m-4 2h0m2 5h0m39 28h0m-40 4h0m2 15h0m1 6h0m40 15h0m-2 3h0m1 1h0m-2 12h0m-39 2h0m-1 7h0m2 1h0m-1 6h0m2 3h0m41 6h0m-41 3h0m0 10h0m-1 4h0m-3 2h0m41 16h0m-39 8h0m-1 16h0m2 4h0m39 4h0m0 9h0m2 21h0m0 7h0m-42 13h0m-2 2h0m13 24h0m-2 0h0m15 2h0m-19 0h0m11 1h0m0 0h0m-2 1h0m17 0h0m-15 1h0m-7 1h0m-3 1h0m4 2h0m6 2h0m-4 1h0m16 1h0m-15 1h0m13 0h0m1 2h0m-1 1h0m-12 2h0m18 0h0m-9 0h0m-19 2h0m10 0h0m-2 0h0m6 0h0m-7 2h0m25 0h0m-30 1h0m6 0h0m-7 2h0m20 0h0m-7 0h0m12 1h0m-25 1h0m4 0h0m3 2h0m9 0h0m-5 0h0m0 0h0m19 2h0m-14 1h0m-3 1h0m8 1h0m-10 2h0m11 2h0m3 0h0m-23 3h0m12 2h0m8 0h0m-7 1h0m-11 2h0m19 2h0m-11 3h0m13 0h0m-3 2h0m-5 12h0m-19 5h0m24 1h0m-8 0h0m-5 1h0m-3 10h0m25 7h0m-13 5h0m-8 1h0m-8 2h0m20 3h0m2 5h0m1 0h0m-11 2h0m-15 8h0m30 12h0m-9 1h0m3 9h0m-18 3h0m11 7h0m6 1h0m-7 1h0m-3 10h0m12 2h0m-18 2h0m22 5h0m-8 2h0m-15 7h0m10 7h0m-1 3h0m8 3h0m-15 13h0m14 0h0" stroke="#22bdc0" stroke-width="9.2" stroke-linecap="round" stroke-opacity="0.38" fill="none"/><line x1="371.60" y1="378.50" x2="382.60" y2="378.50" stroke="#000" stroke-width="2"/><path d="M399.1 338.2L399.1 339.2L399.2 340.2L399.3 341.2L399.3 342.2L399.4 343.2L399.5 344.2L399.6 345.2L399.7 346.2L399.8 347.2L399.9 348.2L400.1 349.2L400.2 350.2L400.4 351.2L400.5 352.2L400.7 353.2L400.9 354.2L401.1 355.2L401.3 356.2L401.5 357.2L401.8 358.2L402.0 359.2L402.3 360.2L402.5 361.2L402.8 362.2L403.0 363.2L403.3 364.2L403.6 365.2L403.8 366.2L404.1 367.2L404.4 368.2L404.6 369.2L404.9 370.2L405.1 371.2L405.4 372.2L405.6 373.2L405.8 374.2L406.0 375.2L406.2 376.2L406.3 377.2L406.4 378.2L406.6 379.2L406.6 380.2L406.7 381.2L406.7 382.2L406.8 383.2L406.7 384.2L406.7 385.2L406.6 386.2L406.6 387.2L406.4 388.2L406.3 389.2L406.2 390.2L406.0 391.2L405.8 392.2L405.6 393.2L405.4 394.2L405.1 395.2L404.9 396.2L404.6 397.2L404.4 398.2L404.1 399.2L403.8 400.2L403.6 401.2L403.3 402.2L403.0 403.2L402.8 404.2L402.5 405.2L402.3 406.2L402.0 407.2L401.8 408.2L401.5 409.2L401.3 410.2L401.1 411.2L400.9 412.2L400.7 413.2L400.5 414.2L400.4 415.2L400.2 416.2L400.1 417.2L399.9 418.2L399.8 419.2L399.7 420.2L399.6 421.2L399.5 422.2L399.4 423.2L399.3 424.2L399.3 425.2L399.2 426.2L399.1 427.2L399.1 428.2L399.1 429.2L399.1 430.2L399.1 431.2L399.1 432.2L399.1 433.2L399.1 434.2L399.1 435.2L399.1 436.2L399.1 437.2L399.1 438.2L399.1 439.2L399.1 440.2L399.1 441.2L399.1 442.2L399.1 443.2L399.1 444.2L399.1 445.2L399.1 446.2L399.1 447.2L399.1 448.2L399.1 449.2L399.1 450.2L399.1 451.2L399.1 452.2L399.1 453.2L399.1 454.2L399.1 455.2L399.1 456.2L399.1 457.2L399.1 458.2L399.1 459.2L399.1 460.2L399.1 461.2L399.1 462.2L399.1 463.2L399.1 464.2L399.1 465.2L399.1 465.6L398.4 465.6L398.4 465.2L398.4 464.2L398.4 463.2L398.4 462.2L398.4 461.2L398.4 460.2L398.4 459.2L398.4 458.2L398.4 457.2L398.4 456.2L398.4 455.2L398.4 454.2L398.4 453.2L398.4 452.2L398.4 451.2L398.4 450.2L398.4 449.2L398.4 448.2L398.4 447.2L398.4 446.2L398.4 445.2L398.4 444.2L398.4 443.2L398.4 442.2L398.4 441.2L398.4 440.2L398.4 439.2L398.4 438.2L398.4 437.2L398.4 436.2L398.4 435.2L398.4 434.2L398.4 433.2L398.4 432.2L398.4 431.2L398.4 430.2L398.4 429.2L398.4 428.2L398.4 427.2L398.3 426.2L398.2 425.2L398.2 424.2L398.1 423.2L398.0 422.2L397.9 421.2L397.8 420.2L397.7 419.2L397.6 418.2L397.4 417.2L397.3 416.2L397.1 415.2L397.0 414.2L396.8 413.2L396.6 412.2L396.4 411.2L396.2 410.2L396.0 409.2L395.7 408.2L395.5 407.2L395.2 406.2L395.0 405.2L394.7 404.2L394.5 403.2L394.2 402.2L393.9 401.2L393.7 400.2L393.4 399.2L393.1 398.2L392.9 397.2L392.6 396.2L392.4 395.2L392.1 394.2L391.9 393.2L391.7 392.2L391.5 391.2L391.3 390.2L391.2 389.2L391.1 388.2L390.9 387.2L390.9 386.2L390.8 385.2L390.8 384.2L390.8 383.2L390.8 382.2L390.8 381.2L390.9 380.2L390.9 379.2L391.1 378.2L391.2 377.2L391.3 376.2L391.5 375.2L391.7 374.2L391.9 373.2L392.1 372.2L392.4 371.2L392.6 370.2L392.9 369.2L393.1 368.2L393.4 367.2L393.7 366.2L393.9 365.2L394.2 364.2L394.5 363.2L394.7 362.2L395.0 361.2L395.2 360.2L395.5 359.2L395.7 358.2L396.0 357.2L396.2 356.2L396.4 355.2L396.6 354.2L396.8 353.2L397.0 352.2L397.1 351.2L397.3 350.2L397.4 349.2L397.6 348.2L397.7 347.2L397.8 346.2L397.9 345.2L398.0 344.2L398.1 343.2L398.2 342.2L398.2 341.2L398.3 340.2L398.4 339.2L398.4 338.2Z" fill="#3c9edb" fill-opacity="0.4" stroke="#3c9edb" stroke-width="1.4" stroke-linejoin="round"/><path d="M401.2 341.0L402.3 341.6L402.8 342.1L403.1 342.7L403.4 343.3L403.7 343.9L403.9 344.4L404.1 345.0L404.1 414.0L403.9 416.3L403.7 418.6L403.4 420.9L403.1 423.1L402.8 425.4L402.3 427.7L401.2 430.0L396.3 430.0L395.2 427.7L394.7 425.4L394.4 423.1L394.1 420.9L393.8 418.6L393.6 416.3L393.4 414.0L393.4 345.0L393.6 344.4L393.8 343.9L394.1 343.3L394.4 342.7L394.7 342.1L395.2 341.6L396.3 341.0Z" fill="url(#gd5)"/><path transform="scale(.25)" d="M1596 1356h0m11 1h0m-15 1h0m-4 1h0m-3 0h0m-3 3h0m13 0h0m5 0h0m4 0h0m-22 2h0m5 5h0m13 1h0m-12 4h0m21 1h0m-12 0h0m10 1h0m1 0h0m-6 0h0m-24 1h0m14 2h0m8 1h0m0 0h0m16 26h0m-41 5h0m-3 1h0m46 18h0m0 3h0m-42 4h0m40 7h0m1 14h0m-1 1h0m-40 3h0m39 6h0m-1 8h0m0 9h0m2 5h0m-41 11h0m-1 1h0m42 1h0m0 7h0m0 5h0m-41 15h0m-2 14h0m41 1h0m-38 1h0m38 11h0m1 0h0m-39 15h0m40 11h0m-44 4h0m3 2h0m-1 15h0m43 6h0m-3 2h0m-39 14h0m0 20h0m29 11h0m-28 0h0m14 1h0m-12 0h0m5 1h0m17 1h0m-6 0h0m-4 0h0m21 2h0m-23 0h0m16 1h0m7 1h0m-31 1h0m30 0h0m-27 0h0m6 1h0m-1 0h0m3 0h0m-8 2h0m12 0h0m-12 0h0m9 1h0m6 1h0m3 1h0m-12 0h0m20 0h0m-12 3h0m3 0h0m10 3h0m-19 1h0m12 0h0m6 1h0m-13 2h0m0 1h0m12 3h0m-17 0h0m-10 0h0m22 0h0m-11 1h0m-2 3h0m14 1h0m-10 5h0m3 3h0m-6 1h0m14 5h0m-19 2h0m18 0h0m-16 1h0m-4 2h0m20 3h0m-4 1h0m12 8h0m-16 1h0m-9 2h0m8 1h0m-19 3h0m27 4h0m4 1h0m-10 1h0m-19 9h0m6 2h0m9 0h0m-14 3h0m3 1h0m-2 7h0m28 3h0m3 0h0m-28 5h0m-1 3h0m11 1h0m11 16h0m0 11h0m-5 2h0m-13 1h0m5 5h0m-6 4h0m11 24h0m-8 7h0m-2 8h0m-1 6h0m11 2h0m-9 0h0m6 7h0" stroke="#3c9edb" stroke-width="9.2" stroke-linecap="round" stroke-opacity="0.38" fill="none"/><line x1="393.25" y1="384.80" x2="404.25" y2="384.80" stroke="#000" stroke-width="2"/><path d="M421.5 370.7L421.6 371.7L421.6 372.7L421.7 373.7L421.8 374.7L421.9 375.7L422.0 376.7L422.1 377.7L422.2 378.7L422.3 379.7L422.4 380.7L422.5 381.7L422.6 382.7L422.7 383.7L422.8 384.7L422.9 385.7L423.0 386.7L423.2 387.7L423.3 388.7L423.4 389.7L423.5 390.7L423.7 391.7L423.8 392.7L423.9 393.7L424.0 394.7L424.2 395.7L424.3 396.7L424.4 397.7L424.5 398.7L424.7 399.7L424.8 400.7L424.9 401.7L425.0 402.7L425.2 403.7L425.3 404.7L425.4 405.7L425.5 406.7L425.6 407.7L425.7 408.7L425.8 409.7L425.9 410.7L425.9 411.7L426.0 412.7L426.1 413.7L426.1 414.7L426.2 415.7L426.3 416.7L426.3 417.7L426.3 418.7L426.4 419.7L426.4 420.7L426.4 421.7L426.4 422.7L426.4 423.7L426.4 424.7L426.4 425.7L426.3 426.7L426.3 427.7L426.3 428.7L426.2 429.7L426.2 430.7L426.1 431.7L426.1 432.7L426.0 433.7L425.9 434.7L425.8 435.7L425.7 436.7L425.6 437.7L425.5 438.7L425.4 439.7L425.3 440.7L425.2 441.7L425.1 442.7L425.0 443.7L424.9 444.7L424.7 445.7L424.6 446.7L424.5 447.7L424.4 448.7L424.2 449.7L424.1 450.7L424.0 451.7L423.9 452.7L423.7 453.7L423.6 454.7L423.5 455.7L423.4 456.7L423.2 457.7L423.1 458.7L423.0 459.7L422.9 460.7L422.8 461.7L422.6 462.7L422.5 463.7L422.4 464.7L422.3 465.7L422.2 466.7L422.1 467.7L422.0 468.7L421.9 469.7L421.8 470.7L421.8 471.7L421.7 472.7L421.6 473.7L421.5 474.7L421.5 475.7L421.4 476.7L421.3 477.7L421.3 478.7L421.2 479.7L421.1 480.7L421.1 481.7L421.0 482.7L421.0 483.6L419.8 483.6L419.8 482.7L419.7 481.7L419.7 480.7L419.6 479.7L419.5 478.7L419.5 477.7L419.4 476.7L419.3 475.7L419.3 474.7L419.2 473.7L419.1 472.7L419.0 471.7L419.0 470.7L418.9 469.7L418.8 468.7L418.7 467.7L418.6 466.7L418.5 465.7L418.4 464.7L418.3 463.7L418.2 462.7L418.0 461.7L417.9 460.7L417.8 459.7L417.7 458.7L417.6 457.7L417.4 456.7L417.3 455.7L417.2 454.7L417.1 453.7L416.9 452.7L416.8 451.7L416.7 450.7L416.6 449.7L416.4 448.7L416.3 447.7L416.2 446.7L416.1 445.7L415.9 444.7L415.8 443.7L415.7 442.7L415.6 441.7L415.5 440.7L415.4 439.7L415.3 438.7L415.2 437.7L415.1 436.7L415.0 435.7L414.9 434.7L414.8 433.7L414.7 432.7L414.7 431.7L414.6 430.7L414.6 429.7L414.5 428.7L414.5 427.7L414.5 426.7L414.4 425.7L414.4 424.7L414.4 423.7L414.4 422.7L414.4 421.7L414.4 420.7L414.4 419.7L414.5 418.7L414.5 417.7L414.5 416.7L414.6 415.7L414.7 414.7L414.7 413.7L414.8 412.7L414.9 411.7L414.9 410.7L415.0 409.7L415.1 408.7L415.2 407.7L415.3 406.7L415.4 405.7L415.5 404.7L415.6 403.7L415.8 402.7L415.9 401.7L416.0 400.7L416.1 399.7L416.3 398.7L416.4 397.7L416.5 396.7L416.6 395.7L416.8 394.7L416.9 393.7L417.0 392.7L417.1 391.7L417.3 390.7L417.4 389.7L417.5 388.7L417.6 387.7L417.8 386.7L417.9 385.7L418.0 384.7L418.1 383.7L418.2 382.7L418.3 381.7L418.4 380.7L418.5 379.7L418.6 378.7L418.7 377.7L418.8 376.7L418.9 375.7L419.0 374.7L419.1 373.7L419.2 372.7L419.2 371.7L419.3 370.7Z" fill="#977cc6" fill-opacity="0.4" stroke="#977cc6" stroke-width="1.4" stroke-linejoin="round"/><path d="M422.8 373.0L424.0 373.9L424.4 374.7L424.8 375.6L425.1 376.4L425.3 377.3L425.6 378.1L425.8 379.0L425.8 452.7L425.6 454.5L425.3 456.2L425.1 458.0L424.8 459.7L424.4 461.5L424.0 463.2L422.8 465.0L418.0 465.0L416.8 463.2L416.4 461.5L416.0 459.7L415.7 458.0L415.5 456.2L415.2 454.5L415.0 452.7L415.0 379.0L415.2 378.1L415.5 377.3L415.7 376.4L416.0 375.6L416.4 374.7L416.8 373.9L418.0 373.0Z" fill="url(#gd6)"/><path transform="scale(.25)" d="M1676 1483h0m10 4h0m-9 1h0m-1 0h0m15 1h0m-20 3h0m1 4h0m17 4h0m5 0h0m-16 0h0m16 0h0m-14 0h0m-6 0h0m8 2h0m4 0h0m-17 3h0m13 1h0m8 2h0m-4 0h0m6 1h0m-6 2h0m-23 3h0m19 1h0m13 0h0m2 0h0m7 36h0m-4 6h0m-41 0h0m2 3h0m42 14h0m-1 8h0m-41 8h0m43 3h0m-43 7h0m41 25h0m-43 3h0m2 7h0m41 8h0m-2 3h0m-38 37h0m42 23h0m-42 1h0m42 6h0m-1 7h0m-42 9h0m-1 5h0m0 1h0m44 4h0m0 2h0m0 8h0m-42 2h0m40 4h0m1 0h0m-44 5h0m42 11h0m1 1h0m-43 6h0m44 10h0m-44 5h0m42 6h0m-38 6h0m17 7h0m11 0h0m-4 0h0m5 4h0m-3 2h0m-25 0h0m14 1h0m-4 0h0m2 1h0m-12 0h0m25 1h0m2 0h0m-1 0h0m5 2h0m-20 0h0m12 0h0m-19 1h0m7 0h0m20 1h0m-24 2h0m-1 0h0m7 1h0m-11 1h0m31 2h0m0 0h0m-16 1h0m1 0h0m-10 1h0m7 2h0m9 1h0m-13 4h0m14 0h0m6 1h0m-13 6h0m-9 1h0m-2 2h0m6 3h0m-2 2h0m17 2h0m-8 3h0m-10 1h0m10 0h0m1 1h0m-18 1h0m18 0h0m-5 1h0m-6 5h0m4 0h0m8 2h0m11 9h0m-7 3h0m4 2h0m-18 2h0m-5 0h0m25 2h0m-13 0h0m1 4h0m5 1h0m-10 8h0m-6 5h0m9 8h0m11 1h0m0 3h0m-7 1h0m5 4h0" stroke="#977cc6" stroke-width="9.2" stroke-linecap="round" stroke-opacity="0.38" fill="none"/><line x1="414.90" y1="423.40" x2="425.90" y2="423.40" stroke="#000" stroke-width="2"/><path d="M442.4 369.5L442.5 370.5L442.5 371.5L442.6 372.5L442.6 373.5L442.7 374.5L442.8 375.5L442.9 376.5L443.0 377.5L443.1 378.5L443.2 379.5L443.3 380.5L443.4 381.5L443.5 382.5L443.7 383.5L443.8 384.5L444.0 385.5L444.1 386.5L444.3 387.5L444.5 388.5L444.7 389.5L444.9 390.5L445.1 391.5L445.3 392.5L445.6 393.5L445.8 394.5L446.0 395.5L446.3 396.5L446.5 397.5L446.8 398.5L447.0 399.5L447.3 400.5L447.5 401.5L447.8 402.5L448.0 403.5L448.3 404.5L448.5 405.5L448.7 406.5L449.0 407.5L449.2 408.5L449.4 409.5L449.6 410.5L449.7 411.5L449.9 412.5L450.0 413.5L450.2 414.5L450.3 415.5L450.4 416.5L450.5 417.5L450.5 418.5L450.5 419.5L450.5 420.5L450.5 421.5L450.5 422.5L450.5 423.5L450.4 424.5L450.3 425.5L450.2 426.5L450.1 427.5L449.9 428.5L449.8 429.5L449.6 430.5L449.4 431.5L449.2 432.5L449.0 433.5L448.8 434.5L448.6 435.5L448.3 436.5L448.1 437.5L447.8 438.5L447.6 439.5L447.3 440.5L447.1 441.5L446.8 442.5L446.6 443.5L446.3 444.5L446.1 445.5L445.8 446.5L445.6 447.5L445.4 448.5L445.2 449.5L444.9 450.5L444.7 451.5L444.5 452.5L444.4 453.5L444.2 454.5L444.0 455.5L443.8 456.5L443.7 457.5L443.6 458.5L443.4 459.5L443.3 460.5L443.2 461.5L443.1 462.5L443.0 463.5L442.9 464.5L442.8 465.5L442.7 466.5L442.6 467.5L442.6 468.5L442.5 469.3L441.6 469.3L441.5 468.5L441.5 467.5L441.4 466.5L441.3 465.5L441.2 464.5L441.1 463.5L441.0 462.5L440.9 461.5L440.8 460.5L440.7 459.5L440.5 458.5L440.4 457.5L440.3 456.5L440.1 455.5L439.9 454.5L439.7 453.5L439.6 452.5L439.4 451.5L439.2 450.5L438.9 449.5L438.7 448.5L438.5 447.5L438.3 446.5L438.0 445.5L437.8 444.5L437.5 443.5L437.3 442.5L437.0 441.5L436.8 440.5L436.5 439.5L436.3 438.5L436.0 437.5L435.8 436.5L435.5 435.5L435.3 434.5L435.1 433.5L434.9 432.5L434.7 431.5L434.5 430.5L434.3 429.5L434.2 428.5L434.0 427.5L433.9 426.5L433.8 425.5L433.7 424.5L433.6 423.5L433.6 422.5L433.6 421.5L433.6 420.5L433.6 419.5L433.6 418.5L433.6 417.5L433.7 416.5L433.8 415.5L433.9 414.5L434.1 413.5L434.2 412.5L434.4 411.5L434.5 410.5L434.7 409.5L434.9 408.5L435.1 407.5L435.4 406.5L435.6 405.5L435.8 404.5L436.1 403.5L436.3 402.5L436.6 401.5L436.8 400.5L437.1 399.5L437.3 398.5L437.6 397.5L437.8 396.5L438.1 395.5L438.3 394.5L438.5 393.5L438.8 392.5L439.0 391.5L439.2 390.5L439.4 389.5L439.6 388.5L439.8 387.5L440.0 386.5L440.1 385.5L440.3 384.5L440.4 383.5L440.6 382.5L440.7 381.5L440.8 380.5L440.9 379.5L441.0 378.5L441.1 377.5L441.2 376.5L441.3 375.5L441.4 374.5L441.5 373.5L441.5 372.5L441.6 371.5L441.6 370.5L441.7 369.5Z" fill="#d56bb4" fill-opacity="0.4" stroke="#d56bb4" stroke-width="1.4" stroke-linejoin="round"/><path d="M444.5 375.0L445.6 376.6L446.1 378.1L446.4 379.7L446.7 381.3L447.0 382.9L447.2 384.4L447.4 386.0L447.4 455.0L447.2 456.0L447.0 457.0L446.7 458.0L446.4 459.0L446.1 460.0L445.6 461.0L444.5 462.0L439.6 462.0L438.5 461.0L438.0 460.0L437.7 459.0L437.4 458.0L437.1 457.0L436.9 456.0L436.6 455.0L436.6 386.0L436.9 384.4L437.1 382.9L437.4 381.3L437.7 379.7L438.0 378.1L438.5 376.6L439.6 375.0Z" fill="url(#gd7)"/><path transform="scale(.25)" d="M1769 1480h0m-5 1h0m12 0h0m-4 2h0m3 1h0m-16 2h0m4 2h0m2 0h0m6 0h0m-20 8h0m4 3h0m8 1h0m2 0h0m-5 2h0m8 4h0m-5 1h0m3 3h0m7 1h0m7 1h0m-11 1h0m6 4h0m5 3h0m-1 0h0m-2 1h0m-3 0h0m-10 1h0m8 1h0m4 1h0m-10 0h0m-12 2h0m16 1h0m-4 0h0m-5 0h0m13 1h0m-1 1h0m-6 0h0m12 3h0m-17 0h0m-5 2h0m-7 0h0m11 1h0m-2 1h0m0 0h0m8 4h0m-17 0h0m4 1h0m9 0h0m13 3h0m-30 16h0m44 10h0m-43 2h0m1 9h0m-3 11h0m42 14h0m-42 7h0m42 1h0m-40 23h0m40 10h0m1 7h0m2 4h0m-41 2h0m-1 8h0m43 7h0m-2 6h0m-39 28h0m-2 18h0m40 13h0m3 0h0m-1 2h0m-1 6h0m-43 9h0m-1 10h0m3 5h0m-1 10h0m40 2h0m3 0h0m1 4h0m-45 3h0m-1 1h0m2 6h0m2 13h0m1 8h0m21 3h0m7 1h0m7 0h0m-27 2h0m5 1h0m-2 0h0m10 1h0m-18 2h0m3 1h0m28 0h0m-13 1h0m9 3h0m-21 1h0m-3 0h0m6 0h0m7 0h0m-6 1h0m8 0h0m9 2h0m-13 1h0m12 6h0m-15 0h0m3 4h0m-6 1h0m10 1h0m5 1h0m-12 4h0m17 0h0m-15 1h0m16 1h0m-16 0h0m-12 1h0m0 1h0m25 2h0m-10 2h0m13 0h0m-8 5h0m-7 1h0m6 2h0m-7 0h0m-4 4h0" stroke="#d56bb4" stroke-width="9.2" stroke-linecap="round" stroke-opacity="0.38" fill="none"/><line x1="436.55" y1="421.20" x2="447.55" y2="421.20" stroke="#000" stroke-width="2"/><path d="M277.5 317.3V496.0H455.0" fill="none" stroke="#303030" stroke-width="1.05"/><path d="M275.40 479.00H277.5M275.40 439.60H277.5M275.40 400.20H277.5M275.40 360.80H277.5M275.40 321.40H277.5M290.50 496.0V498.1M312.15 496.0V498.1M333.80 496.0V498.1M355.45 496.0V498.1M377.10 496.0V498.1M398.75 496.0V498.1M420.40 496.0V498.1M442.05 496.0V498.1" stroke="#111" stroke-width="1.1"/><text x="273.40" y="481.70" font-size="10.5" text-anchor="end" fill="#1a1a1a">0.1</text><text x="273.40" y="442.30" font-size="10.5" text-anchor="end" fill="#1a1a1a">0.2</text><text x="273.40" y="402.90" font-size="10.5" text-anchor="end" fill="#1a1a1a">0.3</text><text x="273.40" y="363.50" font-size="10.5" text-anchor="end" fill="#1a1a1a">0.4</text><text x="273.40" y="324.10" font-size="10.5" text-anchor="end" fill="#1a1a1a">0.5</text><text transform="translate(296.30 505.20) rotate(-45)" font-size="10.5" text-anchor="end" fill="#1a1a1a">WT t0</text><text transform="translate(317.95 505.20) rotate(-45)" font-size="10.5" text-anchor="end" fill="#1a1a1a">WT t05</text><text transform="translate(339.60 505.20) rotate(-45)" font-size="10.5" text-anchor="end" fill="#1a1a1a">WT t15</text><text transform="translate(361.25 505.20) rotate(-45)" font-size="10.5" text-anchor="end" fill="#1a1a1a">WT t30</text><text transform="translate(382.90 505.20) rotate(-45)" font-size="10.5" text-anchor="end" fill="#1a1a1a"><tspan font-style="italic">hog1</tspan> t0</text><text transform="translate(404.55 505.20) rotate(-45)" font-size="10.5" text-anchor="end" fill="#1a1a1a"><tspan font-style="italic">hog1</tspan> t05</text><text transform="translate(426.20 505.20) rotate(-45)" font-size="10.5" text-anchor="end" fill="#1a1a1a"><tspan font-style="italic">hog1</tspan> t15</text><text transform="translate(447.85 505.20) rotate(-45)" font-size="10.5" text-anchor="end" fill="#1a1a1a"><tspan font-style="italic">hog1</tspan> t30</text><text x="359.90" y="543.80" font-size="10.35" text-anchor="middle" fill="#1a1a1a">Genotype and condition</text><text transform="translate(241.6 395.65) rotate(-90)" font-size="10.35" text-anchor="middle" fill="#1a1a1a">Expression repressed</text><text transform="translate(254.3 394.2) rotate(-90)" font-size="10.35" text-anchor="middle" fill="#1a1a1a">osmoconsensus</text><text x="451.60" y="303.80" font-size="13" font-weight="bold" fill="#000">e</text><defs><linearGradient id="ge0" x1="0" y1="0" x2="0" y2="1" color="#f2766e"><stop offset="0" stop-opacity="0.12"/><stop offset="0.088" stop-opacity="0.4"/><stop offset="0.146" stop-opacity="0.97"/><stop offset="0.908" stop-opacity="0.97"/><stop offset="0.945" stop-opacity="0.4"/><stop offset="1" stop-opacity="0.12"/></linearGradient><linearGradient id="ge1" x1="0" y1="0" x2="0" y2="1" color="#c8922a"><stop offset="0" stop-opacity="0.12"/><stop offset="0.058" stop-opacity="0.4"/><stop offset="0.096" stop-opacity="0.97"/><stop offset="0.836" stop-opacity="0.97"/><stop offset="0.901" stop-opacity="0.4"/><stop offset="1" stop-opacity="0.12"/></linearGradient><linearGradient id="ge2" x1="0" y1="0" x2="0" y2="1" color="#7ab33f"><stop offset="0" stop-opacity="0.12"/><stop offset="0.056" stop-opacity="0.4"/><stop offset="0.093" stop-opacity="0.97"/><stop offset="0.837" stop-opacity="0.97"/><stop offset="0.902" stop-opacity="0.4"/><stop offset="1" stop-opacity="0.12"/></linearGradient><linearGradient id="ge3" x1="0" y1="0" x2="0" y2="1" color="#3bb878"><stop offset="0" stop-opacity="0.12"/><stop offset="0.048" stop-opacity="0.4"/><stop offset="0.080" stop-opacity="0.97"/><stop offset="0.946" stop-opacity="0.97"/><stop offset="0.968" stop-opacity="0.4"/><stop offset="1" stop-opacity="0.12"/></linearGradient><linearGradient id="ge4" x1="0" y1="0" x2="0" y2="1" color="#22bdc0"><stop offset="0" stop-opacity="0.12"/><stop offset="0.066" stop-opacity="0.4"/><stop offset="0.110" stop-opacity="0.97"/><stop offset="0.926" stop-opacity="0.97"/><stop offset="0.956" stop-opacity="0.4"/><stop offset="1" stop-opacity="0.12"/></linearGradient><linearGradient id="ge5" x1="0" y1="0" x2="0" y2="1" color="#3c9edb"><stop offset="0" stop-opacity="0.12"/><stop offset="0.060" stop-opacity="0.4"/><stop offset="0.100" stop-opacity="0.97"/><stop offset="0.850" stop-opacity="0.97"/><stop offset="0.910" stop-opacity="0.4"/><stop offset="1" stop-opacity="0.12"/></linearGradient><linearGradient id="ge6" x1="0" y1="0" x2="0" y2="1" color="#977cc6"><stop offset="0" stop-opacity="0.12"/><stop offset="0.088" stop-opacity="0.4"/><stop offset="0.147" stop-opacity="0.97"/><stop offset="0.883" stop-opacity="0.97"/><stop offset="0.930" stop-opacity="0.4"/><stop offset="1" stop-opacity="0.12"/></linearGradient><linearGradient id="ge7" x1="0" y1="0" x2="0" y2="1" color="#d56bb4"><stop offset="0" stop-opacity="0.12"/><stop offset="0.064" stop-opacity="0.4"/><stop offset="0.107" stop-opacity="0.97"/><stop offset="0.910" stop-opacity="0.97"/><stop offset="0.946" stop-opacity="0.4"/><stop offset="1" stop-opacity="0.12"/></linearGradient></defs><path d="M520.6 421.0L520.6 422.0L520.6 423.0L520.7 424.0L520.8 425.0L521.0 426.0L521.3 427.0L521.6 428.0L522.0 429.0L522.4 430.0L523.0 431.0L523.6 432.0L524.3 433.0L525.1 434.0L525.9 435.0L526.7 436.0L527.5 437.0L528.3 438.0L529.0 439.0L529.5 440.0L529.8 441.0L529.7 442.0L529.4 443.0L528.9 444.0L528.2 445.0L527.4 446.0L526.6 447.0L525.7 448.0L524.9 449.0L524.1 450.0L523.5 451.0L522.8 452.0L522.3 453.0L521.9 454.0L521.5 455.0L521.2 456.0L521.0 457.0L520.8 458.0L520.7 459.0L520.6 460.0L520.6 461.0L520.6 462.0L520.6 463.0L520.6 464.0L520.6 465.0L520.0 465.0L520.0 464.0L520.0 463.0L520.0 462.0L520.0 461.0L520.0 460.0L519.9 459.0L519.8 458.0L519.6 457.0L519.4 456.0L519.1 455.0L518.7 454.0L518.3 453.0L517.8 452.0L517.1 451.0L516.5 450.0L515.7 449.0L514.9 448.0L514.0 447.0L513.2 446.0L512.4 445.0L511.7 444.0L511.2 443.0L510.9 442.0L510.8 441.0L511.1 440.0L511.6 439.0L512.3 438.0L513.1 437.0L513.9 436.0L514.7 435.0L515.5 434.0L516.3 433.0L517.0 432.0L517.6 431.0L518.2 430.0L518.6 429.0L519.0 428.0L519.3 427.0L519.6 426.0L519.8 425.0L519.9 424.0L520.0 423.0L520.0 422.0L520.0 421.0Z" fill="#f2766e" fill-opacity="0.4" stroke="#f2766e" stroke-width="1.4" stroke-linejoin="round"/><path d="M522.7 423.0L523.9 423.8L524.3 424.6L524.7 425.4L525.0 426.3L525.2 427.1L525.5 427.9L525.7 428.7L525.7 458.4L525.5 458.9L525.2 459.4L525.0 459.9L524.7 460.5L524.3 461.0L523.9 461.5L522.7 462.0L517.9 462.0L516.7 461.5L516.3 461.0L515.9 460.5L515.6 459.9L515.4 459.4L515.1 458.9L514.9 458.4L514.9 428.7L515.1 427.9L515.4 427.1L515.6 426.3L515.9 425.4L516.3 424.6L516.7 423.8L517.9 423.0Z" fill="url(#ge0)"/><path transform="scale(.25)" d="M2092 1686h0m-11 0h0m11 2h0m-23 0h0m14 1h0m9 1h0m-14 1h0m1 0h0m-7 0h0m7 1h0m21 0h0m-35 0h0m23 0h0m-16 1h0m11 8h0m2 1h0m-13 1h0m21 1h0m-5 2h0m3 2h0m8 2h0m-29 1h0m15 1h0m15 0h0m-2 1h0m-29 0h0m-6 0h0m1 0h0m16 0h0m14 1h0m-17 1h0m24 2h0m-42 8h0m41 5h0m1 12h0m-42 4h0m41 2h0m1 3h0m-42 6h0m43 3h0m-41 7h0m40 23h0m0 27h0m-39 11h0m-4 2h0m36 4h0m5 0h0m-14 1h0m-16 2h0m18 2h0m-2 1h0m-15 0h0m3 0h0m4 2h0m11 1h0m4 1h0m0 5h0m-14 0h0m-5 1h0m21 0h0m-27 1h0m13 1h0m15 0h0m-2 2h0m-3 1h0m-19 2h0" stroke="#f2766e" stroke-width="9.2" stroke-linecap="round" stroke-opacity="0.38" fill="none"/><line x1="514.80" y1="442.10" x2="525.80" y2="442.10" stroke="#000" stroke-width="2"/><path d="M542.2 423.0L542.3 424.0L542.4 425.0L542.6 426.0L542.8 427.0L543.1 428.0L543.5 429.0L543.9 430.0L544.4 431.0L545.0 432.0L545.7 433.0L546.4 434.0L547.2 435.0L548.0 436.0L548.8 437.0L549.5 438.0L550.2 439.0L550.6 440.0L550.9 441.0L550.9 442.0L550.6 443.0L550.0 444.0L549.4 445.0L548.6 446.0L547.8 447.0L547.0 448.0L546.3 449.0L545.5 450.0L544.9 451.0L544.3 452.0L543.8 453.0L543.4 454.0L543.0 455.0L542.8 456.0L542.6 457.0L542.4 458.0L542.3 459.0L542.2 460.0L542.2 461.0L542.2 462.0L542.2 463.0L542.2 464.0L542.2 464.5L541.6 464.5L541.6 464.0L541.6 463.0L541.6 462.0L541.6 461.0L541.6 460.0L541.6 459.0L541.5 458.0L541.3 457.0L541.1 456.0L540.9 455.0L540.5 454.0L540.1 453.0L539.6 452.0L539.0 451.0L538.4 450.0L537.6 449.0L536.9 448.0L536.1 447.0L535.3 446.0L534.5 445.0L533.9 444.0L533.3 443.0L533.0 442.0L533.0 441.0L533.3 440.0L533.7 439.0L534.4 438.0L535.1 437.0L535.9 436.0L536.7 435.0L537.5 434.0L538.2 433.0L538.9 432.0L539.5 431.0L540.0 430.0L540.4 429.0L540.8 428.0L541.1 427.0L541.3 426.0L541.5 425.0L541.6 424.0L541.6 423.0Z" fill="#c8922a" fill-opacity="0.4" stroke="#c8922a" stroke-width="1.4" stroke-linejoin="round"/><path d="M544.4 424.5L545.5 425.0L546.0 425.5L546.3 426.0L546.6 426.5L546.9 427.0L547.1 427.5L547.3 428.0L547.3 455.0L547.1 455.9L546.9 456.7L546.6 457.6L546.3 458.4L546.0 459.3L545.5 460.1L544.4 461.0L539.5 461.0L538.4 460.1L537.9 459.3L537.6 458.4L537.3 457.6L537.0 456.7L536.8 455.9L536.5 455.0L536.5 428.0L536.8 427.5L537.0 427.0L537.3 426.5L537.6 426.0L537.9 425.5L538.4 425.0L539.5 424.5Z" fill="url(#ge1)"/><path transform="scale(.25)" d="M2174 1692h0m-12 1h0m14 0h0m-11 2h0m17 0h0m-19 1h0m10 1h0m3 1h0m4 0h0m-11 0h0m-9 4h0m12 0h0m-5 1h0m-9 2h0m3 2h0m7 2h0m10 0h0m6 1h0m-15 0h0m12 2h0m6 0h0m3 19h0m1 6h0m-2 1h0m-43 4h0m44 14h0m1 1h0m-46 1h0m4 4h0m40 1h0m0 9h0m-43 4h0m2 3h0m-1 38h0m16 3h0m13 1h0m-7 1h0m8 0h0m-26 1h0m11 1h0m2 1h0m-2 0h0m1 3h0m1 1h0m-5 1h0m10 1h0m-9 1h0m0 0h0m20 3h0m-13 2h0m-8 2h0m9 0h0m-1 2h0m-17 3h0m28 0h0m2 0h0m6 0h0m-2 0h0m-27 2h0m5 0h0m8 0h0m-13 0h0m-5 1h0m29 4h0m-11 4h0m-4 2h0" stroke="#c8922a" stroke-width="9.2" stroke-linecap="round" stroke-opacity="0.38" fill="none"/><line x1="536.45" y1="441.30" x2="547.45" y2="441.30" stroke="#000" stroke-width="2"/><path d="M563.9 416.0L563.9 417.0L563.9 418.0L563.9 419.0L563.9 420.0L563.9 421.0L564.1 422.0L564.2 423.0L564.4 424.0L564.7 425.0L565.1 426.0L565.5 427.0L566.0 428.0L566.6 429.0L567.3 430.0L568.1 431.0L568.9 432.0L569.7 433.0L570.6 434.0L571.4 435.0L572.1 436.0L572.6 437.0L573.0 438.0L573.1 439.0L572.8 440.0L572.3 441.0L571.7 442.0L570.9 443.0L570.1 444.0L569.2 445.0L568.4 446.0L567.6 447.0L566.9 448.0L566.3 449.0L565.7 450.0L565.2 451.0L564.9 452.0L564.6 453.0L564.3 454.0L564.1 455.0L564.0 456.0L563.9 457.0L563.9 458.0L563.9 459.0L563.9 460.0L563.9 461.0L563.9 462.0L563.9 463.0L563.9 464.0L563.9 465.0L563.3 465.0L563.3 464.0L563.3 463.0L563.3 462.0L563.3 461.0L563.3 460.0L563.3 459.0L563.3 458.0L563.3 457.0L563.2 456.0L563.1 455.0L562.9 454.0L562.6 453.0L562.3 452.0L562.0 451.0L561.5 450.0L560.9 449.0L560.3 448.0L559.6 447.0L558.8 446.0L558.0 445.0L557.1 444.0L556.3 443.0L555.5 442.0L554.9 441.0L554.4 440.0L554.1 439.0L554.2 438.0L554.6 437.0L555.1 436.0L555.8 435.0L556.6 434.0L557.5 433.0L558.3 432.0L559.1 431.0L559.9 430.0L560.6 429.0L561.2 428.0L561.7 427.0L562.1 426.0L562.5 425.0L562.8 424.0L563.0 423.0L563.1 422.0L563.3 421.0L563.3 420.0L563.3 419.0L563.3 418.0L563.3 417.0L563.3 416.0Z" fill="#7ab33f" fill-opacity="0.4" stroke="#7ab33f" stroke-width="1.4" stroke-linejoin="round"/><path d="M566.0 418.0L567.2 418.6L567.6 419.1L568.0 419.7L568.3 420.3L568.5 420.9L568.8 421.4L569.0 422.0L569.0 454.0L568.8 455.0L568.5 456.0L568.3 457.0L568.0 458.0L567.6 459.0L567.2 460.0L566.0 461.0L561.2 461.0L560.0 460.0L559.6 459.0L559.2 458.0L558.9 457.0L558.7 456.0L558.4 455.0L558.2 454.0L558.2 422.0L558.4 421.4L558.7 420.9L558.9 420.3L559.2 419.7L559.6 419.1L560.0 418.6L561.2 418.0Z" fill="url(#ge2)"/><path transform="scale(.25)" d="M2260 1666h0m-6 1h0m6 0h0m-11 0h0m-8 2h0m15 0h0m-2 1h0m14 1h0m-11 0h0m-19 1h0m13 2h0m11 2h0m-2 3h0m2 1h0m-5 0h0m-6 0h0m2 1h0m7 3h0m-13 3h0m18 1h0m-5 0h0m-12 0h0m-16 9h0m46 2h0m-1 2h0m-2 10h0m-42 2h0m2 4h0m39 3h0m-40 9h0m39 3h0m-38 4h0m39 14h0m3 3h0m-3 13h0m1 4h0m-1 27h0m1 4h0m-23 15h0m20 6h0m-25 2h0m22 0h0m1 0h0m-10 2h0m-20 0h0m19 1h0m-2 2h0m5 0h0m6 1h0m-8 1h0m0 0h0m8 1h0m-14 0h0m10 1h0m-6 4h0m1 2h0m-12 1h0m5 0h0m-4 1h0m-3 1h0m-6 3h0m26 1h0m-25 1h0m3 0h0m25 1h0m-14 0h0m14 1h0m-6 2h0m-2 0h0m1 3h0m0 0h0m0 1h0m5 1h0m-18 1h0m1 1h0" stroke="#7ab33f" stroke-width="9.2" stroke-linecap="round" stroke-opacity="0.38" fill="none"/><line x1="558.10" y1="438.90" x2="569.10" y2="438.90" stroke="#000" stroke-width="2"/><path d="M585.5 423.4L585.5 424.4L585.6 425.4L585.7 426.4L585.9 427.4L586.1 428.4L586.3 429.4L586.6 430.4L587.0 431.4L587.4 432.4L587.9 433.4L588.4 434.4L589.1 435.4L589.7 436.4L590.4 437.4L591.2 438.4L591.9 439.4L592.7 440.4L593.3 441.4L593.9 442.4L594.3 443.4L594.5 444.4L594.5 445.4L594.2 446.4L593.8 447.4L593.2 448.4L592.5 449.4L591.8 450.4L591.0 451.4L590.3 452.4L589.6 453.4L588.9 454.4L588.3 455.4L587.8 456.4L587.3 457.4L586.9 458.4L586.5 459.4L586.3 460.4L586.0 461.4L585.8 462.4L585.7 463.4L585.6 464.4L585.5 465.4L585.5 466.4L585.5 467.4L585.5 467.5L585.0 467.5L585.0 467.4L585.0 466.4L585.0 465.4L584.9 464.4L584.8 463.4L584.7 462.4L584.5 461.4L584.2 460.4L584.0 459.4L583.6 458.4L583.2 457.4L582.7 456.4L582.2 455.4L581.6 454.4L580.9 453.4L580.2 452.4L579.5 451.4L578.7 450.4L578.0 449.4L577.3 448.4L576.7 447.4L576.3 446.4L576.0 445.4L576.0 444.4L576.2 443.4L576.6 442.4L577.2 441.4L577.8 440.4L578.6 439.4L579.3 438.4L580.1 437.4L580.8 436.4L581.4 435.4L582.1 434.4L582.6 433.4L583.1 432.4L583.5 431.4L583.9 430.4L584.2 429.4L584.4 428.4L584.6 427.4L584.8 426.4L584.9 425.4L585.0 424.4L585.0 423.4Z" fill="#3bb878" fill-opacity="0.4" stroke="#3bb878" stroke-width="1.4" stroke-linejoin="round"/><path d="M587.7 425.0L588.8 425.5L589.3 425.9L589.6 426.4L589.9 426.9L590.2 427.4L590.4 427.8L590.6 428.3L590.6 463.8L590.4 464.1L590.2 464.4L589.9 464.7L589.6 465.1L589.3 465.4L588.8 465.7L587.7 466.0L582.8 466.0L581.7 465.7L581.2 465.4L580.9 465.1L580.6 464.7L580.3 464.4L580.1 464.1L579.9 463.8L579.9 428.3L580.1 427.8L580.3 427.4L580.6 426.9L580.9 426.4L581.2 425.9L581.7 425.5L582.8 425.0Z" fill="url(#ge3)"/><path transform="scale(.25)" d="M2346 1694h0m10 3h0m-23 1h0m-1 0h0m24 0h0m-27 1h0m14 0h0m4 2h0m-4 1h0m-15 5h0m12 0h0m12 2h0m-28 1h0m13 0h0m2 2h0m17 1h0m-22 0h0m29 3h0m-2 6h0m0 5h0m3 1h0m-2 1h0m-42 2h0m43 5h0m1 6h0m-3 7h0m-42 28h0m45 4h0m-42 7h0m39 7h0m3 19h0m-44 15h0m0 11h0m44 0h0m-23 15h0m16 1h0m-20 1h0m-5 0h0m15 0h0m-12 2h0m17 1h0m-22 5h0m10 0h0m14 1h0m-28 1h0m13 2h0" stroke="#3bb878" stroke-width="9.2" stroke-linecap="round" stroke-opacity="0.38" fill="none"/><line x1="579.75" y1="444.70" x2="590.75" y2="444.70" stroke="#000" stroke-width="2"/><path d="M607.2 417.3L607.2 418.3L607.2 419.3L607.2 420.3L607.2 421.3L607.2 422.3L607.2 423.3L607.2 424.3L607.2 425.3L607.3 426.3L607.5 427.3L607.8 428.3L608.2 429.3L608.6 430.3L609.2 431.3L609.9 432.3L610.7 433.3L611.6 434.3L612.6 435.3L613.6 436.3L614.6 437.3L615.4 438.3L616.1 439.3L616.4 440.3L616.2 441.3L615.7 442.3L614.9 443.3L614.0 444.3L613.0 445.3L612.0 446.3L611.1 447.3L610.2 448.3L609.5 449.3L608.9 450.3L608.3 451.3L607.9 452.3L607.6 453.3L607.4 454.3L607.2 455.3L607.2 456.3L607.2 457.3L607.2 458.3L607.2 459.3L607.2 460.3L607.2 461.3L607.2 462.3L607.2 463.3L607.2 464.3L607.2 465.3L607.2 465.7L606.6 465.7L606.6 465.3L606.6 464.3L606.6 463.3L606.6 462.3L606.6 461.3L606.6 460.3L606.6 459.3L606.6 458.3L606.6 457.3L606.6 456.3L606.6 455.3L606.4 454.3L606.2 453.3L605.9 452.3L605.5 451.3L604.9 450.3L604.3 449.3L603.6 448.3L602.7 447.3L601.8 446.3L600.8 445.3L599.8 444.3L598.9 443.3L598.1 442.3L597.6 441.3L597.4 440.3L597.7 439.3L598.4 438.3L599.2 437.3L600.2 436.3L601.2 435.3L602.2 434.3L603.1 433.3L603.9 432.3L604.6 431.3L605.2 430.3L605.6 429.3L606.0 428.3L606.3 427.3L606.5 426.3L606.6 425.3L606.6 424.3L606.6 423.3L606.6 422.3L606.6 421.3L606.6 420.3L606.6 419.3L606.6 418.3L606.6 417.3Z" fill="#22bdc0" fill-opacity="0.4" stroke="#22bdc0" stroke-width="1.4" stroke-linejoin="round"/><path d="M609.3 420.0L610.5 420.7L610.9 421.3L611.3 422.0L611.6 422.6L611.8 423.3L612.1 423.9L612.3 424.6L612.3 458.9L612.1 459.3L611.8 459.8L611.6 460.2L611.3 460.7L610.9 461.1L610.5 461.6L609.3 462.0L604.5 462.0L603.3 461.6L602.9 461.1L602.5 460.7L602.2 460.2L602.0 459.8L601.7 459.3L601.5 458.9L601.5 424.6L601.7 423.9L602.0 423.3L602.2 422.6L602.5 422.0L602.9 421.3L603.3 420.7L604.5 420.0Z" fill="url(#ge4)"/><path transform="scale(.25)" d="M2430 1671h0m-9 1h0m20 3h0m-3 0h0m-13 1h0m20 2h0m-26 1h0m26 1h0m-26 0h0m12 0h0m2 9h0m-2 0h0m-5 1h0m-14 2h0m1 0h0m3 1h0m28 1h0m1 1h0m-33 0h0m19 1h0m5 0h0m1 1h0m-22 1h0m31 0h0m-40 2h0m1 1h0m2 22h0m37 0h0m-39 3h0m43 2h0m-41 3h0m37 31h0m2 10h0m-39 6h0m37 15h0m-41 15h0m0 1h0m45 1h0m-45 14h0m1 3h0m-1 6h0m14 5h0m18 1h0m-6 0h0m-13 0h0m-4 2h0m2 4h0m15 0h0m8 1h0m-9 1h0m-19 1h0m7 0h0m18 2h0m-9 1h0m3 3h0m10 1h0m-15 0h0m-7 1h0m6 2h0m6 4h0" stroke="#22bdc0" stroke-width="9.2" stroke-linecap="round" stroke-opacity="0.38" fill="none"/><line x1="601.40" y1="441.30" x2="612.40" y2="441.30" stroke="#000" stroke-width="2"/><path d="M628.8 419.7L628.8 420.7L628.8 421.7L628.8 422.7L628.8 423.7L628.9 424.7L629.1 425.7L629.3 426.7L629.6 427.7L630.0 428.7L630.5 429.7L631.0 430.7L631.7 431.7L632.4 432.7L633.3 433.7L634.2 434.7L635.1 435.7L636.0 436.7L636.8 437.7L637.5 438.7L637.9 439.7L638.0 440.7L637.8 441.7L637.2 442.7L636.5 443.7L635.6 444.7L634.7 445.7L633.8 446.7L632.9 447.7L632.1 448.7L631.4 449.7L630.8 450.7L630.3 451.7L629.8 452.7L629.5 453.7L629.2 454.7L629.0 455.7L628.9 456.7L628.8 457.7L628.8 458.7L628.8 459.7L628.8 460.7L628.8 461.7L628.8 462.7L628.8 463.7L628.8 464.7L628.8 465.7L628.2 465.7L628.2 464.7L628.2 463.7L628.2 462.7L628.2 461.7L628.2 460.7L628.2 459.7L628.2 458.7L628.2 457.7L628.2 456.7L628.1 455.7L627.9 454.7L627.6 453.7L627.3 452.7L626.8 451.7L626.3 450.7L625.7 449.7L625.0 448.7L624.2 447.7L623.3 446.7L622.4 445.7L621.5 444.7L620.6 443.7L619.9 442.7L619.3 441.7L619.1 440.7L619.2 439.7L619.6 438.7L620.3 437.7L621.1 436.7L622.0 435.7L622.9 434.7L623.8 433.7L624.7 432.7L625.4 431.7L626.1 430.7L626.6 429.7L627.1 428.7L627.5 427.7L627.8 426.7L628.0 425.7L628.2 424.7L628.2 423.7L628.2 422.7L628.2 421.7L628.2 420.7L628.2 419.7Z" fill="#3c9edb" fill-opacity="0.4" stroke="#3c9edb" stroke-width="1.4" stroke-linejoin="round"/><path d="M631.0 421.0L632.1 421.6L632.6 422.1L632.9 422.7L633.2 423.3L633.5 423.9L633.7 424.4L633.9 425.0L633.9 455.0L633.7 455.9L633.5 456.7L633.2 457.6L632.9 458.4L632.6 459.3L632.1 460.1L631.0 461.0L626.1 461.0L625.0 460.1L624.5 459.3L624.2 458.4L623.9 457.6L623.6 456.7L623.4 455.9L623.1 455.0L623.1 425.0L623.4 424.4L623.6 423.9L623.9 423.3L624.2 422.7L624.5 422.1L625.0 421.6L626.1 421.0Z" fill="url(#ge5)"/><path transform="scale(.25)" d="M2506 1680h0m15 0h0m-7 1h0m9 0h0m-5 0h0m0 2h0m10 1h0m-20 2h0m-2 0h0m14 6h0m-14 2h0m21 0h0m-8 1h0m-8 1h0m4 2h0m17 0h0m-26 1h0m-2 0h0m17 1h0m16 1h0m-46 30h0m43 4h0m-40 3h0m-1 2h0m2 2h0m38 2h0m0 6h0m3 4h0m1 3h0m-44 10h0m43 3h0m-41 3h0m-1 38h0m-3 5h0m25 4h0m-18 1h0m-3 0h0m24 1h0m-13 0h0m1 1h0m11 1h0m-4 3h0m15 1h0m-27 0h0m-2 2h0m24 0h0m-9 0h0m-6 2h0m8 2h0m1 1h0m2 7h0m-2 0h0m5 2h0m-19 0h0m28 0h0m-12 1h0m-11 0h0m0 0h0m15 3h0m-7 0h0m-18 1h0m25 0h0m-20 2h0m4 4h0m6 2h0m7 0h0m2 2h0m-4 4h0" stroke="#3c9edb" stroke-width="9.2" stroke-linecap="round" stroke-opacity="0.38" fill="none"/><line x1="623.05" y1="440.70" x2="634.05" y2="440.70" stroke="#000" stroke-width="2"/><path d="M650.5 417.3L650.5 418.3L650.5 419.3L650.5 420.3L650.5 421.3L650.5 422.3L650.5 423.3L650.7 424.3L650.9 425.3L651.1 426.3L651.5 427.3L651.9 428.3L652.4 429.3L652.9 430.3L653.6 431.3L654.4 432.3L655.2 433.3L656.1 434.3L657.0 435.3L657.8 436.3L658.6 437.3L659.2 438.3L659.6 439.3L659.7 440.3L659.4 441.3L658.9 442.3L658.1 443.3L657.3 444.3L656.5 445.3L655.6 446.3L654.7 447.3L653.9 448.3L653.2 449.3L652.6 450.3L652.1 451.3L651.6 452.3L651.3 453.3L651.0 454.3L650.8 455.3L650.6 456.3L650.5 457.3L650.5 458.3L650.5 459.3L650.5 460.3L650.5 461.3L650.5 462.0L649.9 462.0L649.9 461.3L649.9 460.3L649.9 459.3L649.9 458.3L649.9 457.3L649.8 456.3L649.6 455.3L649.4 454.3L649.1 453.3L648.8 452.3L648.3 451.3L647.8 450.3L647.2 449.3L646.5 448.3L645.7 447.3L644.8 446.3L643.9 445.3L643.1 444.3L642.3 443.3L641.5 442.3L641.0 441.3L640.7 440.3L640.8 439.3L641.2 438.3L641.8 437.3L642.6 436.3L643.4 435.3L644.3 434.3L645.2 433.3L646.0 432.3L646.8 431.3L647.5 430.3L648.0 429.3L648.5 428.3L648.9 427.3L649.3 426.3L649.5 425.3L649.7 424.3L649.9 423.3L649.9 422.3L649.9 421.3L649.9 420.3L649.9 419.3L649.9 418.3L649.9 417.3Z" fill="#977cc6" fill-opacity="0.4" stroke="#977cc6" stroke-width="1.4" stroke-linejoin="round"/><path d="M652.6 420.0L653.8 420.8L654.2 421.7L654.6 422.5L654.9 423.4L655.1 424.2L655.4 425.1L655.6 425.9L655.6 455.3L655.4 456.0L655.1 456.6L654.9 457.3L654.6 458.0L654.2 458.7L653.8 459.3L652.6 460.0L647.8 460.0L646.6 459.3L646.2 458.7L645.8 458.0L645.5 457.3L645.3 456.6L645.0 456.0L644.8 455.3L644.8 425.9L645.0 425.1L645.3 424.2L645.5 423.4L645.8 422.5L646.2 421.7L646.6 420.8L647.8 420.0Z" fill="url(#ge6)"/><path transform="scale(.25)" d="M2602 1670h0m-18 8h0m27 0h0m3 0h0m-29 1h0m15 0h0m-16 1h0m13 0h0m-1 0h0m10 0h0m-9 2h0m2 3h0m-6 1h0m18 1h0m-1 1h0m-19 1h0m18 1h0m-2 1h0m5 0h0m-10 1h0m2 0h0m-1 4h0m14 2h0m-5 0h0m-23 1h0m28 0h0m-23 1h0m25 1h0m2 6h0m3 9h0m-45 24h0m42 4h0m-43 2h0m42 4h0m-42 3h0m1 10h0m43 6h0m0 18h0m-41 3h0m41 1h0m-1 5h0m-39 20h0m38 6h0m-23 0h0m21 1h0m0 1h0m-11 0h0m-8 0h0m15 0h0m-17 1h0m-9 4h0m18 0h0m-5 0h0m-4 4h0m7 0h0m-9 0h0m13 2h0m-4 5h0m-7 1h0m12 0h0m-1 0h0m1 1h0m6 1h0m-23 1h0m9 0h0m6 1h0m6 0h0m-22 1h0m15 2h0m-5 0h0" stroke="#977cc6" stroke-width="9.2" stroke-linecap="round" stroke-opacity="0.38" fill="none"/><line x1="644.70" y1="439.90" x2="655.70" y2="439.90" stroke="#000" stroke-width="2"/><path d="M672.1 419.7L672.1 420.7L672.1 421.7L672.1 422.7L672.2 423.7L672.3 424.7L672.4 425.7L672.6 426.7L672.9 427.7L673.2 428.7L673.6 429.7L674.0 430.7L674.5 431.7L675.1 432.7L675.7 433.7L676.4 434.7L677.2 435.7L677.9 436.7L678.7 437.7L679.4 438.7L680.0 439.7L680.5 440.7L680.8 441.7L680.8 442.7L680.6 443.7L680.2 444.7L679.6 445.7L679.0 446.7L678.2 447.7L677.5 448.7L676.7 449.7L676.0 450.7L675.4 451.7L674.7 452.7L674.2 453.7L673.7 454.7L673.3 455.7L673.0 456.7L672.7 457.7L672.5 458.7L672.4 459.7L672.2 460.7L672.1 461.7L672.1 462.7L672.1 463.7L672.1 464.7L672.1 465.7L672.1 466.3L671.5 466.3L671.5 465.7L671.5 464.7L671.5 463.7L671.5 462.7L671.5 461.7L671.5 460.7L671.3 459.7L671.2 458.7L671.0 457.7L670.7 456.7L670.4 455.7L670.0 454.7L669.5 453.7L669.0 452.7L668.3 451.7L667.7 450.7L667.0 449.7L666.2 448.7L665.5 447.7L664.7 446.7L664.1 445.7L663.5 444.7L663.1 443.7L662.9 442.7L662.9 441.7L663.2 440.7L663.7 439.7L664.3 438.7L665.0 437.7L665.8 436.7L666.5 435.7L667.3 434.7L668.0 433.7L668.6 432.7L669.2 431.7L669.7 430.7L670.1 429.7L670.5 428.7L670.8 427.7L671.1 426.7L671.3 425.7L671.4 424.7L671.5 423.7L671.5 422.7L671.5 421.7L671.5 420.7L671.5 419.7Z" fill="#d56bb4" fill-opacity="0.4" stroke="#d56bb4" stroke-width="1.4" stroke-linejoin="round"/><path d="M674.3 422.0L675.4 422.6L675.9 423.3L676.2 423.9L676.5 424.6L676.8 425.2L677.0 425.9L677.2 426.5L677.2 460.2L677.0 460.7L676.8 461.3L676.5 461.8L676.2 462.4L675.9 462.9L675.4 463.5L674.3 464.0L669.4 464.0L668.3 463.5L667.8 462.9L667.5 462.4L667.2 461.8L666.9 461.3L666.7 460.7L666.4 460.2L666.4 426.5L666.7 425.9L666.9 425.2L667.2 424.6L667.5 423.9L667.8 423.3L668.3 422.6L669.4 422.0Z" fill="url(#ge7)"/><path transform="scale(.25)" d="M2694 1681h0m5 1h0m-18 0h0m16 2h0m2 1h0m-16 1h0m-9 0h0m30 2h0m-35 0h0m22 0h0m-12 4h0m5 3h0m2 1h0m-4 1h0m1 1h0m16 3h0m-18 0h0m22 0h0m-22 1h0m-8 0h0m10 3h0m13 0h0m-20 0h0m20 0h0m-31 21h0m0 0h0m44 7h0m-1 2h0m-43 2h0m42 7h0m-39 41h0m39 4h0m-38 8h0m-3 5h0m43 7h0m0 11h0m-43 8h0m42 0h0m-42 6h0m41 6h0m-23 1h0m20 2h0m-26 1h0m2 0h0m14 2h0m-12 0h0m6 1h0m10 1h0m-15 1h0m-10 1h0m21 1h0m-9 2h0m-15 3h0m0 1h0m6 1h0m2 1h0m9 0h0m-14 1h0m25 0h0m-16 3h0m6 1h0m-9 1h0" stroke="#d56bb4" stroke-width="9.2" stroke-linecap="round" stroke-opacity="0.38" fill="none"/><line x1="666.35" y1="442.60" x2="677.35" y2="442.60" stroke="#000" stroke-width="2"/><path d="M507.7 317.9V496.0H685.5" fill="none" stroke="#303030" stroke-width="1.05"/><path d="M505.60 470.00H507.7M505.60 433.80H507.7M505.60 397.60H507.7M505.60 361.40H507.7M505.60 325.20H507.7M520.30 496.0V498.1M541.95 496.0V498.1M563.60 496.0V498.1M585.25 496.0V498.1M606.90 496.0V498.1M628.55 496.0V498.1M650.20 496.0V498.1M671.85 496.0V498.1" stroke="#111" stroke-width="1.1"/><text x="503.00" y="472.70" font-size="10.5" text-anchor="end" fill="#1a1a1a">0.1</text><text x="503.00" y="436.50" font-size="10.5" text-anchor="end" fill="#1a1a1a">0.2</text><text x="503.00" y="400.30" font-size="10.5" text-anchor="end" fill="#1a1a1a">0.3</text><text x="503.00" y="364.10" font-size="10.5" text-anchor="end" fill="#1a1a1a">0.4</text><text x="503.00" y="327.90" font-size="10.5" text-anchor="end" fill="#1a1a1a">0.5</text><text transform="translate(526.10 505.20) rotate(-45)" font-size="10.5" text-anchor="end" fill="#1a1a1a">WT t0</text><text transform="translate(547.75 505.20) rotate(-45)" font-size="10.5" text-anchor="end" fill="#1a1a1a">WT t05</text><text transform="translate(569.40 505.20) rotate(-45)" font-size="10.5" text-anchor="end" fill="#1a1a1a">WT t15</text><text transform="translate(591.05 505.20) rotate(-45)" font-size="10.5" text-anchor="end" fill="#1a1a1a">WT t30</text><text transform="translate(612.70 505.20) rotate(-45)" font-size="10.5" text-anchor="end" fill="#1a1a1a"><tspan font-style="italic">hog1</tspan> t0</text><text transform="translate(634.35 505.20) rotate(-45)" font-size="10.5" text-anchor="end" fill="#1a1a1a"><tspan font-style="italic">hog1</tspan> t05</text><text transform="translate(656.00 505.20) rotate(-45)" font-size="10.5" text-anchor="end" fill="#1a1a1a"><tspan font-style="italic">hog1</tspan> t15</text><text transform="translate(677.65 505.20) rotate(-45)" font-size="10.5" text-anchor="end" fill="#1a1a1a"><tspan font-style="italic">hog1</tspan> t30</text><text x="589.20" y="543.80" font-size="10.35" text-anchor="middle" fill="#1a1a1a">Genotype and condition</text><text transform="translate(470.8 401.2) rotate(-90)" font-size="10.35" text-anchor="middle" fill="#1a1a1a">Expression unresponsive</text><text transform="translate(483.0 399.6) rotate(-90)" font-size="10.35" text-anchor="middle" fill="#1a1a1a">osmoconsensus</text>
</svg>
</body></html>
